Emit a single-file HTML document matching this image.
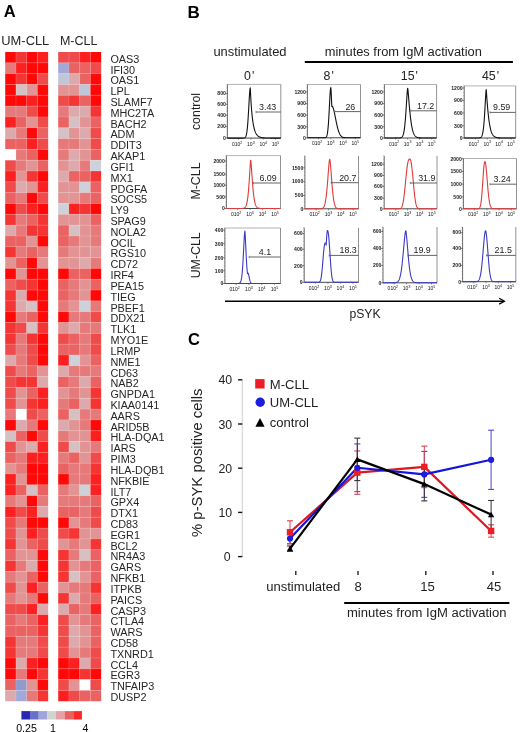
<!DOCTYPE html>
<html><head><meta charset="utf-8"><style>
html,body{margin:0;padding:0;background:#fff;}
svg{display:block;font-family:"Liberation Sans", sans-serif;filter:blur(0.3px);}
</style></head><body>
<svg width="520" height="732" viewBox="0 0 520 732">
<text x="3.8" y="17.3" font-size="16.5" font-weight="bold">A</text>
<text x="1.3" y="45.2" font-size="12.9" fill="#262626">UM-CLL</text>
<text x="59.9" y="45.2" font-size="12.5" fill="#262626">M-CLL</text>
<rect x="5.20" y="52.00" width="10.78" height="10.87" fill="#ff0808"/>
<rect x="15.93" y="52.00" width="10.78" height="10.87" fill="#f53434"/>
<rect x="26.65" y="52.00" width="10.78" height="10.87" fill="#ff0808"/>
<rect x="37.38" y="52.00" width="10.78" height="10.87" fill="#fc2020"/>
<rect x="5.20" y="62.82" width="10.78" height="10.87" fill="#e67a7a"/>
<rect x="15.93" y="62.82" width="10.78" height="10.87" fill="#fc2020"/>
<rect x="26.65" y="62.82" width="10.78" height="10.87" fill="#ff0808"/>
<rect x="37.38" y="62.82" width="10.78" height="10.87" fill="#ff0808"/>
<rect x="5.20" y="73.64" width="10.78" height="10.87" fill="#ff0808"/>
<rect x="15.93" y="73.64" width="10.78" height="10.87" fill="#f53434"/>
<rect x="26.65" y="73.64" width="10.78" height="10.87" fill="#ff0808"/>
<rect x="37.38" y="73.64" width="10.78" height="10.87" fill="#ef4b4b"/>
<rect x="5.20" y="84.46" width="10.78" height="10.87" fill="#ff0808"/>
<rect x="15.93" y="84.46" width="10.78" height="10.87" fill="#d5c0c3"/>
<rect x="26.65" y="84.46" width="10.78" height="10.87" fill="#e29494"/>
<rect x="37.38" y="84.46" width="10.78" height="10.87" fill="#ff0808"/>
<rect x="5.20" y="95.28" width="10.78" height="10.87" fill="#ff0808"/>
<rect x="15.93" y="95.28" width="10.78" height="10.87" fill="#ff0808"/>
<rect x="26.65" y="95.28" width="10.78" height="10.87" fill="#fc2020"/>
<rect x="37.38" y="95.28" width="10.78" height="10.87" fill="#ff0808"/>
<rect x="5.20" y="106.10" width="10.78" height="10.87" fill="#e67a7a"/>
<rect x="15.93" y="106.10" width="10.78" height="10.87" fill="#e67a7a"/>
<rect x="26.65" y="106.10" width="10.78" height="10.87" fill="#ef4b4b"/>
<rect x="37.38" y="106.10" width="10.78" height="10.87" fill="#ff0808"/>
<rect x="5.20" y="116.92" width="10.78" height="10.87" fill="#fc2020"/>
<rect x="15.93" y="116.92" width="10.78" height="10.87" fill="#ea6262"/>
<rect x="26.65" y="116.92" width="10.78" height="10.87" fill="#e29494"/>
<rect x="37.38" y="116.92" width="10.78" height="10.87" fill="#ef4b4b"/>
<rect x="5.20" y="127.74" width="10.78" height="10.87" fill="#dcaaac"/>
<rect x="15.93" y="127.74" width="10.78" height="10.87" fill="#e67a7a"/>
<rect x="26.65" y="127.74" width="10.78" height="10.87" fill="#ff0808"/>
<rect x="37.38" y="127.74" width="10.78" height="10.87" fill="#ea6262"/>
<rect x="5.20" y="138.56" width="10.78" height="10.87" fill="#ea6262"/>
<rect x="15.93" y="138.56" width="10.78" height="10.87" fill="#ea6262"/>
<rect x="26.65" y="138.56" width="10.78" height="10.87" fill="#fc2020"/>
<rect x="37.38" y="138.56" width="10.78" height="10.87" fill="#ef4b4b"/>
<rect x="5.20" y="149.38" width="10.78" height="10.87" fill="#ffffff"/>
<rect x="15.93" y="149.38" width="10.78" height="10.87" fill="#e67a7a"/>
<rect x="26.65" y="149.38" width="10.78" height="10.87" fill="#ea6262"/>
<rect x="37.38" y="149.38" width="10.78" height="10.87" fill="#ff0808"/>
<rect x="5.20" y="160.20" width="10.78" height="10.87" fill="#ef4b4b"/>
<rect x="15.93" y="160.20" width="10.78" height="10.87" fill="#e67a7a"/>
<rect x="26.65" y="160.20" width="10.78" height="10.87" fill="#e29494"/>
<rect x="37.38" y="160.20" width="10.78" height="10.87" fill="#ea6262"/>
<rect x="5.20" y="171.02" width="10.78" height="10.87" fill="#fc2020"/>
<rect x="15.93" y="171.02" width="10.78" height="10.87" fill="#e29494"/>
<rect x="26.65" y="171.02" width="10.78" height="10.87" fill="#f53434"/>
<rect x="37.38" y="171.02" width="10.78" height="10.87" fill="#ff0808"/>
<rect x="5.20" y="181.84" width="10.78" height="10.87" fill="#ef4b4b"/>
<rect x="15.93" y="181.84" width="10.78" height="10.87" fill="#dcaaac"/>
<rect x="26.65" y="181.84" width="10.78" height="10.87" fill="#e29494"/>
<rect x="37.38" y="181.84" width="10.78" height="10.87" fill="#fc2020"/>
<rect x="5.20" y="192.66" width="10.78" height="10.87" fill="#ea6262"/>
<rect x="15.93" y="192.66" width="10.78" height="10.87" fill="#e67a7a"/>
<rect x="26.65" y="192.66" width="10.78" height="10.87" fill="#ff0808"/>
<rect x="37.38" y="192.66" width="10.78" height="10.87" fill="#ef4b4b"/>
<rect x="5.20" y="203.48" width="10.78" height="10.87" fill="#ff0808"/>
<rect x="15.93" y="203.48" width="10.78" height="10.87" fill="#ef4b4b"/>
<rect x="26.65" y="203.48" width="10.78" height="10.87" fill="#fc2020"/>
<rect x="37.38" y="203.48" width="10.78" height="10.87" fill="#ff0808"/>
<rect x="5.20" y="214.30" width="10.78" height="10.87" fill="#f53434"/>
<rect x="15.93" y="214.30" width="10.78" height="10.87" fill="#e67a7a"/>
<rect x="26.65" y="214.30" width="10.78" height="10.87" fill="#ea6262"/>
<rect x="37.38" y="214.30" width="10.78" height="10.87" fill="#f53434"/>
<rect x="5.20" y="225.12" width="10.78" height="10.87" fill="#dcaaac"/>
<rect x="15.93" y="225.12" width="10.78" height="10.87" fill="#e67a7a"/>
<rect x="26.65" y="225.12" width="10.78" height="10.87" fill="#f53434"/>
<rect x="37.38" y="225.12" width="10.78" height="10.87" fill="#f53434"/>
<rect x="5.20" y="235.94" width="10.78" height="10.87" fill="#ea6262"/>
<rect x="15.93" y="235.94" width="10.78" height="10.87" fill="#ea6262"/>
<rect x="26.65" y="235.94" width="10.78" height="10.87" fill="#e29494"/>
<rect x="37.38" y="235.94" width="10.78" height="10.87" fill="#ff0808"/>
<rect x="5.20" y="246.76" width="10.78" height="10.87" fill="#f53434"/>
<rect x="15.93" y="246.76" width="10.78" height="10.87" fill="#e67a7a"/>
<rect x="26.65" y="246.76" width="10.78" height="10.87" fill="#ea6262"/>
<rect x="37.38" y="246.76" width="10.78" height="10.87" fill="#e67a7a"/>
<rect x="5.20" y="257.58" width="10.78" height="10.87" fill="#e29494"/>
<rect x="15.93" y="257.58" width="10.78" height="10.87" fill="#ea6262"/>
<rect x="26.65" y="257.58" width="10.78" height="10.87" fill="#ff0808"/>
<rect x="37.38" y="257.58" width="10.78" height="10.87" fill="#e29494"/>
<rect x="5.20" y="268.40" width="10.78" height="10.87" fill="#ff0808"/>
<rect x="15.93" y="268.40" width="10.78" height="10.87" fill="#e29494"/>
<rect x="26.65" y="268.40" width="10.78" height="10.87" fill="#ff0808"/>
<rect x="37.38" y="268.40" width="10.78" height="10.87" fill="#ff0808"/>
<rect x="5.20" y="279.22" width="10.78" height="10.87" fill="#ea6262"/>
<rect x="15.93" y="279.22" width="10.78" height="10.87" fill="#ef4b4b"/>
<rect x="26.65" y="279.22" width="10.78" height="10.87" fill="#f53434"/>
<rect x="37.38" y="279.22" width="10.78" height="10.87" fill="#ff0808"/>
<rect x="5.20" y="290.04" width="10.78" height="10.87" fill="#f53434"/>
<rect x="15.93" y="290.04" width="10.78" height="10.87" fill="#dcaaac"/>
<rect x="26.65" y="290.04" width="10.78" height="10.87" fill="#ff0808"/>
<rect x="37.38" y="290.04" width="10.78" height="10.87" fill="#ff0808"/>
<rect x="5.20" y="300.86" width="10.78" height="10.87" fill="#f53434"/>
<rect x="15.93" y="300.86" width="10.78" height="10.87" fill="#dcaaac"/>
<rect x="26.65" y="300.86" width="10.78" height="10.87" fill="#d5c0c3"/>
<rect x="37.38" y="300.86" width="10.78" height="10.87" fill="#ff0808"/>
<rect x="5.20" y="311.68" width="10.78" height="10.87" fill="#ff0808"/>
<rect x="15.93" y="311.68" width="10.78" height="10.87" fill="#e67a7a"/>
<rect x="26.65" y="311.68" width="10.78" height="10.87" fill="#ea6262"/>
<rect x="37.38" y="311.68" width="10.78" height="10.87" fill="#ff0808"/>
<rect x="5.20" y="322.50" width="10.78" height="10.87" fill="#f53434"/>
<rect x="15.93" y="322.50" width="10.78" height="10.87" fill="#ef4b4b"/>
<rect x="26.65" y="322.50" width="10.78" height="10.87" fill="#d5c0c3"/>
<rect x="37.38" y="322.50" width="10.78" height="10.87" fill="#f53434"/>
<rect x="5.20" y="333.32" width="10.78" height="10.87" fill="#f53434"/>
<rect x="15.93" y="333.32" width="10.78" height="10.87" fill="#e67a7a"/>
<rect x="26.65" y="333.32" width="10.78" height="10.87" fill="#f53434"/>
<rect x="37.38" y="333.32" width="10.78" height="10.87" fill="#ff0808"/>
<rect x="5.20" y="344.14" width="10.78" height="10.87" fill="#ef4b4b"/>
<rect x="15.93" y="344.14" width="10.78" height="10.87" fill="#e67a7a"/>
<rect x="26.65" y="344.14" width="10.78" height="10.87" fill="#ef4b4b"/>
<rect x="37.38" y="344.14" width="10.78" height="10.87" fill="#ff0808"/>
<rect x="5.20" y="354.96" width="10.78" height="10.87" fill="#dcaaac"/>
<rect x="15.93" y="354.96" width="10.78" height="10.87" fill="#e67a7a"/>
<rect x="26.65" y="354.96" width="10.78" height="10.87" fill="#ef4b4b"/>
<rect x="37.38" y="354.96" width="10.78" height="10.87" fill="#ff0808"/>
<rect x="5.20" y="365.78" width="10.78" height="10.87" fill="#ef4b4b"/>
<rect x="15.93" y="365.78" width="10.78" height="10.87" fill="#e67a7a"/>
<rect x="26.65" y="365.78" width="10.78" height="10.87" fill="#ea6262"/>
<rect x="37.38" y="365.78" width="10.78" height="10.87" fill="#e29494"/>
<rect x="5.20" y="376.60" width="10.78" height="10.87" fill="#ef4b4b"/>
<rect x="15.93" y="376.60" width="10.78" height="10.87" fill="#f53434"/>
<rect x="26.65" y="376.60" width="10.78" height="10.87" fill="#f53434"/>
<rect x="37.38" y="376.60" width="10.78" height="10.87" fill="#dcaaac"/>
<rect x="5.20" y="387.42" width="10.78" height="10.87" fill="#ef4b4b"/>
<rect x="15.93" y="387.42" width="10.78" height="10.87" fill="#e29494"/>
<rect x="26.65" y="387.42" width="10.78" height="10.87" fill="#ea6262"/>
<rect x="37.38" y="387.42" width="10.78" height="10.87" fill="#fc2020"/>
<rect x="5.20" y="398.24" width="10.78" height="10.87" fill="#ef4b4b"/>
<rect x="15.93" y="398.24" width="10.78" height="10.87" fill="#e29494"/>
<rect x="26.65" y="398.24" width="10.78" height="10.87" fill="#f53434"/>
<rect x="37.38" y="398.24" width="10.78" height="10.87" fill="#fc2020"/>
<rect x="5.20" y="409.06" width="10.78" height="10.87" fill="#e67a7a"/>
<rect x="15.93" y="409.06" width="10.78" height="10.87" fill="#ffffff"/>
<rect x="26.65" y="409.06" width="10.78" height="10.87" fill="#ef4b4b"/>
<rect x="37.38" y="409.06" width="10.78" height="10.87" fill="#ea6262"/>
<rect x="5.20" y="419.88" width="10.78" height="10.87" fill="#ff0808"/>
<rect x="15.93" y="419.88" width="10.78" height="10.87" fill="#dcaaac"/>
<rect x="26.65" y="419.88" width="10.78" height="10.87" fill="#e67a7a"/>
<rect x="37.38" y="419.88" width="10.78" height="10.87" fill="#ff0808"/>
<rect x="5.20" y="430.70" width="10.78" height="10.87" fill="#d5c0c3"/>
<rect x="15.93" y="430.70" width="10.78" height="10.87" fill="#ea6262"/>
<rect x="26.65" y="430.70" width="10.78" height="10.87" fill="#ff0808"/>
<rect x="37.38" y="430.70" width="10.78" height="10.87" fill="#ef4b4b"/>
<rect x="5.20" y="441.52" width="10.78" height="10.87" fill="#ef4b4b"/>
<rect x="15.93" y="441.52" width="10.78" height="10.87" fill="#e29494"/>
<rect x="26.65" y="441.52" width="10.78" height="10.87" fill="#dcaaac"/>
<rect x="37.38" y="441.52" width="10.78" height="10.87" fill="#fc2020"/>
<rect x="5.20" y="452.34" width="10.78" height="10.87" fill="#ea6262"/>
<rect x="15.93" y="452.34" width="10.78" height="10.87" fill="#e67a7a"/>
<rect x="26.65" y="452.34" width="10.78" height="10.87" fill="#fc2020"/>
<rect x="37.38" y="452.34" width="10.78" height="10.87" fill="#fc2020"/>
<rect x="5.20" y="463.16" width="10.78" height="10.87" fill="#e29494"/>
<rect x="15.93" y="463.16" width="10.78" height="10.87" fill="#e67a7a"/>
<rect x="26.65" y="463.16" width="10.78" height="10.87" fill="#ff0808"/>
<rect x="37.38" y="463.16" width="10.78" height="10.87" fill="#ff0808"/>
<rect x="5.20" y="473.98" width="10.78" height="10.87" fill="#fc2020"/>
<rect x="15.93" y="473.98" width="10.78" height="10.87" fill="#e29494"/>
<rect x="26.65" y="473.98" width="10.78" height="10.87" fill="#ff0808"/>
<rect x="37.38" y="473.98" width="10.78" height="10.87" fill="#ff0808"/>
<rect x="5.20" y="484.80" width="10.78" height="10.87" fill="#fc2020"/>
<rect x="15.93" y="484.80" width="10.78" height="10.87" fill="#ea6262"/>
<rect x="26.65" y="484.80" width="10.78" height="10.87" fill="#d5c0c3"/>
<rect x="37.38" y="484.80" width="10.78" height="10.87" fill="#ea6262"/>
<rect x="5.20" y="495.62" width="10.78" height="10.87" fill="#e67a7a"/>
<rect x="15.93" y="495.62" width="10.78" height="10.87" fill="#e29494"/>
<rect x="26.65" y="495.62" width="10.78" height="10.87" fill="#ff0808"/>
<rect x="37.38" y="495.62" width="10.78" height="10.87" fill="#e67a7a"/>
<rect x="5.20" y="506.44" width="10.78" height="10.87" fill="#fc2020"/>
<rect x="15.93" y="506.44" width="10.78" height="10.87" fill="#ef4b4b"/>
<rect x="26.65" y="506.44" width="10.78" height="10.87" fill="#fc2020"/>
<rect x="37.38" y="506.44" width="10.78" height="10.87" fill="#dcaaac"/>
<rect x="5.20" y="517.26" width="10.78" height="10.87" fill="#ef4b4b"/>
<rect x="15.93" y="517.26" width="10.78" height="10.87" fill="#e67a7a"/>
<rect x="26.65" y="517.26" width="10.78" height="10.87" fill="#ff0808"/>
<rect x="37.38" y="517.26" width="10.78" height="10.87" fill="#ff0808"/>
<rect x="5.20" y="528.08" width="10.78" height="10.87" fill="#ef4b4b"/>
<rect x="15.93" y="528.08" width="10.78" height="10.87" fill="#e29494"/>
<rect x="26.65" y="528.08" width="10.78" height="10.87" fill="#fc2020"/>
<rect x="37.38" y="528.08" width="10.78" height="10.87" fill="#ef4b4b"/>
<rect x="5.20" y="538.90" width="10.78" height="10.87" fill="#f53434"/>
<rect x="15.93" y="538.90" width="10.78" height="10.87" fill="#e29494"/>
<rect x="26.65" y="538.90" width="10.78" height="10.87" fill="#ea6262"/>
<rect x="37.38" y="538.90" width="10.78" height="10.87" fill="#ef4b4b"/>
<rect x="5.20" y="549.72" width="10.78" height="10.87" fill="#ea6262"/>
<rect x="15.93" y="549.72" width="10.78" height="10.87" fill="#e29494"/>
<rect x="26.65" y="549.72" width="10.78" height="10.87" fill="#e29494"/>
<rect x="37.38" y="549.72" width="10.78" height="10.87" fill="#ff0808"/>
<rect x="5.20" y="560.54" width="10.78" height="10.87" fill="#f53434"/>
<rect x="15.93" y="560.54" width="10.78" height="10.87" fill="#e67a7a"/>
<rect x="26.65" y="560.54" width="10.78" height="10.87" fill="#dcaaac"/>
<rect x="37.38" y="560.54" width="10.78" height="10.87" fill="#ff0808"/>
<rect x="5.20" y="571.36" width="10.78" height="10.87" fill="#e67a7a"/>
<rect x="15.93" y="571.36" width="10.78" height="10.87" fill="#e29494"/>
<rect x="26.65" y="571.36" width="10.78" height="10.87" fill="#ea6262"/>
<rect x="37.38" y="571.36" width="10.78" height="10.87" fill="#ff0808"/>
<rect x="5.20" y="582.18" width="10.78" height="10.87" fill="#ef4b4b"/>
<rect x="15.93" y="582.18" width="10.78" height="10.87" fill="#e29494"/>
<rect x="26.65" y="582.18" width="10.78" height="10.87" fill="#fc2020"/>
<rect x="37.38" y="582.18" width="10.78" height="10.87" fill="#ea6262"/>
<rect x="5.20" y="593.00" width="10.78" height="10.87" fill="#e67a7a"/>
<rect x="15.93" y="593.00" width="10.78" height="10.87" fill="#e29494"/>
<rect x="26.65" y="593.00" width="10.78" height="10.87" fill="#e67a7a"/>
<rect x="37.38" y="593.00" width="10.78" height="10.87" fill="#ff0808"/>
<rect x="5.20" y="603.82" width="10.78" height="10.87" fill="#ef4b4b"/>
<rect x="15.93" y="603.82" width="10.78" height="10.87" fill="#ef4b4b"/>
<rect x="26.65" y="603.82" width="10.78" height="10.87" fill="#fc2020"/>
<rect x="37.38" y="603.82" width="10.78" height="10.87" fill="#dcaaac"/>
<rect x="5.20" y="614.64" width="10.78" height="10.87" fill="#ea6262"/>
<rect x="15.93" y="614.64" width="10.78" height="10.87" fill="#e67a7a"/>
<rect x="26.65" y="614.64" width="10.78" height="10.87" fill="#ea6262"/>
<rect x="37.38" y="614.64" width="10.78" height="10.87" fill="#fc2020"/>
<rect x="5.20" y="625.46" width="10.78" height="10.87" fill="#ea6262"/>
<rect x="15.93" y="625.46" width="10.78" height="10.87" fill="#ea6262"/>
<rect x="26.65" y="625.46" width="10.78" height="10.87" fill="#ea6262"/>
<rect x="37.38" y="625.46" width="10.78" height="10.87" fill="#f53434"/>
<rect x="5.20" y="636.28" width="10.78" height="10.87" fill="#f53434"/>
<rect x="15.93" y="636.28" width="10.78" height="10.87" fill="#e67a7a"/>
<rect x="26.65" y="636.28" width="10.78" height="10.87" fill="#e67a7a"/>
<rect x="37.38" y="636.28" width="10.78" height="10.87" fill="#ef4b4b"/>
<rect x="5.20" y="647.10" width="10.78" height="10.87" fill="#f53434"/>
<rect x="15.93" y="647.10" width="10.78" height="10.87" fill="#e67a7a"/>
<rect x="26.65" y="647.10" width="10.78" height="10.87" fill="#e67a7a"/>
<rect x="37.38" y="647.10" width="10.78" height="10.87" fill="#ef4b4b"/>
<rect x="5.20" y="657.92" width="10.78" height="10.87" fill="#ff0808"/>
<rect x="15.93" y="657.92" width="10.78" height="10.87" fill="#dcaaac"/>
<rect x="26.65" y="657.92" width="10.78" height="10.87" fill="#fc2020"/>
<rect x="37.38" y="657.92" width="10.78" height="10.87" fill="#ff0808"/>
<rect x="5.20" y="668.74" width="10.78" height="10.87" fill="#ff0808"/>
<rect x="15.93" y="668.74" width="10.78" height="10.87" fill="#e67a7a"/>
<rect x="26.65" y="668.74" width="10.78" height="10.87" fill="#ff0808"/>
<rect x="37.38" y="668.74" width="10.78" height="10.87" fill="#f53434"/>
<rect x="5.20" y="679.56" width="10.78" height="10.87" fill="#ea6262"/>
<rect x="15.93" y="679.56" width="10.78" height="10.87" fill="#9299cc"/>
<rect x="26.65" y="679.56" width="10.78" height="10.87" fill="#e29494"/>
<rect x="37.38" y="679.56" width="10.78" height="10.87" fill="#ff0808"/>
<rect x="5.20" y="690.38" width="10.78" height="10.87" fill="#dcaaac"/>
<rect x="15.93" y="690.38" width="10.78" height="10.87" fill="#a3a9d7"/>
<rect x="26.65" y="690.38" width="10.78" height="10.87" fill="#e67a7a"/>
<rect x="37.38" y="690.38" width="10.78" height="10.87" fill="#f53434"/>
<line x1="15.93" y1="52.0" x2="15.93" y2="701.20" stroke="#fff" stroke-opacity="0.25" stroke-width="0.6"/>
<line x1="26.65" y1="52.0" x2="26.65" y2="701.20" stroke="#fff" stroke-opacity="0.25" stroke-width="0.6"/>
<line x1="37.38" y1="52.0" x2="37.38" y2="701.20" stroke="#fff" stroke-opacity="0.25" stroke-width="0.6"/>
<line x1="5.2" y1="62.82" x2="48.10" y2="62.82" stroke="#fff" stroke-opacity="0.25" stroke-width="0.6"/>
<line x1="5.2" y1="73.64" x2="48.10" y2="73.64" stroke="#fff" stroke-opacity="0.25" stroke-width="0.6"/>
<line x1="5.2" y1="84.46" x2="48.10" y2="84.46" stroke="#fff" stroke-opacity="0.25" stroke-width="0.6"/>
<line x1="5.2" y1="95.28" x2="48.10" y2="95.28" stroke="#fff" stroke-opacity="0.25" stroke-width="0.6"/>
<line x1="5.2" y1="106.10" x2="48.10" y2="106.10" stroke="#fff" stroke-opacity="0.25" stroke-width="0.6"/>
<line x1="5.2" y1="116.92" x2="48.10" y2="116.92" stroke="#fff" stroke-opacity="0.25" stroke-width="0.6"/>
<line x1="5.2" y1="127.74" x2="48.10" y2="127.74" stroke="#fff" stroke-opacity="0.25" stroke-width="0.6"/>
<line x1="5.2" y1="138.56" x2="48.10" y2="138.56" stroke="#fff" stroke-opacity="0.25" stroke-width="0.6"/>
<line x1="5.2" y1="149.38" x2="48.10" y2="149.38" stroke="#fff" stroke-opacity="0.25" stroke-width="0.6"/>
<line x1="5.2" y1="160.20" x2="48.10" y2="160.20" stroke="#fff" stroke-opacity="0.25" stroke-width="0.6"/>
<line x1="5.2" y1="171.02" x2="48.10" y2="171.02" stroke="#fff" stroke-opacity="0.25" stroke-width="0.6"/>
<line x1="5.2" y1="181.84" x2="48.10" y2="181.84" stroke="#fff" stroke-opacity="0.25" stroke-width="0.6"/>
<line x1="5.2" y1="192.66" x2="48.10" y2="192.66" stroke="#fff" stroke-opacity="0.25" stroke-width="0.6"/>
<line x1="5.2" y1="203.48" x2="48.10" y2="203.48" stroke="#fff" stroke-opacity="0.25" stroke-width="0.6"/>
<line x1="5.2" y1="214.30" x2="48.10" y2="214.30" stroke="#fff" stroke-opacity="0.25" stroke-width="0.6"/>
<line x1="5.2" y1="225.12" x2="48.10" y2="225.12" stroke="#fff" stroke-opacity="0.25" stroke-width="0.6"/>
<line x1="5.2" y1="235.94" x2="48.10" y2="235.94" stroke="#fff" stroke-opacity="0.25" stroke-width="0.6"/>
<line x1="5.2" y1="246.76" x2="48.10" y2="246.76" stroke="#fff" stroke-opacity="0.25" stroke-width="0.6"/>
<line x1="5.2" y1="257.58" x2="48.10" y2="257.58" stroke="#fff" stroke-opacity="0.25" stroke-width="0.6"/>
<line x1="5.2" y1="268.40" x2="48.10" y2="268.40" stroke="#fff" stroke-opacity="0.25" stroke-width="0.6"/>
<line x1="5.2" y1="279.22" x2="48.10" y2="279.22" stroke="#fff" stroke-opacity="0.25" stroke-width="0.6"/>
<line x1="5.2" y1="290.04" x2="48.10" y2="290.04" stroke="#fff" stroke-opacity="0.25" stroke-width="0.6"/>
<line x1="5.2" y1="300.86" x2="48.10" y2="300.86" stroke="#fff" stroke-opacity="0.25" stroke-width="0.6"/>
<line x1="5.2" y1="311.68" x2="48.10" y2="311.68" stroke="#fff" stroke-opacity="0.25" stroke-width="0.6"/>
<line x1="5.2" y1="322.50" x2="48.10" y2="322.50" stroke="#fff" stroke-opacity="0.25" stroke-width="0.6"/>
<line x1="5.2" y1="333.32" x2="48.10" y2="333.32" stroke="#fff" stroke-opacity="0.25" stroke-width="0.6"/>
<line x1="5.2" y1="344.14" x2="48.10" y2="344.14" stroke="#fff" stroke-opacity="0.25" stroke-width="0.6"/>
<line x1="5.2" y1="354.96" x2="48.10" y2="354.96" stroke="#fff" stroke-opacity="0.25" stroke-width="0.6"/>
<line x1="5.2" y1="365.78" x2="48.10" y2="365.78" stroke="#fff" stroke-opacity="0.25" stroke-width="0.6"/>
<line x1="5.2" y1="376.60" x2="48.10" y2="376.60" stroke="#fff" stroke-opacity="0.25" stroke-width="0.6"/>
<line x1="5.2" y1="387.42" x2="48.10" y2="387.42" stroke="#fff" stroke-opacity="0.25" stroke-width="0.6"/>
<line x1="5.2" y1="398.24" x2="48.10" y2="398.24" stroke="#fff" stroke-opacity="0.25" stroke-width="0.6"/>
<line x1="5.2" y1="409.06" x2="48.10" y2="409.06" stroke="#fff" stroke-opacity="0.25" stroke-width="0.6"/>
<line x1="5.2" y1="419.88" x2="48.10" y2="419.88" stroke="#fff" stroke-opacity="0.25" stroke-width="0.6"/>
<line x1="5.2" y1="430.70" x2="48.10" y2="430.70" stroke="#fff" stroke-opacity="0.25" stroke-width="0.6"/>
<line x1="5.2" y1="441.52" x2="48.10" y2="441.52" stroke="#fff" stroke-opacity="0.25" stroke-width="0.6"/>
<line x1="5.2" y1="452.34" x2="48.10" y2="452.34" stroke="#fff" stroke-opacity="0.25" stroke-width="0.6"/>
<line x1="5.2" y1="463.16" x2="48.10" y2="463.16" stroke="#fff" stroke-opacity="0.25" stroke-width="0.6"/>
<line x1="5.2" y1="473.98" x2="48.10" y2="473.98" stroke="#fff" stroke-opacity="0.25" stroke-width="0.6"/>
<line x1="5.2" y1="484.80" x2="48.10" y2="484.80" stroke="#fff" stroke-opacity="0.25" stroke-width="0.6"/>
<line x1="5.2" y1="495.62" x2="48.10" y2="495.62" stroke="#fff" stroke-opacity="0.25" stroke-width="0.6"/>
<line x1="5.2" y1="506.44" x2="48.10" y2="506.44" stroke="#fff" stroke-opacity="0.25" stroke-width="0.6"/>
<line x1="5.2" y1="517.26" x2="48.10" y2="517.26" stroke="#fff" stroke-opacity="0.25" stroke-width="0.6"/>
<line x1="5.2" y1="528.08" x2="48.10" y2="528.08" stroke="#fff" stroke-opacity="0.25" stroke-width="0.6"/>
<line x1="5.2" y1="538.90" x2="48.10" y2="538.90" stroke="#fff" stroke-opacity="0.25" stroke-width="0.6"/>
<line x1="5.2" y1="549.72" x2="48.10" y2="549.72" stroke="#fff" stroke-opacity="0.25" stroke-width="0.6"/>
<line x1="5.2" y1="560.54" x2="48.10" y2="560.54" stroke="#fff" stroke-opacity="0.25" stroke-width="0.6"/>
<line x1="5.2" y1="571.36" x2="48.10" y2="571.36" stroke="#fff" stroke-opacity="0.25" stroke-width="0.6"/>
<line x1="5.2" y1="582.18" x2="48.10" y2="582.18" stroke="#fff" stroke-opacity="0.25" stroke-width="0.6"/>
<line x1="5.2" y1="593.00" x2="48.10" y2="593.00" stroke="#fff" stroke-opacity="0.25" stroke-width="0.6"/>
<line x1="5.2" y1="603.82" x2="48.10" y2="603.82" stroke="#fff" stroke-opacity="0.25" stroke-width="0.6"/>
<line x1="5.2" y1="614.64" x2="48.10" y2="614.64" stroke="#fff" stroke-opacity="0.25" stroke-width="0.6"/>
<line x1="5.2" y1="625.46" x2="48.10" y2="625.46" stroke="#fff" stroke-opacity="0.25" stroke-width="0.6"/>
<line x1="5.2" y1="636.28" x2="48.10" y2="636.28" stroke="#fff" stroke-opacity="0.25" stroke-width="0.6"/>
<line x1="5.2" y1="647.10" x2="48.10" y2="647.10" stroke="#fff" stroke-opacity="0.25" stroke-width="0.6"/>
<line x1="5.2" y1="657.92" x2="48.10" y2="657.92" stroke="#fff" stroke-opacity="0.25" stroke-width="0.6"/>
<line x1="5.2" y1="668.74" x2="48.10" y2="668.74" stroke="#fff" stroke-opacity="0.25" stroke-width="0.6"/>
<line x1="5.2" y1="679.56" x2="48.10" y2="679.56" stroke="#fff" stroke-opacity="0.25" stroke-width="0.6"/>
<line x1="5.2" y1="690.38" x2="48.10" y2="690.38" stroke="#fff" stroke-opacity="0.25" stroke-width="0.6"/>
<rect x="58.20" y="52.00" width="10.78" height="10.87" fill="#ef4b4b"/>
<rect x="68.92" y="52.00" width="10.78" height="10.87" fill="#ef4b4b"/>
<rect x="79.65" y="52.00" width="10.78" height="10.87" fill="#fc2020"/>
<rect x="90.38" y="52.00" width="10.78" height="10.87" fill="#ff0808"/>
<rect x="58.20" y="62.82" width="10.78" height="10.87" fill="#a3a9d7"/>
<rect x="68.92" y="62.82" width="10.78" height="10.87" fill="#ea6262"/>
<rect x="79.65" y="62.82" width="10.78" height="10.87" fill="#ea6262"/>
<rect x="90.38" y="62.82" width="10.78" height="10.87" fill="#ef4b4b"/>
<rect x="58.20" y="73.64" width="10.78" height="10.87" fill="#c0c6da"/>
<rect x="68.92" y="73.64" width="10.78" height="10.87" fill="#dcaaac"/>
<rect x="79.65" y="73.64" width="10.78" height="10.87" fill="#ea6262"/>
<rect x="90.38" y="73.64" width="10.78" height="10.87" fill="#ff0808"/>
<rect x="58.20" y="84.46" width="10.78" height="10.87" fill="#e29494"/>
<rect x="68.92" y="84.46" width="10.78" height="10.87" fill="#e29494"/>
<rect x="79.65" y="84.46" width="10.78" height="10.87" fill="#c0c6da"/>
<rect x="90.38" y="84.46" width="10.78" height="10.87" fill="#ff0808"/>
<rect x="58.20" y="95.28" width="10.78" height="10.87" fill="#ef4b4b"/>
<rect x="68.92" y="95.28" width="10.78" height="10.87" fill="#f53434"/>
<rect x="79.65" y="95.28" width="10.78" height="10.87" fill="#ea6262"/>
<rect x="90.38" y="95.28" width="10.78" height="10.87" fill="#ff0808"/>
<rect x="58.20" y="106.10" width="10.78" height="10.87" fill="#e67a7a"/>
<rect x="68.92" y="106.10" width="10.78" height="10.87" fill="#dcaaac"/>
<rect x="79.65" y="106.10" width="10.78" height="10.87" fill="#dcaaac"/>
<rect x="90.38" y="106.10" width="10.78" height="10.87" fill="#f53434"/>
<rect x="58.20" y="116.92" width="10.78" height="10.87" fill="#ea6262"/>
<rect x="68.92" y="116.92" width="10.78" height="10.87" fill="#d5c0c3"/>
<rect x="79.65" y="116.92" width="10.78" height="10.87" fill="#e29494"/>
<rect x="90.38" y="116.92" width="10.78" height="10.87" fill="#ea6262"/>
<rect x="58.20" y="127.74" width="10.78" height="10.87" fill="#d5c0c3"/>
<rect x="68.92" y="127.74" width="10.78" height="10.87" fill="#e29494"/>
<rect x="79.65" y="127.74" width="10.78" height="10.87" fill="#dcaaac"/>
<rect x="90.38" y="127.74" width="10.78" height="10.87" fill="#ef4b4b"/>
<rect x="58.20" y="138.56" width="10.78" height="10.87" fill="#e67a7a"/>
<rect x="68.92" y="138.56" width="10.78" height="10.87" fill="#e67a7a"/>
<rect x="79.65" y="138.56" width="10.78" height="10.87" fill="#e29494"/>
<rect x="90.38" y="138.56" width="10.78" height="10.87" fill="#ef4b4b"/>
<rect x="58.20" y="149.38" width="10.78" height="10.87" fill="#e67a7a"/>
<rect x="68.92" y="149.38" width="10.78" height="10.87" fill="#dcaaac"/>
<rect x="79.65" y="149.38" width="10.78" height="10.87" fill="#e29494"/>
<rect x="90.38" y="149.38" width="10.78" height="10.87" fill="#ea6262"/>
<rect x="58.20" y="160.20" width="10.78" height="10.87" fill="#e29494"/>
<rect x="68.92" y="160.20" width="10.78" height="10.87" fill="#dcaaac"/>
<rect x="79.65" y="160.20" width="10.78" height="10.87" fill="#e67a7a"/>
<rect x="90.38" y="160.20" width="10.78" height="10.87" fill="#cdd1d9"/>
<rect x="58.20" y="171.02" width="10.78" height="10.87" fill="#dcaaac"/>
<rect x="68.92" y="171.02" width="10.78" height="10.87" fill="#ea6262"/>
<rect x="79.65" y="171.02" width="10.78" height="10.87" fill="#ea6262"/>
<rect x="90.38" y="171.02" width="10.78" height="10.87" fill="#f53434"/>
<rect x="58.20" y="181.84" width="10.78" height="10.87" fill="#e29494"/>
<rect x="68.92" y="181.84" width="10.78" height="10.87" fill="#e29494"/>
<rect x="79.65" y="181.84" width="10.78" height="10.87" fill="#cdd1d9"/>
<rect x="90.38" y="181.84" width="10.78" height="10.87" fill="#ea6262"/>
<rect x="58.20" y="192.66" width="10.78" height="10.87" fill="#e29494"/>
<rect x="68.92" y="192.66" width="10.78" height="10.87" fill="#e29494"/>
<rect x="79.65" y="192.66" width="10.78" height="10.87" fill="#e67a7a"/>
<rect x="90.38" y="192.66" width="10.78" height="10.87" fill="#ea6262"/>
<rect x="58.20" y="203.48" width="10.78" height="10.87" fill="#cdd1d9"/>
<rect x="68.92" y="203.48" width="10.78" height="10.87" fill="#fc2020"/>
<rect x="79.65" y="203.48" width="10.78" height="10.87" fill="#f53434"/>
<rect x="90.38" y="203.48" width="10.78" height="10.87" fill="#ff0808"/>
<rect x="58.20" y="214.30" width="10.78" height="10.87" fill="#e29494"/>
<rect x="68.92" y="214.30" width="10.78" height="10.87" fill="#e29494"/>
<rect x="79.65" y="214.30" width="10.78" height="10.87" fill="#e29494"/>
<rect x="90.38" y="214.30" width="10.78" height="10.87" fill="#ea6262"/>
<rect x="58.20" y="225.12" width="10.78" height="10.87" fill="#ea6262"/>
<rect x="68.92" y="225.12" width="10.78" height="10.87" fill="#d5c0c3"/>
<rect x="79.65" y="225.12" width="10.78" height="10.87" fill="#e29494"/>
<rect x="90.38" y="225.12" width="10.78" height="10.87" fill="#e67a7a"/>
<rect x="58.20" y="235.94" width="10.78" height="10.87" fill="#ea6262"/>
<rect x="68.92" y="235.94" width="10.78" height="10.87" fill="#e67a7a"/>
<rect x="79.65" y="235.94" width="10.78" height="10.87" fill="#e29494"/>
<rect x="90.38" y="235.94" width="10.78" height="10.87" fill="#e67a7a"/>
<rect x="58.20" y="246.76" width="10.78" height="10.87" fill="#e67a7a"/>
<rect x="68.92" y="246.76" width="10.78" height="10.87" fill="#e29494"/>
<rect x="79.65" y="246.76" width="10.78" height="10.87" fill="#e29494"/>
<rect x="90.38" y="246.76" width="10.78" height="10.87" fill="#e29494"/>
<rect x="58.20" y="257.58" width="10.78" height="10.87" fill="#e29494"/>
<rect x="68.92" y="257.58" width="10.78" height="10.87" fill="#e29494"/>
<rect x="79.65" y="257.58" width="10.78" height="10.87" fill="#dcaaac"/>
<rect x="90.38" y="257.58" width="10.78" height="10.87" fill="#e67a7a"/>
<rect x="58.20" y="268.40" width="10.78" height="10.87" fill="#ff0808"/>
<rect x="68.92" y="268.40" width="10.78" height="10.87" fill="#ea6262"/>
<rect x="79.65" y="268.40" width="10.78" height="10.87" fill="#ea6262"/>
<rect x="90.38" y="268.40" width="10.78" height="10.87" fill="#ff0808"/>
<rect x="58.20" y="279.22" width="10.78" height="10.87" fill="#ea6262"/>
<rect x="68.92" y="279.22" width="10.78" height="10.87" fill="#e67a7a"/>
<rect x="79.65" y="279.22" width="10.78" height="10.87" fill="#e29494"/>
<rect x="90.38" y="279.22" width="10.78" height="10.87" fill="#ea6262"/>
<rect x="58.20" y="290.04" width="10.78" height="10.87" fill="#ea6262"/>
<rect x="68.92" y="290.04" width="10.78" height="10.87" fill="#e67a7a"/>
<rect x="79.65" y="290.04" width="10.78" height="10.87" fill="#e29494"/>
<rect x="90.38" y="290.04" width="10.78" height="10.87" fill="#ff0808"/>
<rect x="58.20" y="300.86" width="10.78" height="10.87" fill="#e67a7a"/>
<rect x="68.92" y="300.86" width="10.78" height="10.87" fill="#e29494"/>
<rect x="79.65" y="300.86" width="10.78" height="10.87" fill="#cdd1d9"/>
<rect x="90.38" y="300.86" width="10.78" height="10.87" fill="#e67a7a"/>
<rect x="58.20" y="311.68" width="10.78" height="10.87" fill="#ff0808"/>
<rect x="68.92" y="311.68" width="10.78" height="10.87" fill="#e67a7a"/>
<rect x="79.65" y="311.68" width="10.78" height="10.87" fill="#e67a7a"/>
<rect x="90.38" y="311.68" width="10.78" height="10.87" fill="#ef4b4b"/>
<rect x="58.20" y="322.50" width="10.78" height="10.87" fill="#e29494"/>
<rect x="68.92" y="322.50" width="10.78" height="10.87" fill="#dcaaac"/>
<rect x="79.65" y="322.50" width="10.78" height="10.87" fill="#e67a7a"/>
<rect x="90.38" y="322.50" width="10.78" height="10.87" fill="#e67a7a"/>
<rect x="58.20" y="333.32" width="10.78" height="10.87" fill="#ef4b4b"/>
<rect x="68.92" y="333.32" width="10.78" height="10.87" fill="#ea6262"/>
<rect x="79.65" y="333.32" width="10.78" height="10.87" fill="#e67a7a"/>
<rect x="90.38" y="333.32" width="10.78" height="10.87" fill="#ef4b4b"/>
<rect x="58.20" y="344.14" width="10.78" height="10.87" fill="#ea6262"/>
<rect x="68.92" y="344.14" width="10.78" height="10.87" fill="#ea6262"/>
<rect x="79.65" y="344.14" width="10.78" height="10.87" fill="#e67a7a"/>
<rect x="90.38" y="344.14" width="10.78" height="10.87" fill="#ef4b4b"/>
<rect x="58.20" y="354.96" width="10.78" height="10.87" fill="#fc2020"/>
<rect x="68.92" y="354.96" width="10.78" height="10.87" fill="#cdd1d9"/>
<rect x="79.65" y="354.96" width="10.78" height="10.87" fill="#e29494"/>
<rect x="90.38" y="354.96" width="10.78" height="10.87" fill="#ea6262"/>
<rect x="58.20" y="365.78" width="10.78" height="10.87" fill="#dcaaac"/>
<rect x="68.92" y="365.78" width="10.78" height="10.87" fill="#e67a7a"/>
<rect x="79.65" y="365.78" width="10.78" height="10.87" fill="#e67a7a"/>
<rect x="90.38" y="365.78" width="10.78" height="10.87" fill="#e67a7a"/>
<rect x="58.20" y="376.60" width="10.78" height="10.87" fill="#ea6262"/>
<rect x="68.92" y="376.60" width="10.78" height="10.87" fill="#e67a7a"/>
<rect x="79.65" y="376.60" width="10.78" height="10.87" fill="#dcaaac"/>
<rect x="90.38" y="376.60" width="10.78" height="10.87" fill="#ea6262"/>
<rect x="58.20" y="387.42" width="10.78" height="10.87" fill="#e29494"/>
<rect x="68.92" y="387.42" width="10.78" height="10.87" fill="#e67a7a"/>
<rect x="79.65" y="387.42" width="10.78" height="10.87" fill="#e29494"/>
<rect x="90.38" y="387.42" width="10.78" height="10.87" fill="#f53434"/>
<rect x="58.20" y="398.24" width="10.78" height="10.87" fill="#e67a7a"/>
<rect x="68.92" y="398.24" width="10.78" height="10.87" fill="#ea6262"/>
<rect x="79.65" y="398.24" width="10.78" height="10.87" fill="#dcaaac"/>
<rect x="90.38" y="398.24" width="10.78" height="10.87" fill="#f53434"/>
<rect x="58.20" y="409.06" width="10.78" height="10.87" fill="#ea6262"/>
<rect x="68.92" y="409.06" width="10.78" height="10.87" fill="#d5c0c3"/>
<rect x="79.65" y="409.06" width="10.78" height="10.87" fill="#e67a7a"/>
<rect x="90.38" y="409.06" width="10.78" height="10.87" fill="#e67a7a"/>
<rect x="58.20" y="419.88" width="10.78" height="10.87" fill="#dcaaac"/>
<rect x="68.92" y="419.88" width="10.78" height="10.87" fill="#e29494"/>
<rect x="79.65" y="419.88" width="10.78" height="10.87" fill="#e67a7a"/>
<rect x="90.38" y="419.88" width="10.78" height="10.87" fill="#ff0808"/>
<rect x="58.20" y="430.70" width="10.78" height="10.87" fill="#e67a7a"/>
<rect x="68.92" y="430.70" width="10.78" height="10.87" fill="#e29494"/>
<rect x="79.65" y="430.70" width="10.78" height="10.87" fill="#e29494"/>
<rect x="90.38" y="430.70" width="10.78" height="10.87" fill="#fc2020"/>
<rect x="58.20" y="441.52" width="10.78" height="10.87" fill="#ef4b4b"/>
<rect x="68.92" y="441.52" width="10.78" height="10.87" fill="#d5c0c3"/>
<rect x="79.65" y="441.52" width="10.78" height="10.87" fill="#e29494"/>
<rect x="90.38" y="441.52" width="10.78" height="10.87" fill="#e67a7a"/>
<rect x="58.20" y="452.34" width="10.78" height="10.87" fill="#e67a7a"/>
<rect x="68.92" y="452.34" width="10.78" height="10.87" fill="#ea6262"/>
<rect x="79.65" y="452.34" width="10.78" height="10.87" fill="#e29494"/>
<rect x="90.38" y="452.34" width="10.78" height="10.87" fill="#ef4b4b"/>
<rect x="58.20" y="463.16" width="10.78" height="10.87" fill="#ea6262"/>
<rect x="68.92" y="463.16" width="10.78" height="10.87" fill="#e67a7a"/>
<rect x="79.65" y="463.16" width="10.78" height="10.87" fill="#e67a7a"/>
<rect x="90.38" y="463.16" width="10.78" height="10.87" fill="#f53434"/>
<rect x="58.20" y="473.98" width="10.78" height="10.87" fill="#ff0808"/>
<rect x="68.92" y="473.98" width="10.78" height="10.87" fill="#e67a7a"/>
<rect x="79.65" y="473.98" width="10.78" height="10.87" fill="#e67a7a"/>
<rect x="90.38" y="473.98" width="10.78" height="10.87" fill="#fc2020"/>
<rect x="58.20" y="484.80" width="10.78" height="10.87" fill="#e67a7a"/>
<rect x="68.92" y="484.80" width="10.78" height="10.87" fill="#e29494"/>
<rect x="79.65" y="484.80" width="10.78" height="10.87" fill="#cdd1d9"/>
<rect x="90.38" y="484.80" width="10.78" height="10.87" fill="#fc2020"/>
<rect x="58.20" y="495.62" width="10.78" height="10.87" fill="#e67a7a"/>
<rect x="68.92" y="495.62" width="10.78" height="10.87" fill="#e67a7a"/>
<rect x="79.65" y="495.62" width="10.78" height="10.87" fill="#e67a7a"/>
<rect x="90.38" y="495.62" width="10.78" height="10.87" fill="#ea6262"/>
<rect x="58.20" y="506.44" width="10.78" height="10.87" fill="#ea6262"/>
<rect x="68.92" y="506.44" width="10.78" height="10.87" fill="#ea6262"/>
<rect x="79.65" y="506.44" width="10.78" height="10.87" fill="#e67a7a"/>
<rect x="90.38" y="506.44" width="10.78" height="10.87" fill="#ef4b4b"/>
<rect x="58.20" y="517.26" width="10.78" height="10.87" fill="#ff0808"/>
<rect x="68.92" y="517.26" width="10.78" height="10.87" fill="#e29494"/>
<rect x="79.65" y="517.26" width="10.78" height="10.87" fill="#e67a7a"/>
<rect x="90.38" y="517.26" width="10.78" height="10.87" fill="#ef4b4b"/>
<rect x="58.20" y="528.08" width="10.78" height="10.87" fill="#ef4b4b"/>
<rect x="68.92" y="528.08" width="10.78" height="10.87" fill="#f53434"/>
<rect x="79.65" y="528.08" width="10.78" height="10.87" fill="#e29494"/>
<rect x="90.38" y="528.08" width="10.78" height="10.87" fill="#e29494"/>
<rect x="58.20" y="538.90" width="10.78" height="10.87" fill="#e29494"/>
<rect x="68.92" y="538.90" width="10.78" height="10.87" fill="#e67a7a"/>
<rect x="79.65" y="538.90" width="10.78" height="10.87" fill="#e29494"/>
<rect x="90.38" y="538.90" width="10.78" height="10.87" fill="#f53434"/>
<rect x="58.20" y="549.72" width="10.78" height="10.87" fill="#f53434"/>
<rect x="68.92" y="549.72" width="10.78" height="10.87" fill="#e67a7a"/>
<rect x="79.65" y="549.72" width="10.78" height="10.87" fill="#d5c0c3"/>
<rect x="90.38" y="549.72" width="10.78" height="10.87" fill="#ea6262"/>
<rect x="58.20" y="560.54" width="10.78" height="10.87" fill="#f53434"/>
<rect x="68.92" y="560.54" width="10.78" height="10.87" fill="#e29494"/>
<rect x="79.65" y="560.54" width="10.78" height="10.87" fill="#e67a7a"/>
<rect x="90.38" y="560.54" width="10.78" height="10.87" fill="#ea6262"/>
<rect x="58.20" y="571.36" width="10.78" height="10.87" fill="#f53434"/>
<rect x="68.92" y="571.36" width="10.78" height="10.87" fill="#d5c0c3"/>
<rect x="79.65" y="571.36" width="10.78" height="10.87" fill="#e29494"/>
<rect x="90.38" y="571.36" width="10.78" height="10.87" fill="#ea6262"/>
<rect x="58.20" y="582.18" width="10.78" height="10.87" fill="#e29494"/>
<rect x="68.92" y="582.18" width="10.78" height="10.87" fill="#e67a7a"/>
<rect x="79.65" y="582.18" width="10.78" height="10.87" fill="#e67a7a"/>
<rect x="90.38" y="582.18" width="10.78" height="10.87" fill="#f53434"/>
<rect x="58.20" y="593.00" width="10.78" height="10.87" fill="#f53434"/>
<rect x="68.92" y="593.00" width="10.78" height="10.87" fill="#dcaaac"/>
<rect x="79.65" y="593.00" width="10.78" height="10.87" fill="#e67a7a"/>
<rect x="90.38" y="593.00" width="10.78" height="10.87" fill="#ea6262"/>
<rect x="58.20" y="603.82" width="10.78" height="10.87" fill="#dcaaac"/>
<rect x="68.92" y="603.82" width="10.78" height="10.87" fill="#ea6262"/>
<rect x="79.65" y="603.82" width="10.78" height="10.87" fill="#e67a7a"/>
<rect x="90.38" y="603.82" width="10.78" height="10.87" fill="#fc2020"/>
<rect x="58.20" y="614.64" width="10.78" height="10.87" fill="#ef4b4b"/>
<rect x="68.92" y="614.64" width="10.78" height="10.87" fill="#e29494"/>
<rect x="79.65" y="614.64" width="10.78" height="10.87" fill="#e67a7a"/>
<rect x="90.38" y="614.64" width="10.78" height="10.87" fill="#ea6262"/>
<rect x="58.20" y="625.46" width="10.78" height="10.87" fill="#ef4b4b"/>
<rect x="68.92" y="625.46" width="10.78" height="10.87" fill="#dcaaac"/>
<rect x="79.65" y="625.46" width="10.78" height="10.87" fill="#e29494"/>
<rect x="90.38" y="625.46" width="10.78" height="10.87" fill="#ea6262"/>
<rect x="58.20" y="636.28" width="10.78" height="10.87" fill="#ef4b4b"/>
<rect x="68.92" y="636.28" width="10.78" height="10.87" fill="#dcaaac"/>
<rect x="79.65" y="636.28" width="10.78" height="10.87" fill="#e29494"/>
<rect x="90.38" y="636.28" width="10.78" height="10.87" fill="#ea6262"/>
<rect x="58.20" y="647.10" width="10.78" height="10.87" fill="#ef4b4b"/>
<rect x="68.92" y="647.10" width="10.78" height="10.87" fill="#e29494"/>
<rect x="79.65" y="647.10" width="10.78" height="10.87" fill="#e67a7a"/>
<rect x="90.38" y="647.10" width="10.78" height="10.87" fill="#ef4b4b"/>
<rect x="58.20" y="657.92" width="10.78" height="10.87" fill="#ff0808"/>
<rect x="68.92" y="657.92" width="10.78" height="10.87" fill="#fc2020"/>
<rect x="79.65" y="657.92" width="10.78" height="10.87" fill="#dcaaac"/>
<rect x="90.38" y="657.92" width="10.78" height="10.87" fill="#ef4b4b"/>
<rect x="58.20" y="668.74" width="10.78" height="10.87" fill="#ff0808"/>
<rect x="68.92" y="668.74" width="10.78" height="10.87" fill="#ff0808"/>
<rect x="79.65" y="668.74" width="10.78" height="10.87" fill="#f53434"/>
<rect x="90.38" y="668.74" width="10.78" height="10.87" fill="#ff0808"/>
<rect x="58.20" y="679.56" width="10.78" height="10.87" fill="#ef4b4b"/>
<rect x="68.92" y="679.56" width="10.78" height="10.87" fill="#e29494"/>
<rect x="79.65" y="679.56" width="10.78" height="10.87" fill="#ffffff"/>
<rect x="90.38" y="679.56" width="10.78" height="10.87" fill="#ef4b4b"/>
<rect x="58.20" y="690.38" width="10.78" height="10.87" fill="#fc2020"/>
<rect x="68.92" y="690.38" width="10.78" height="10.87" fill="#ef4b4b"/>
<rect x="79.65" y="690.38" width="10.78" height="10.87" fill="#ea6262"/>
<rect x="90.38" y="690.38" width="10.78" height="10.87" fill="#ea6262"/>
<line x1="68.92" y1="52.0" x2="68.92" y2="701.20" stroke="#fff" stroke-opacity="0.25" stroke-width="0.6"/>
<line x1="79.65" y1="52.0" x2="79.65" y2="701.20" stroke="#fff" stroke-opacity="0.25" stroke-width="0.6"/>
<line x1="90.38" y1="52.0" x2="90.38" y2="701.20" stroke="#fff" stroke-opacity="0.25" stroke-width="0.6"/>
<line x1="58.2" y1="62.82" x2="101.10" y2="62.82" stroke="#fff" stroke-opacity="0.25" stroke-width="0.6"/>
<line x1="58.2" y1="73.64" x2="101.10" y2="73.64" stroke="#fff" stroke-opacity="0.25" stroke-width="0.6"/>
<line x1="58.2" y1="84.46" x2="101.10" y2="84.46" stroke="#fff" stroke-opacity="0.25" stroke-width="0.6"/>
<line x1="58.2" y1="95.28" x2="101.10" y2="95.28" stroke="#fff" stroke-opacity="0.25" stroke-width="0.6"/>
<line x1="58.2" y1="106.10" x2="101.10" y2="106.10" stroke="#fff" stroke-opacity="0.25" stroke-width="0.6"/>
<line x1="58.2" y1="116.92" x2="101.10" y2="116.92" stroke="#fff" stroke-opacity="0.25" stroke-width="0.6"/>
<line x1="58.2" y1="127.74" x2="101.10" y2="127.74" stroke="#fff" stroke-opacity="0.25" stroke-width="0.6"/>
<line x1="58.2" y1="138.56" x2="101.10" y2="138.56" stroke="#fff" stroke-opacity="0.25" stroke-width="0.6"/>
<line x1="58.2" y1="149.38" x2="101.10" y2="149.38" stroke="#fff" stroke-opacity="0.25" stroke-width="0.6"/>
<line x1="58.2" y1="160.20" x2="101.10" y2="160.20" stroke="#fff" stroke-opacity="0.25" stroke-width="0.6"/>
<line x1="58.2" y1="171.02" x2="101.10" y2="171.02" stroke="#fff" stroke-opacity="0.25" stroke-width="0.6"/>
<line x1="58.2" y1="181.84" x2="101.10" y2="181.84" stroke="#fff" stroke-opacity="0.25" stroke-width="0.6"/>
<line x1="58.2" y1="192.66" x2="101.10" y2="192.66" stroke="#fff" stroke-opacity="0.25" stroke-width="0.6"/>
<line x1="58.2" y1="203.48" x2="101.10" y2="203.48" stroke="#fff" stroke-opacity="0.25" stroke-width="0.6"/>
<line x1="58.2" y1="214.30" x2="101.10" y2="214.30" stroke="#fff" stroke-opacity="0.25" stroke-width="0.6"/>
<line x1="58.2" y1="225.12" x2="101.10" y2="225.12" stroke="#fff" stroke-opacity="0.25" stroke-width="0.6"/>
<line x1="58.2" y1="235.94" x2="101.10" y2="235.94" stroke="#fff" stroke-opacity="0.25" stroke-width="0.6"/>
<line x1="58.2" y1="246.76" x2="101.10" y2="246.76" stroke="#fff" stroke-opacity="0.25" stroke-width="0.6"/>
<line x1="58.2" y1="257.58" x2="101.10" y2="257.58" stroke="#fff" stroke-opacity="0.25" stroke-width="0.6"/>
<line x1="58.2" y1="268.40" x2="101.10" y2="268.40" stroke="#fff" stroke-opacity="0.25" stroke-width="0.6"/>
<line x1="58.2" y1="279.22" x2="101.10" y2="279.22" stroke="#fff" stroke-opacity="0.25" stroke-width="0.6"/>
<line x1="58.2" y1="290.04" x2="101.10" y2="290.04" stroke="#fff" stroke-opacity="0.25" stroke-width="0.6"/>
<line x1="58.2" y1="300.86" x2="101.10" y2="300.86" stroke="#fff" stroke-opacity="0.25" stroke-width="0.6"/>
<line x1="58.2" y1="311.68" x2="101.10" y2="311.68" stroke="#fff" stroke-opacity="0.25" stroke-width="0.6"/>
<line x1="58.2" y1="322.50" x2="101.10" y2="322.50" stroke="#fff" stroke-opacity="0.25" stroke-width="0.6"/>
<line x1="58.2" y1="333.32" x2="101.10" y2="333.32" stroke="#fff" stroke-opacity="0.25" stroke-width="0.6"/>
<line x1="58.2" y1="344.14" x2="101.10" y2="344.14" stroke="#fff" stroke-opacity="0.25" stroke-width="0.6"/>
<line x1="58.2" y1="354.96" x2="101.10" y2="354.96" stroke="#fff" stroke-opacity="0.25" stroke-width="0.6"/>
<line x1="58.2" y1="365.78" x2="101.10" y2="365.78" stroke="#fff" stroke-opacity="0.25" stroke-width="0.6"/>
<line x1="58.2" y1="376.60" x2="101.10" y2="376.60" stroke="#fff" stroke-opacity="0.25" stroke-width="0.6"/>
<line x1="58.2" y1="387.42" x2="101.10" y2="387.42" stroke="#fff" stroke-opacity="0.25" stroke-width="0.6"/>
<line x1="58.2" y1="398.24" x2="101.10" y2="398.24" stroke="#fff" stroke-opacity="0.25" stroke-width="0.6"/>
<line x1="58.2" y1="409.06" x2="101.10" y2="409.06" stroke="#fff" stroke-opacity="0.25" stroke-width="0.6"/>
<line x1="58.2" y1="419.88" x2="101.10" y2="419.88" stroke="#fff" stroke-opacity="0.25" stroke-width="0.6"/>
<line x1="58.2" y1="430.70" x2="101.10" y2="430.70" stroke="#fff" stroke-opacity="0.25" stroke-width="0.6"/>
<line x1="58.2" y1="441.52" x2="101.10" y2="441.52" stroke="#fff" stroke-opacity="0.25" stroke-width="0.6"/>
<line x1="58.2" y1="452.34" x2="101.10" y2="452.34" stroke="#fff" stroke-opacity="0.25" stroke-width="0.6"/>
<line x1="58.2" y1="463.16" x2="101.10" y2="463.16" stroke="#fff" stroke-opacity="0.25" stroke-width="0.6"/>
<line x1="58.2" y1="473.98" x2="101.10" y2="473.98" stroke="#fff" stroke-opacity="0.25" stroke-width="0.6"/>
<line x1="58.2" y1="484.80" x2="101.10" y2="484.80" stroke="#fff" stroke-opacity="0.25" stroke-width="0.6"/>
<line x1="58.2" y1="495.62" x2="101.10" y2="495.62" stroke="#fff" stroke-opacity="0.25" stroke-width="0.6"/>
<line x1="58.2" y1="506.44" x2="101.10" y2="506.44" stroke="#fff" stroke-opacity="0.25" stroke-width="0.6"/>
<line x1="58.2" y1="517.26" x2="101.10" y2="517.26" stroke="#fff" stroke-opacity="0.25" stroke-width="0.6"/>
<line x1="58.2" y1="528.08" x2="101.10" y2="528.08" stroke="#fff" stroke-opacity="0.25" stroke-width="0.6"/>
<line x1="58.2" y1="538.90" x2="101.10" y2="538.90" stroke="#fff" stroke-opacity="0.25" stroke-width="0.6"/>
<line x1="58.2" y1="549.72" x2="101.10" y2="549.72" stroke="#fff" stroke-opacity="0.25" stroke-width="0.6"/>
<line x1="58.2" y1="560.54" x2="101.10" y2="560.54" stroke="#fff" stroke-opacity="0.25" stroke-width="0.6"/>
<line x1="58.2" y1="571.36" x2="101.10" y2="571.36" stroke="#fff" stroke-opacity="0.25" stroke-width="0.6"/>
<line x1="58.2" y1="582.18" x2="101.10" y2="582.18" stroke="#fff" stroke-opacity="0.25" stroke-width="0.6"/>
<line x1="58.2" y1="593.00" x2="101.10" y2="593.00" stroke="#fff" stroke-opacity="0.25" stroke-width="0.6"/>
<line x1="58.2" y1="603.82" x2="101.10" y2="603.82" stroke="#fff" stroke-opacity="0.25" stroke-width="0.6"/>
<line x1="58.2" y1="614.64" x2="101.10" y2="614.64" stroke="#fff" stroke-opacity="0.25" stroke-width="0.6"/>
<line x1="58.2" y1="625.46" x2="101.10" y2="625.46" stroke="#fff" stroke-opacity="0.25" stroke-width="0.6"/>
<line x1="58.2" y1="636.28" x2="101.10" y2="636.28" stroke="#fff" stroke-opacity="0.25" stroke-width="0.6"/>
<line x1="58.2" y1="647.10" x2="101.10" y2="647.10" stroke="#fff" stroke-opacity="0.25" stroke-width="0.6"/>
<line x1="58.2" y1="657.92" x2="101.10" y2="657.92" stroke="#fff" stroke-opacity="0.25" stroke-width="0.6"/>
<line x1="58.2" y1="668.74" x2="101.10" y2="668.74" stroke="#fff" stroke-opacity="0.25" stroke-width="0.6"/>
<line x1="58.2" y1="679.56" x2="101.10" y2="679.56" stroke="#fff" stroke-opacity="0.25" stroke-width="0.6"/>
<line x1="58.2" y1="690.38" x2="101.10" y2="690.38" stroke="#fff" stroke-opacity="0.25" stroke-width="0.6"/>
<text x="110.4" y="62.72" font-size="10.85" fill="#262626">OAS3</text>
<text x="110.4" y="73.54" font-size="10.85" fill="#262626">IFI30</text>
<text x="110.4" y="84.36" font-size="10.85" fill="#262626">OAS1</text>
<text x="110.4" y="95.18" font-size="10.85" fill="#262626">LPL</text>
<text x="110.4" y="106.00" font-size="10.85" fill="#262626">SLAMF7</text>
<text x="110.4" y="116.82" font-size="10.85" fill="#262626">MHC2TA</text>
<text x="110.4" y="127.64" font-size="10.85" fill="#262626">BACH2</text>
<text x="110.4" y="138.46" font-size="10.85" fill="#262626">ADM</text>
<text x="110.4" y="149.28" font-size="10.85" fill="#262626">DDIT3</text>
<text x="110.4" y="160.10" font-size="10.85" fill="#262626">AKAP1</text>
<text x="110.4" y="170.92" font-size="10.85" fill="#262626">GFI1</text>
<text x="110.4" y="181.74" font-size="10.85" fill="#262626">MX1</text>
<text x="110.4" y="192.56" font-size="10.85" fill="#262626">PDGFA</text>
<text x="110.4" y="203.38" font-size="10.85" fill="#262626">SOCS5</text>
<text x="110.4" y="214.20" font-size="10.85" fill="#262626">LY9</text>
<text x="110.4" y="225.02" font-size="10.85" fill="#262626">SPAG9</text>
<text x="110.4" y="235.84" font-size="10.85" fill="#262626">NOLA2</text>
<text x="110.4" y="246.66" font-size="10.85" fill="#262626">OCIL</text>
<text x="110.4" y="257.48" font-size="10.85" fill="#262626">RGS10</text>
<text x="110.4" y="268.30" font-size="10.85" fill="#262626">CD72</text>
<text x="110.4" y="279.12" font-size="10.85" fill="#262626">IRF4</text>
<text x="110.4" y="289.94" font-size="10.85" fill="#262626">PEA15</text>
<text x="110.4" y="300.76" font-size="10.85" fill="#262626">TIEG</text>
<text x="110.4" y="311.58" font-size="10.85" fill="#262626">PBEF1</text>
<text x="110.4" y="322.40" font-size="10.85" fill="#262626">DDX21</text>
<text x="110.4" y="333.22" font-size="10.85" fill="#262626">TLK1</text>
<text x="110.4" y="344.04" font-size="10.85" fill="#262626">MYO1E</text>
<text x="110.4" y="354.86" font-size="10.85" fill="#262626">LRMP</text>
<text x="110.4" y="365.68" font-size="10.85" fill="#262626">NME1</text>
<text x="110.4" y="376.50" font-size="10.85" fill="#262626">CD63</text>
<text x="110.4" y="387.32" font-size="10.85" fill="#262626">NAB2</text>
<text x="110.4" y="398.14" font-size="10.85" fill="#262626">GNPDA1</text>
<text x="110.4" y="408.96" font-size="10.85" fill="#262626">KIAA0141</text>
<text x="110.4" y="419.78" font-size="10.85" fill="#262626">AARS</text>
<text x="110.4" y="430.60" font-size="10.85" fill="#262626">ARID5B</text>
<text x="110.4" y="441.42" font-size="10.85" fill="#262626">HLA-DQA1</text>
<text x="110.4" y="452.24" font-size="10.85" fill="#262626">IARS</text>
<text x="110.4" y="463.06" font-size="10.85" fill="#262626">PIM3</text>
<text x="110.4" y="473.88" font-size="10.85" fill="#262626">HLA-DQB1</text>
<text x="110.4" y="484.70" font-size="10.85" fill="#262626">NFKBIE</text>
<text x="110.4" y="495.52" font-size="10.85" fill="#262626">ILT7</text>
<text x="110.4" y="506.34" font-size="10.85" fill="#262626">GPX4</text>
<text x="110.4" y="517.16" font-size="10.85" fill="#262626">DTX1</text>
<text x="110.4" y="527.98" font-size="10.85" fill="#262626">CD83</text>
<text x="110.4" y="538.80" font-size="10.85" fill="#262626">EGR1</text>
<text x="110.4" y="549.62" font-size="10.85" fill="#262626">BCL2</text>
<text x="110.4" y="560.44" font-size="10.85" fill="#262626">NR4A3</text>
<text x="110.4" y="571.26" font-size="10.85" fill="#262626">GARS</text>
<text x="110.4" y="582.08" font-size="10.85" fill="#262626">NFKB1</text>
<text x="110.4" y="592.90" font-size="10.85" fill="#262626">ITPKB</text>
<text x="110.4" y="603.72" font-size="10.85" fill="#262626">PAICS</text>
<text x="110.4" y="614.54" font-size="10.85" fill="#262626">CASP3</text>
<text x="110.4" y="625.36" font-size="10.85" fill="#262626">CTLA4</text>
<text x="110.4" y="636.18" font-size="10.85" fill="#262626">WARS</text>
<text x="110.4" y="647.00" font-size="10.85" fill="#262626">CD58</text>
<text x="110.4" y="657.82" font-size="10.85" fill="#262626">TXNRD1</text>
<text x="110.4" y="668.64" font-size="10.85" fill="#262626">CCL4</text>
<text x="110.4" y="679.46" font-size="10.85" fill="#262626">EGR3</text>
<text x="110.4" y="690.28" font-size="10.85" fill="#262626">TNFAIP3</text>
<text x="110.4" y="701.10" font-size="10.85" fill="#262626">DUSP2</text>
<rect x="21.40" y="711.1" width="8.69" height="8.4" fill="#2828b0"/>
<rect x="30.04" y="711.1" width="8.69" height="8.4" fill="#6870c8"/>
<rect x="38.69" y="711.1" width="8.69" height="8.4" fill="#a0a4d8"/>
<rect x="47.33" y="711.1" width="8.69" height="8.4" fill="#d0d4d0"/>
<rect x="55.97" y="711.1" width="8.69" height="8.4" fill="#e8a0a8"/>
<rect x="64.61" y="711.1" width="8.69" height="8.4" fill="#e86060"/>
<rect x="73.26" y="711.1" width="8.69" height="8.4" fill="#ff2828"/>
<text x="16.2" y="731.6" font-size="10.6">0.25</text>
<text x="50.0" y="731.6" font-size="10.6">1</text>
<text x="82.4" y="731.6" font-size="10.6">4</text>
<text x="187.6" y="18.3" font-size="17" font-weight="bold">B</text>
<text x="213.4" y="56.4" font-size="12.9" fill="#222">unstimulated</text>
<text x="324.8" y="56.4" font-size="12.85" fill="#222">minutes from IgM activation</text>
<line x1="304.8" y1="62.1" x2="512.9" y2="62.1" stroke="#000" stroke-width="2"/>
<text x="244.0" y="79.5" font-size="12.4" fill="#222">0<tspan dx="1.0">'</tspan></text>
<text x="323.6" y="79.5" font-size="12.4" fill="#222">8<tspan dx="1.0">'</tspan></text>
<text x="400.8" y="79.5" font-size="12.4" fill="#222">15<tspan dx="1.0">'</tspan></text>
<text x="481.9" y="79.5" font-size="12.4" fill="#222">45<tspan dx="1.0">'</tspan></text>
<text x="0" y="0" font-size="12.4" fill="#222" text-anchor="middle" transform="translate(200,111.5) rotate(-90)">control</text>
<text x="0" y="0" font-size="12.4" fill="#222" text-anchor="middle" transform="translate(200,181.0) rotate(-90)">M-CLL</text>
<text x="0" y="0" font-size="12.4" fill="#222" text-anchor="middle" transform="translate(200,255.3) rotate(-90)">UM-CLL</text>
<line x1="227.4" y1="84.4" x2="280.8" y2="84.4" stroke="#a0a0a0" stroke-width="0.8"/>
<line x1="280.8" y1="84.4" x2="280.8" y2="138.1" stroke="#777" stroke-width="0.8"/>
<line x1="227.4" y1="84.4" x2="227.4" y2="138.1" stroke="#444" stroke-width="0.8"/>
<line x1="227.4" y1="138.1" x2="280.8" y2="138.1" stroke="#333" stroke-width="0.9"/>
<line x1="225.6" y1="93.5" x2="227.4" y2="93.5" stroke="#333" stroke-width="0.6"/>
<text x="225.8" y="95.3" font-size="5.1" font-weight="bold" text-anchor="end" fill="#1a1a1a">800</text>
<line x1="225.6" y1="104.2" x2="227.4" y2="104.2" stroke="#333" stroke-width="0.6"/>
<text x="225.8" y="106.0" font-size="5.1" font-weight="bold" text-anchor="end" fill="#1a1a1a">600</text>
<line x1="225.6" y1="115.3" x2="227.4" y2="115.3" stroke="#333" stroke-width="0.6"/>
<text x="225.8" y="117.1" font-size="5.1" font-weight="bold" text-anchor="end" fill="#1a1a1a">400</text>
<line x1="225.6" y1="126.5" x2="227.4" y2="126.5" stroke="#333" stroke-width="0.6"/>
<text x="225.8" y="128.3" font-size="5.1" font-weight="bold" text-anchor="end" fill="#1a1a1a">200</text>
<line x1="225.6" y1="137.8" x2="227.4" y2="137.8" stroke="#333" stroke-width="0.6"/>
<text x="225.8" y="139.60000000000002" font-size="5.1" font-weight="bold" text-anchor="end" fill="#1a1a1a">0</text>
<line x1="226.5" y1="84.40" x2="227.4" y2="84.40" stroke="#555" stroke-width="0.4"/>
<line x1="226.5" y1="87.76" x2="227.4" y2="87.76" stroke="#555" stroke-width="0.4"/>
<line x1="226.5" y1="91.11" x2="227.4" y2="91.11" stroke="#555" stroke-width="0.4"/>
<line x1="226.5" y1="94.47" x2="227.4" y2="94.47" stroke="#555" stroke-width="0.4"/>
<line x1="226.5" y1="97.83" x2="227.4" y2="97.83" stroke="#555" stroke-width="0.4"/>
<line x1="226.5" y1="101.18" x2="227.4" y2="101.18" stroke="#555" stroke-width="0.4"/>
<line x1="226.5" y1="104.54" x2="227.4" y2="104.54" stroke="#555" stroke-width="0.4"/>
<line x1="226.5" y1="107.89" x2="227.4" y2="107.89" stroke="#555" stroke-width="0.4"/>
<line x1="226.5" y1="111.25" x2="227.4" y2="111.25" stroke="#555" stroke-width="0.4"/>
<line x1="226.5" y1="114.61" x2="227.4" y2="114.61" stroke="#555" stroke-width="0.4"/>
<line x1="226.5" y1="117.96" x2="227.4" y2="117.96" stroke="#555" stroke-width="0.4"/>
<line x1="226.5" y1="121.32" x2="227.4" y2="121.32" stroke="#555" stroke-width="0.4"/>
<line x1="226.5" y1="124.67" x2="227.4" y2="124.67" stroke="#555" stroke-width="0.4"/>
<line x1="226.5" y1="128.03" x2="227.4" y2="128.03" stroke="#555" stroke-width="0.4"/>
<line x1="226.5" y1="131.39" x2="227.4" y2="131.39" stroke="#555" stroke-width="0.4"/>
<line x1="226.5" y1="134.74" x2="227.4" y2="134.74" stroke="#555" stroke-width="0.4"/>
<line x1="226.5" y1="138.10" x2="227.4" y2="138.10" stroke="#555" stroke-width="0.4"/>
<text x="232.0" y="145.70" font-size="5" fill="#111">0</text>
<text x="234.80" y="145.70" font-size="5" fill="#111">10<tspan dy="-2.2" font-size="3.6">2</tspan></text>
<line x1="238.60" y1="138.1" x2="238.60" y2="139.7" stroke="#333" stroke-width="0.5"/>
<text x="247.10" y="145.70" font-size="5" fill="#111">10<tspan dy="-2.2" font-size="3.6">3</tspan></text>
<line x1="250.90" y1="138.1" x2="250.90" y2="139.7" stroke="#333" stroke-width="0.5"/>
<text x="259.40" y="145.70" font-size="5" fill="#111">10<tspan dy="-2.2" font-size="3.6">4</tspan></text>
<line x1="263.20" y1="138.1" x2="263.20" y2="139.7" stroke="#333" stroke-width="0.5"/>
<text x="271.70" y="145.70" font-size="5" fill="#111">10<tspan dy="-2.2" font-size="3.6">5</tspan></text>
<line x1="275.50" y1="138.1" x2="275.50" y2="139.7" stroke="#333" stroke-width="0.5"/>
<path d="M227.40,138.10 L227.60,138.10 L227.80,138.10 L228.00,138.10 L228.20,138.10 L228.40,138.10 L228.60,138.10 L228.80,138.10 L229.00,138.10 L229.20,138.10 L229.40,138.10 L229.60,138.10 L229.80,138.10 L230.00,138.10 L230.20,138.10 L230.40,138.10 L230.60,138.10 L230.80,138.10 L231.00,138.10 L231.20,138.10 L231.40,138.10 L231.60,138.10 L231.80,138.10 L232.00,138.10 L232.20,138.10 L232.40,138.10 L232.60,138.10 L232.80,138.10 L233.00,138.10 L233.20,138.10 L233.40,138.10 L233.60,138.10 L233.80,138.10 L234.00,138.10 L234.20,138.10 L234.40,138.10 L234.60,138.10 L234.80,138.10 L235.00,138.10 L235.20,138.10 L235.40,138.10 L235.60,138.10 L235.80,138.10 L236.00,138.10 L236.20,138.10 L236.40,138.10 L236.60,138.10 L236.80,138.10 L237.00,138.10 L237.20,138.10 L237.40,138.10 L237.60,138.10 L237.80,138.10 L238.00,138.10 L238.20,138.10 L238.40,138.10 L238.60,138.10 L238.80,138.10 L239.00,138.10 L239.20,138.10 L239.40,138.10 L239.60,138.10 L239.80,138.10 L240.00,138.10 L240.20,138.10 L240.40,138.10 L240.60,138.10 L240.80,138.10 L241.00,138.10 L241.20,138.10 L241.40,138.10 L241.60,138.10 L241.80,138.10 L242.00,138.10 L242.20,138.10 L242.40,138.10 L242.60,138.09 L242.80,138.09 L243.00,138.09 L243.20,138.08 L243.40,138.07 L243.60,138.05 L243.80,138.03 L244.00,138.01 L244.20,137.97 L244.40,137.91 L244.60,137.83 L244.80,137.73 L245.00,137.59 L245.20,137.41 L245.40,137.17 L245.60,136.86 L245.80,136.46 L246.00,135.95 L246.20,135.32 L246.40,134.53 L246.60,133.56 L246.80,132.39 L247.00,130.99 L247.20,129.34 L247.40,127.42 L247.60,125.22 L247.80,122.73 L248.00,119.96 L248.20,116.93 L248.40,113.66 L248.60,110.22 L248.80,106.68 L249.00,103.10 L249.20,99.60 L249.40,96.30 L249.60,93.32 L249.80,90.81 L250.00,88.90 L250.20,87.78 L250.40,90.12 L250.60,94.44 L250.80,98.24 L251.00,101.64 L251.20,104.70 L251.40,107.48 L251.60,110.01 L251.80,112.31 L252.00,114.40 L252.20,116.32 L252.40,118.07 L252.60,119.68 L252.80,121.15 L253.00,122.49 L253.20,123.73 L253.40,124.86 L253.60,125.90 L253.80,126.86 L254.00,127.74 L254.20,128.55 L254.40,129.29 L254.60,129.98 L254.80,130.60 L255.00,131.18 L255.20,131.72 L255.40,132.21 L255.60,132.66 L255.80,133.08 L256.00,133.46 L256.20,133.82 L256.40,134.14 L256.60,134.45 L256.80,134.72 L257.00,134.98 L257.20,135.22 L257.40,135.44 L257.60,135.64 L257.80,135.82 L258.00,136.00 L258.20,136.15 L258.40,136.30 L258.60,136.44 L258.80,136.56 L259.00,136.68 L259.20,136.78 L259.40,136.88 L259.60,136.97 L259.80,137.06 L260.00,137.13 L260.20,137.21 L260.40,137.27 L260.60,137.33 L260.80,137.39 L261.00,137.44 L261.20,137.49 L261.40,137.54 L261.60,137.58 L261.80,137.62 L262.00,137.65 L262.20,137.69 L262.40,137.72 L262.60,137.75 L262.80,137.77 L263.00,137.80 L263.20,137.82 L263.40,137.84 L263.60,137.86 L263.80,137.88 L264.00,137.89 L264.20,137.91 L264.40,137.92 L264.60,137.93 L264.80,137.95 L265.00,137.96 L265.20,137.97 L265.40,137.98 L265.60,137.99 L265.80,138.00 L266.00,138.00 L266.20,138.01 L266.40,138.02 L266.60,138.02 L266.80,138.03 L267.00,138.03 L267.20,138.04 L267.40,138.04 L267.60,138.05 L267.80,138.05 L268.00,138.05 L268.20,138.06 L268.40,138.06 L268.60,138.06 L268.80,138.07 L269.00,138.07 L269.20,138.07 L269.40,138.07 L269.60,138.07 L269.80,138.08 L270.00,138.08 L270.20,138.08 L270.40,138.08 L270.60,138.08 L270.80,138.08 L271.00,138.09 L271.20,138.09 L271.40,138.09 L271.60,138.09 L271.80,138.09 L272.00,138.09 L272.20,138.09 L272.40,138.09 L272.60,138.09 L272.80,138.09 L273.00,138.09 L273.20,138.09 L273.40,138.09 L273.60,138.09 L273.80,138.09 L274.00,138.10 L274.20,138.10 L274.40,138.10 L274.60,138.10 L274.80,138.10 L275.00,138.10 L275.20,138.10 L275.40,138.10 L275.60,138.10 L275.80,138.10 L276.00,138.10 L276.20,138.10 L276.40,138.10 L276.60,138.10 L276.80,138.10 L277.00,138.10 L277.20,138.10 L277.40,138.10 L277.60,138.10 L277.80,138.10 L278.00,138.10 L278.20,138.10 L278.40,138.10 L278.60,138.10 L278.80,138.10 L279.00,138.10 L279.20,138.10 L279.40,138.10 L279.60,138.10 L279.80,138.10 L280.00,138.10 L280.20,138.10 L280.40,138.10 L280.60,138.10 L280.80,138.10" fill="none" stroke="#111" stroke-width="1.1" stroke-linejoin="round"/>
<line x1="256.0" y1="112.0" x2="280.8" y2="112.0" stroke="#555" stroke-width="0.9"/>
<line x1="256.0" y1="110.8" x2="256.0" y2="113.2" stroke="#555" stroke-width="0.6"/>
<text x="259.00" y="109.90" font-size="8.9" fill="#222">3.43</text>
<line x1="307.4" y1="84.5" x2="360.5" y2="84.5" stroke="#a0a0a0" stroke-width="0.8"/>
<line x1="360.5" y1="84.5" x2="360.5" y2="137.8" stroke="#777" stroke-width="0.8"/>
<line x1="307.4" y1="84.5" x2="307.4" y2="137.8" stroke="#444" stroke-width="0.8"/>
<line x1="307.4" y1="137.8" x2="360.5" y2="137.8" stroke="#333" stroke-width="0.9"/>
<line x1="305.59999999999997" y1="92.0" x2="307.4" y2="92.0" stroke="#333" stroke-width="0.6"/>
<text x="305.79999999999995" y="93.8" font-size="5.1" font-weight="bold" text-anchor="end" fill="#1a1a1a">1200</text>
<line x1="305.59999999999997" y1="103.5" x2="307.4" y2="103.5" stroke="#333" stroke-width="0.6"/>
<text x="305.79999999999995" y="105.3" font-size="5.1" font-weight="bold" text-anchor="end" fill="#1a1a1a">900</text>
<line x1="305.59999999999997" y1="115.2" x2="307.4" y2="115.2" stroke="#333" stroke-width="0.6"/>
<text x="305.79999999999995" y="117.0" font-size="5.1" font-weight="bold" text-anchor="end" fill="#1a1a1a">600</text>
<line x1="305.59999999999997" y1="126.7" x2="307.4" y2="126.7" stroke="#333" stroke-width="0.6"/>
<text x="305.79999999999995" y="128.5" font-size="5.1" font-weight="bold" text-anchor="end" fill="#1a1a1a">300</text>
<line x1="305.59999999999997" y1="137.8" x2="307.4" y2="137.8" stroke="#333" stroke-width="0.6"/>
<text x="305.79999999999995" y="139.60000000000002" font-size="5.1" font-weight="bold" text-anchor="end" fill="#1a1a1a">0</text>
<line x1="306.5" y1="84.50" x2="307.4" y2="84.50" stroke="#555" stroke-width="0.4"/>
<line x1="306.5" y1="87.83" x2="307.4" y2="87.83" stroke="#555" stroke-width="0.4"/>
<line x1="306.5" y1="91.16" x2="307.4" y2="91.16" stroke="#555" stroke-width="0.4"/>
<line x1="306.5" y1="94.49" x2="307.4" y2="94.49" stroke="#555" stroke-width="0.4"/>
<line x1="306.5" y1="97.83" x2="307.4" y2="97.83" stroke="#555" stroke-width="0.4"/>
<line x1="306.5" y1="101.16" x2="307.4" y2="101.16" stroke="#555" stroke-width="0.4"/>
<line x1="306.5" y1="104.49" x2="307.4" y2="104.49" stroke="#555" stroke-width="0.4"/>
<line x1="306.5" y1="107.82" x2="307.4" y2="107.82" stroke="#555" stroke-width="0.4"/>
<line x1="306.5" y1="111.15" x2="307.4" y2="111.15" stroke="#555" stroke-width="0.4"/>
<line x1="306.5" y1="114.48" x2="307.4" y2="114.48" stroke="#555" stroke-width="0.4"/>
<line x1="306.5" y1="117.81" x2="307.4" y2="117.81" stroke="#555" stroke-width="0.4"/>
<line x1="306.5" y1="121.14" x2="307.4" y2="121.14" stroke="#555" stroke-width="0.4"/>
<line x1="306.5" y1="124.48" x2="307.4" y2="124.48" stroke="#555" stroke-width="0.4"/>
<line x1="306.5" y1="127.81" x2="307.4" y2="127.81" stroke="#555" stroke-width="0.4"/>
<line x1="306.5" y1="131.14" x2="307.4" y2="131.14" stroke="#555" stroke-width="0.4"/>
<line x1="306.5" y1="134.47" x2="307.4" y2="134.47" stroke="#555" stroke-width="0.4"/>
<line x1="306.5" y1="137.80" x2="307.4" y2="137.80" stroke="#555" stroke-width="0.4"/>
<text x="312.0" y="145.40" font-size="5" fill="#111">0</text>
<text x="314.80" y="145.40" font-size="5" fill="#111">10<tspan dy="-2.2" font-size="3.6">2</tspan></text>
<line x1="318.60" y1="137.8" x2="318.60" y2="139.4" stroke="#333" stroke-width="0.5"/>
<text x="327.03" y="145.40" font-size="5" fill="#111">10<tspan dy="-2.2" font-size="3.6">3</tspan></text>
<line x1="330.83" y1="137.8" x2="330.83" y2="139.4" stroke="#333" stroke-width="0.5"/>
<text x="339.26" y="145.40" font-size="5" fill="#111">10<tspan dy="-2.2" font-size="3.6">4</tspan></text>
<line x1="343.06" y1="137.8" x2="343.06" y2="139.4" stroke="#333" stroke-width="0.5"/>
<text x="351.49" y="145.40" font-size="5" fill="#111">10<tspan dy="-2.2" font-size="3.6">5</tspan></text>
<line x1="355.29" y1="137.8" x2="355.29" y2="139.4" stroke="#333" stroke-width="0.5"/>
<path d="M307.40,137.80 L307.60,137.80 L307.80,137.80 L308.00,137.80 L308.20,137.80 L308.40,137.80 L308.60,137.80 L308.80,137.80 L309.00,137.80 L309.20,137.80 L309.40,137.80 L309.60,137.80 L309.80,137.80 L310.00,137.80 L310.20,137.80 L310.40,137.80 L310.60,137.80 L310.80,137.80 L311.00,137.80 L311.20,137.80 L311.40,137.80 L311.60,137.80 L311.80,137.80 L312.00,137.80 L312.20,137.80 L312.40,137.80 L312.60,137.80 L312.80,137.80 L313.00,137.80 L313.20,137.80 L313.40,137.80 L313.60,137.80 L313.80,137.80 L314.00,137.80 L314.20,137.80 L314.40,137.80 L314.60,137.80 L314.80,137.80 L315.00,137.80 L315.20,137.80 L315.40,137.80 L315.60,137.80 L315.80,137.80 L316.00,137.80 L316.20,137.80 L316.40,137.80 L316.60,137.80 L316.80,137.80 L317.00,137.80 L317.20,137.80 L317.40,137.80 L317.60,137.80 L317.80,137.80 L318.00,137.80 L318.20,137.80 L318.40,137.80 L318.60,137.80 L318.80,137.80 L319.00,137.80 L319.20,137.80 L319.40,137.80 L319.60,137.80 L319.80,137.80 L320.00,137.80 L320.20,137.80 L320.40,137.80 L320.60,137.80 L320.80,137.80 L321.00,137.80 L321.20,137.80 L321.40,137.80 L321.60,137.80 L321.80,137.80 L322.00,137.80 L322.20,137.80 L322.40,137.80 L322.60,137.80 L322.80,137.80 L323.00,137.80 L323.20,137.80 L323.40,137.80 L323.60,137.80 L323.80,137.80 L324.00,137.79 L324.20,137.79 L324.40,137.78 L324.60,137.77 L324.80,137.75 L325.00,137.73 L325.20,137.69 L325.40,137.64 L325.60,137.56 L325.80,137.45 L326.00,137.30 L326.20,137.10 L326.40,136.81 L326.60,136.44 L326.80,135.94 L327.00,135.29 L327.20,134.46 L327.40,133.42 L327.60,132.12 L327.80,130.55 L328.00,128.65 L328.20,126.42 L328.40,123.85 L328.60,120.92 L328.80,117.67 L329.00,114.13 L329.20,110.38 L329.40,106.50 L329.60,102.61 L329.80,98.84 L330.00,95.35 L330.20,92.31 L330.40,89.88 L330.60,88.24 L330.80,87.60 L331.00,89.37 L331.20,92.78 L331.40,97.03 L331.60,101.71 L331.80,106.47 L332.00,106.17 L332.20,106.24 L332.40,106.41 L332.60,106.69 L332.80,107.06 L333.00,107.52 L333.20,108.07 L333.40,108.68 L333.60,109.37 L333.80,110.12 L334.00,110.92 L334.20,111.78 L334.40,112.68 L334.60,113.61 L334.80,114.57 L335.00,115.55 L335.20,116.55 L335.40,117.55 L335.60,118.56 L335.80,119.57 L336.00,120.57 L336.20,121.56 L336.40,122.53 L336.60,123.48 L336.80,124.40 L337.00,125.30 L337.20,126.17 L337.40,127.00 L337.60,127.80 L337.80,128.56 L338.00,129.29 L338.20,129.98 L338.40,130.63 L338.60,131.24 L338.80,131.82 L339.00,132.35 L339.20,132.86 L339.40,133.32 L339.60,133.76 L339.80,134.15 L340.00,134.52 L340.20,134.86 L340.40,135.17 L340.60,135.45 L340.80,135.71 L341.00,135.94 L341.20,136.16 L341.40,136.35 L341.60,136.52 L341.80,136.67 L342.00,136.81 L342.20,136.93 L342.40,137.04 L342.60,137.14 L342.80,137.23 L343.00,137.30 L343.20,137.37 L343.40,137.43 L343.60,137.48 L343.80,137.52 L344.00,137.56 L344.20,137.60 L344.40,137.63 L344.60,137.65 L344.80,137.68 L345.00,137.69 L345.20,137.71 L345.40,137.72 L345.60,137.74 L345.80,137.75 L346.00,137.76 L346.20,137.76 L346.40,137.77 L346.60,137.77 L346.80,137.78 L347.00,137.78 L347.20,137.79 L347.40,137.79 L347.60,137.79 L347.80,137.79 L348.00,137.79 L348.20,137.79 L348.40,137.80 L348.60,137.80 L348.80,137.80 L349.00,137.80 L349.20,137.80 L349.40,137.80 L349.60,137.80 L349.80,137.80 L350.00,137.80 L350.20,137.80 L350.40,137.80 L350.60,137.80 L350.80,137.80 L351.00,137.80 L351.20,137.80 L351.40,137.80 L351.60,137.80 L351.80,137.80 L352.00,137.80 L352.20,137.80 L352.40,137.80 L352.60,137.80 L352.80,137.80 L353.00,137.80 L353.20,137.80 L353.40,137.80 L353.60,137.80 L353.80,137.80 L354.00,137.80 L354.20,137.80 L354.40,137.80 L354.60,137.80 L354.80,137.80 L355.00,137.80 L355.20,137.80 L355.40,137.80 L355.60,137.80 L355.80,137.80 L356.00,137.80 L356.20,137.80 L356.40,137.80 L356.60,137.80 L356.80,137.80 L357.00,137.80 L357.20,137.80 L357.40,137.80 L357.60,137.80 L357.80,137.80 L358.00,137.80 L358.20,137.80 L358.40,137.80 L358.60,137.80 L358.80,137.80 L359.00,137.80 L359.20,137.80 L359.40,137.80 L359.60,137.80 L359.80,137.80 L360.00,137.80 L360.20,137.80 L360.40,137.80" fill="none" stroke="#111" stroke-width="1.1" stroke-linejoin="round"/>
<line x1="334.6" y1="111.6" x2="360.5" y2="111.6" stroke="#555" stroke-width="0.9"/>
<line x1="334.6" y1="110.39999999999999" x2="334.6" y2="112.8" stroke="#555" stroke-width="0.6"/>
<text x="345.40" y="109.50" font-size="8.9" fill="#222">26</text>
<line x1="384.4" y1="84.5" x2="436.6" y2="84.5" stroke="#a0a0a0" stroke-width="0.8"/>
<line x1="436.6" y1="84.5" x2="436.6" y2="138.0" stroke="#777" stroke-width="0.8"/>
<line x1="384.4" y1="84.5" x2="384.4" y2="138.0" stroke="#444" stroke-width="0.8"/>
<line x1="384.4" y1="138.0" x2="436.6" y2="138.0" stroke="#333" stroke-width="0.9"/>
<line x1="382.59999999999997" y1="92.0" x2="384.4" y2="92.0" stroke="#333" stroke-width="0.6"/>
<text x="382.79999999999995" y="93.8" font-size="5.1" font-weight="bold" text-anchor="end" fill="#1a1a1a">1200</text>
<line x1="382.59999999999997" y1="103.5" x2="384.4" y2="103.5" stroke="#333" stroke-width="0.6"/>
<text x="382.79999999999995" y="105.3" font-size="5.1" font-weight="bold" text-anchor="end" fill="#1a1a1a">900</text>
<line x1="382.59999999999997" y1="115.2" x2="384.4" y2="115.2" stroke="#333" stroke-width="0.6"/>
<text x="382.79999999999995" y="117.0" font-size="5.1" font-weight="bold" text-anchor="end" fill="#1a1a1a">600</text>
<line x1="382.59999999999997" y1="126.7" x2="384.4" y2="126.7" stroke="#333" stroke-width="0.6"/>
<text x="382.79999999999995" y="128.5" font-size="5.1" font-weight="bold" text-anchor="end" fill="#1a1a1a">300</text>
<line x1="382.59999999999997" y1="138.0" x2="384.4" y2="138.0" stroke="#333" stroke-width="0.6"/>
<text x="382.79999999999995" y="139.8" font-size="5.1" font-weight="bold" text-anchor="end" fill="#1a1a1a">0</text>
<line x1="383.5" y1="84.50" x2="384.4" y2="84.50" stroke="#555" stroke-width="0.4"/>
<line x1="383.5" y1="87.84" x2="384.4" y2="87.84" stroke="#555" stroke-width="0.4"/>
<line x1="383.5" y1="91.19" x2="384.4" y2="91.19" stroke="#555" stroke-width="0.4"/>
<line x1="383.5" y1="94.53" x2="384.4" y2="94.53" stroke="#555" stroke-width="0.4"/>
<line x1="383.5" y1="97.88" x2="384.4" y2="97.88" stroke="#555" stroke-width="0.4"/>
<line x1="383.5" y1="101.22" x2="384.4" y2="101.22" stroke="#555" stroke-width="0.4"/>
<line x1="383.5" y1="104.56" x2="384.4" y2="104.56" stroke="#555" stroke-width="0.4"/>
<line x1="383.5" y1="107.91" x2="384.4" y2="107.91" stroke="#555" stroke-width="0.4"/>
<line x1="383.5" y1="111.25" x2="384.4" y2="111.25" stroke="#555" stroke-width="0.4"/>
<line x1="383.5" y1="114.59" x2="384.4" y2="114.59" stroke="#555" stroke-width="0.4"/>
<line x1="383.5" y1="117.94" x2="384.4" y2="117.94" stroke="#555" stroke-width="0.4"/>
<line x1="383.5" y1="121.28" x2="384.4" y2="121.28" stroke="#555" stroke-width="0.4"/>
<line x1="383.5" y1="124.62" x2="384.4" y2="124.62" stroke="#555" stroke-width="0.4"/>
<line x1="383.5" y1="127.97" x2="384.4" y2="127.97" stroke="#555" stroke-width="0.4"/>
<line x1="383.5" y1="131.31" x2="384.4" y2="131.31" stroke="#555" stroke-width="0.4"/>
<line x1="383.5" y1="134.66" x2="384.4" y2="134.66" stroke="#555" stroke-width="0.4"/>
<line x1="383.5" y1="138.00" x2="384.4" y2="138.00" stroke="#555" stroke-width="0.4"/>
<text x="389.0" y="145.60" font-size="5" fill="#111">0</text>
<text x="391.80" y="145.60" font-size="5" fill="#111">10<tspan dy="-2.2" font-size="3.6">2</tspan></text>
<line x1="395.60" y1="138.0" x2="395.60" y2="139.6" stroke="#333" stroke-width="0.5"/>
<text x="403.82" y="145.60" font-size="5" fill="#111">10<tspan dy="-2.2" font-size="3.6">3</tspan></text>
<line x1="407.62" y1="138.0" x2="407.62" y2="139.6" stroke="#333" stroke-width="0.5"/>
<text x="415.85" y="145.60" font-size="5" fill="#111">10<tspan dy="-2.2" font-size="3.6">4</tspan></text>
<line x1="419.65" y1="138.0" x2="419.65" y2="139.6" stroke="#333" stroke-width="0.5"/>
<text x="427.87" y="145.60" font-size="5" fill="#111">10<tspan dy="-2.2" font-size="3.6">5</tspan></text>
<line x1="431.67" y1="138.0" x2="431.67" y2="139.6" stroke="#333" stroke-width="0.5"/>
<path d="M384.40,138.00 L384.60,138.00 L384.80,138.00 L385.00,138.00 L385.20,138.00 L385.40,138.00 L385.60,138.00 L385.80,138.00 L386.00,138.00 L386.20,138.00 L386.40,138.00 L386.60,138.00 L386.80,138.00 L387.00,138.00 L387.20,138.00 L387.40,138.00 L387.60,138.00 L387.80,138.00 L388.00,138.00 L388.20,138.00 L388.40,138.00 L388.60,138.00 L388.80,138.00 L389.00,138.00 L389.20,138.00 L389.40,138.00 L389.60,138.00 L389.80,138.00 L390.00,138.00 L390.20,138.00 L390.40,138.00 L390.60,138.00 L390.80,138.00 L391.00,138.00 L391.20,138.00 L391.40,138.00 L391.60,138.00 L391.80,138.00 L392.00,138.00 L392.20,138.00 L392.40,138.00 L392.60,138.00 L392.80,138.00 L393.00,138.00 L393.20,138.00 L393.40,138.00 L393.60,138.00 L393.80,138.00 L394.00,138.00 L394.20,138.00 L394.40,138.00 L394.60,138.00 L394.80,138.00 L395.00,138.00 L395.20,138.00 L395.40,138.00 L395.60,138.00 L395.80,138.00 L396.00,138.00 L396.20,138.00 L396.40,138.00 L396.60,138.00 L396.80,138.00 L397.00,138.00 L397.20,138.00 L397.40,138.00 L397.60,138.00 L397.80,137.99 L398.00,137.99 L398.20,137.99 L398.40,137.99 L398.60,137.98 L398.80,137.98 L399.00,137.97 L399.20,137.96 L399.40,137.95 L399.60,137.94 L399.80,137.92 L400.00,137.90 L400.20,137.87 L400.40,137.84 L400.60,137.79 L400.80,137.74 L401.00,137.67 L401.20,137.58 L401.40,137.48 L401.60,137.35 L401.80,137.19 L402.00,137.00 L402.20,136.77 L402.40,136.49 L402.60,136.15 L402.80,135.75 L403.00,135.27 L403.20,134.70 L403.40,134.04 L403.60,133.26 L403.80,132.36 L404.00,131.31 L404.20,130.11 L404.40,128.74 L404.60,127.19 L404.80,125.45 L405.00,123.51 L405.20,121.36 L405.40,119.00 L405.60,116.44 L405.80,113.68 L406.00,110.76 L406.20,107.70 L406.40,104.54 L406.60,101.35 L406.80,98.20 L407.00,95.17 L407.20,92.41 L407.40,90.06 L407.60,88.39 L407.80,88.58 L408.00,90.39 L408.20,92.54 L408.40,94.86 L408.60,97.25 L408.80,99.66 L409.00,102.05 L409.20,104.40 L409.40,106.68 L409.60,108.88 L409.80,110.98 L410.00,112.99 L410.20,114.90 L410.40,116.70 L410.60,118.40 L410.80,119.99 L411.00,121.49 L411.20,122.88 L411.40,124.17 L411.60,125.38 L411.80,126.49 L412.00,127.52 L412.20,128.47 L412.40,129.35 L412.60,130.15 L412.80,130.89 L413.00,131.57 L413.20,132.19 L413.40,132.75 L413.60,133.27 L413.80,133.74 L414.00,134.16 L414.20,134.55 L414.40,134.90 L414.60,135.22 L414.80,135.51 L415.00,135.77 L415.20,136.00 L415.40,136.22 L415.60,136.41 L415.80,136.58 L416.00,136.73 L416.20,136.87 L416.40,136.99 L416.60,137.11 L416.80,137.21 L417.00,137.29 L417.20,137.37 L417.40,137.44 L417.60,137.51 L417.80,137.56 L418.00,137.61 L418.20,137.66 L418.40,137.70 L418.60,137.73 L418.80,137.77 L419.00,137.79 L419.20,137.82 L419.40,137.84 L419.60,137.86 L419.80,137.88 L420.00,137.89 L420.20,137.90 L420.40,137.92 L420.60,137.93 L420.80,137.94 L421.00,137.94 L421.20,137.95 L421.40,137.96 L421.60,137.96 L421.80,137.97 L422.00,137.97 L422.20,137.97 L422.40,137.98 L422.60,137.98 L422.80,137.98 L423.00,137.99 L423.20,137.99 L423.40,137.99 L423.60,137.99 L423.80,137.99 L424.00,137.99 L424.20,137.99 L424.40,137.99 L424.60,138.00 L424.80,138.00 L425.00,138.00 L425.20,138.00 L425.40,138.00 L425.60,138.00 L425.80,138.00 L426.00,138.00 L426.20,138.00 L426.40,138.00 L426.60,138.00 L426.80,138.00 L427.00,138.00 L427.20,138.00 L427.40,138.00 L427.60,138.00 L427.80,138.00 L428.00,138.00 L428.20,138.00 L428.40,138.00 L428.60,138.00 L428.80,138.00 L429.00,138.00 L429.20,138.00 L429.40,138.00 L429.60,138.00 L429.80,138.00 L430.00,138.00 L430.20,138.00 L430.40,138.00 L430.60,138.00 L430.80,138.00 L431.00,138.00 L431.20,138.00 L431.40,138.00 L431.60,138.00 L431.80,138.00 L432.00,138.00 L432.20,138.00 L432.40,138.00 L432.60,138.00 L432.80,138.00 L433.00,138.00 L433.20,138.00 L433.40,138.00 L433.60,138.00 L433.80,138.00 L434.00,138.00 L434.20,138.00 L434.40,138.00 L434.60,138.00 L434.80,138.00 L435.00,138.00 L435.20,138.00 L435.40,138.00 L435.60,138.00 L435.80,138.00 L436.00,138.00 L436.20,138.00 L436.40,138.00 L436.60,138.00" fill="none" stroke="#111" stroke-width="1.1" stroke-linejoin="round"/>
<line x1="410.8" y1="110.8" x2="436.6" y2="110.8" stroke="#555" stroke-width="0.9"/>
<line x1="410.8" y1="109.6" x2="410.8" y2="112.0" stroke="#555" stroke-width="0.6"/>
<text x="417.00" y="108.70" font-size="8.9" fill="#222">17.2</text>
<line x1="464.2" y1="85.9" x2="515.7" y2="85.9" stroke="#a0a0a0" stroke-width="0.8"/>
<line x1="515.7" y1="85.9" x2="515.7" y2="138.0" stroke="#777" stroke-width="0.8"/>
<line x1="464.2" y1="85.9" x2="464.2" y2="138.0" stroke="#444" stroke-width="0.8"/>
<line x1="464.2" y1="138.0" x2="515.7" y2="138.0" stroke="#333" stroke-width="0.9"/>
<line x1="462.4" y1="88.0" x2="464.2" y2="88.0" stroke="#333" stroke-width="0.6"/>
<text x="462.59999999999997" y="89.8" font-size="5.1" font-weight="bold" text-anchor="end" fill="#1a1a1a">1200</text>
<line x1="462.4" y1="100.5" x2="464.2" y2="100.5" stroke="#333" stroke-width="0.6"/>
<text x="462.59999999999997" y="102.3" font-size="5.1" font-weight="bold" text-anchor="end" fill="#1a1a1a">900</text>
<line x1="462.4" y1="113.0" x2="464.2" y2="113.0" stroke="#333" stroke-width="0.6"/>
<text x="462.59999999999997" y="114.8" font-size="5.1" font-weight="bold" text-anchor="end" fill="#1a1a1a">600</text>
<line x1="462.4" y1="125.8" x2="464.2" y2="125.8" stroke="#333" stroke-width="0.6"/>
<text x="462.59999999999997" y="127.6" font-size="5.1" font-weight="bold" text-anchor="end" fill="#1a1a1a">300</text>
<line x1="462.4" y1="138.0" x2="464.2" y2="138.0" stroke="#333" stroke-width="0.6"/>
<text x="462.59999999999997" y="139.8" font-size="5.1" font-weight="bold" text-anchor="end" fill="#1a1a1a">0</text>
<line x1="463.3" y1="85.90" x2="464.2" y2="85.90" stroke="#555" stroke-width="0.4"/>
<line x1="463.3" y1="89.16" x2="464.2" y2="89.16" stroke="#555" stroke-width="0.4"/>
<line x1="463.3" y1="92.41" x2="464.2" y2="92.41" stroke="#555" stroke-width="0.4"/>
<line x1="463.3" y1="95.67" x2="464.2" y2="95.67" stroke="#555" stroke-width="0.4"/>
<line x1="463.3" y1="98.93" x2="464.2" y2="98.93" stroke="#555" stroke-width="0.4"/>
<line x1="463.3" y1="102.18" x2="464.2" y2="102.18" stroke="#555" stroke-width="0.4"/>
<line x1="463.3" y1="105.44" x2="464.2" y2="105.44" stroke="#555" stroke-width="0.4"/>
<line x1="463.3" y1="108.69" x2="464.2" y2="108.69" stroke="#555" stroke-width="0.4"/>
<line x1="463.3" y1="111.95" x2="464.2" y2="111.95" stroke="#555" stroke-width="0.4"/>
<line x1="463.3" y1="115.21" x2="464.2" y2="115.21" stroke="#555" stroke-width="0.4"/>
<line x1="463.3" y1="118.46" x2="464.2" y2="118.46" stroke="#555" stroke-width="0.4"/>
<line x1="463.3" y1="121.72" x2="464.2" y2="121.72" stroke="#555" stroke-width="0.4"/>
<line x1="463.3" y1="124.97" x2="464.2" y2="124.97" stroke="#555" stroke-width="0.4"/>
<line x1="463.3" y1="128.23" x2="464.2" y2="128.23" stroke="#555" stroke-width="0.4"/>
<line x1="463.3" y1="131.49" x2="464.2" y2="131.49" stroke="#555" stroke-width="0.4"/>
<line x1="463.3" y1="134.74" x2="464.2" y2="134.74" stroke="#555" stroke-width="0.4"/>
<line x1="463.3" y1="138.00" x2="464.2" y2="138.00" stroke="#555" stroke-width="0.4"/>
<text x="468.8" y="145.60" font-size="5" fill="#111">0</text>
<text x="471.60" y="145.60" font-size="5" fill="#111">10<tspan dy="-2.2" font-size="3.6">2</tspan></text>
<line x1="475.40" y1="138.0" x2="475.40" y2="139.6" stroke="#333" stroke-width="0.5"/>
<text x="483.46" y="145.60" font-size="5" fill="#111">10<tspan dy="-2.2" font-size="3.6">3</tspan></text>
<line x1="487.26" y1="138.0" x2="487.26" y2="139.6" stroke="#333" stroke-width="0.5"/>
<text x="495.32" y="145.60" font-size="5" fill="#111">10<tspan dy="-2.2" font-size="3.6">4</tspan></text>
<line x1="499.12" y1="138.0" x2="499.12" y2="139.6" stroke="#333" stroke-width="0.5"/>
<text x="507.19" y="145.60" font-size="5" fill="#111">10<tspan dy="-2.2" font-size="3.6">5</tspan></text>
<line x1="510.99" y1="138.0" x2="510.99" y2="139.6" stroke="#333" stroke-width="0.5"/>
<path d="M464.20,138.00 L464.40,138.00 L464.60,138.00 L464.80,138.00 L465.00,138.00 L465.20,138.00 L465.40,138.00 L465.60,138.00 L465.80,138.00 L466.00,138.00 L466.20,138.00 L466.40,138.00 L466.60,138.00 L466.80,138.00 L467.00,138.00 L467.20,138.00 L467.40,138.00 L467.60,138.00 L467.80,138.00 L468.00,138.00 L468.20,138.00 L468.40,138.00 L468.60,138.00 L468.80,138.00 L469.00,138.00 L469.20,138.00 L469.40,138.00 L469.60,138.00 L469.80,138.00 L470.00,138.00 L470.20,138.00 L470.40,138.00 L470.60,138.00 L470.80,138.00 L471.00,138.00 L471.20,138.00 L471.40,138.00 L471.60,138.00 L471.80,138.00 L472.00,138.00 L472.20,138.00 L472.40,138.00 L472.60,138.00 L472.80,138.00 L473.00,138.00 L473.20,138.00 L473.40,138.00 L473.60,138.00 L473.80,138.00 L474.00,138.00 L474.20,138.00 L474.40,138.00 L474.60,138.00 L474.80,138.00 L475.00,138.00 L475.20,138.00 L475.40,138.00 L475.60,138.00 L475.80,138.00 L476.00,138.00 L476.20,138.00 L476.40,138.00 L476.60,138.00 L476.80,138.00 L477.00,138.00 L477.20,138.00 L477.40,138.00 L477.60,137.99 L477.80,137.99 L478.00,137.99 L478.20,137.98 L478.40,137.98 L478.60,137.97 L478.80,137.96 L479.00,137.95 L479.20,137.93 L479.40,137.91 L479.60,137.88 L479.80,137.84 L480.00,137.79 L480.20,137.73 L480.40,137.65 L480.60,137.55 L480.80,137.43 L481.00,137.27 L481.20,137.07 L481.40,136.82 L481.60,136.52 L481.80,136.15 L482.00,135.69 L482.20,135.14 L482.40,134.47 L482.60,133.67 L482.80,132.73 L483.00,131.60 L483.20,130.29 L483.40,128.77 L483.60,127.01 L483.80,125.00 L484.00,122.73 L484.20,120.19 L484.40,117.39 L484.60,114.34 L484.80,111.05 L485.00,107.59 L485.20,104.01 L485.40,100.42 L485.60,96.93 L485.80,93.74 L486.00,91.11 L486.20,89.60 L486.40,91.92 L486.60,94.60 L486.80,97.31 L487.00,99.99 L487.20,102.59 L487.40,105.08 L487.60,107.45 L487.80,109.69 L488.00,111.81 L488.20,113.80 L488.40,115.67 L488.60,117.42 L488.80,119.05 L489.00,120.56 L489.20,121.97 L489.40,123.28 L489.60,124.49 L489.80,125.62 L490.00,126.65 L490.20,127.61 L490.40,128.49 L490.60,129.31 L490.80,130.05 L491.00,130.74 L491.20,131.38 L491.40,131.96 L491.60,132.49 L491.80,132.98 L492.00,133.43 L492.20,133.83 L492.40,134.21 L492.60,134.55 L492.80,134.86 L493.00,135.15 L493.20,135.41 L493.40,135.65 L493.60,135.87 L493.80,136.06 L494.00,136.24 L494.20,136.41 L494.40,136.56 L494.60,136.69 L494.80,136.82 L495.00,136.93 L495.20,137.03 L495.40,137.12 L495.60,137.21 L495.80,137.28 L496.00,137.35 L496.20,137.41 L496.40,137.47 L496.60,137.52 L496.80,137.57 L497.00,137.61 L497.20,137.65 L497.40,137.68 L497.60,137.71 L497.80,137.74 L498.00,137.77 L498.20,137.79 L498.40,137.81 L498.60,137.83 L498.80,137.85 L499.00,137.86 L499.20,137.88 L499.40,137.89 L499.60,137.90 L499.80,137.91 L500.00,137.92 L500.20,137.93 L500.40,137.93 L500.60,137.94 L500.80,137.95 L501.00,137.95 L501.20,137.96 L501.40,137.96 L501.60,137.97 L501.80,137.97 L502.00,137.97 L502.20,137.98 L502.40,137.98 L502.60,137.98 L502.80,137.98 L503.00,137.98 L503.20,137.99 L503.40,137.99 L503.60,137.99 L503.80,137.99 L504.00,137.99 L504.20,137.99 L504.40,137.99 L504.60,137.99 L504.80,137.99 L505.00,137.99 L505.20,138.00 L505.40,138.00 L505.60,138.00 L505.80,138.00 L506.00,138.00 L506.20,138.00 L506.40,138.00 L506.60,138.00 L506.80,138.00 L507.00,138.00 L507.20,138.00 L507.40,138.00 L507.60,138.00 L507.80,138.00 L508.00,138.00 L508.20,138.00 L508.40,138.00 L508.60,138.00 L508.80,138.00 L509.00,138.00 L509.20,138.00 L509.40,138.00 L509.60,138.00 L509.80,138.00 L510.00,138.00 L510.20,138.00 L510.40,138.00 L510.60,138.00 L510.80,138.00 L511.00,138.00 L511.20,138.00 L511.40,138.00 L511.60,138.00 L511.80,138.00 L512.00,138.00 L512.20,138.00 L512.40,138.00 L512.60,138.00 L512.80,138.00 L513.00,138.00 L513.20,138.00 L513.40,138.00 L513.60,138.00 L513.80,138.00 L514.00,138.00 L514.20,138.00 L514.40,138.00 L514.60,138.00 L514.80,138.00 L515.00,138.00 L515.20,138.00 L515.40,138.00 L515.60,138.00" fill="none" stroke="#111" stroke-width="1.1" stroke-linejoin="round"/>
<line x1="490.0" y1="112.4" x2="515.7" y2="112.4" stroke="#555" stroke-width="0.9"/>
<line x1="490.0" y1="111.2" x2="490.0" y2="113.60000000000001" stroke="#555" stroke-width="0.6"/>
<text x="493.00" y="110.30" font-size="8.9" fill="#222">9.59</text>
<line x1="226.4" y1="155.6" x2="280.5" y2="155.6" stroke="#a0a0a0" stroke-width="0.8"/>
<line x1="280.5" y1="155.6" x2="280.5" y2="208.5" stroke="#777" stroke-width="0.8"/>
<line x1="226.4" y1="155.6" x2="226.4" y2="208.5" stroke="#444" stroke-width="0.8"/>
<line x1="226.4" y1="208.5" x2="280.5" y2="208.5" stroke="#333" stroke-width="0.9"/>
<line x1="224.6" y1="160.9" x2="226.4" y2="160.9" stroke="#333" stroke-width="0.6"/>
<text x="224.8" y="162.70000000000002" font-size="5.1" font-weight="bold" text-anchor="end" fill="#1a1a1a">2000</text>
<line x1="224.6" y1="174.2" x2="226.4" y2="174.2" stroke="#333" stroke-width="0.6"/>
<text x="224.8" y="176.0" font-size="5.1" font-weight="bold" text-anchor="end" fill="#1a1a1a">1500</text>
<line x1="224.6" y1="185.2" x2="226.4" y2="185.2" stroke="#333" stroke-width="0.6"/>
<text x="224.8" y="187.0" font-size="5.1" font-weight="bold" text-anchor="end" fill="#1a1a1a">1000</text>
<line x1="224.6" y1="196.8" x2="226.4" y2="196.8" stroke="#333" stroke-width="0.6"/>
<text x="224.8" y="198.60000000000002" font-size="5.1" font-weight="bold" text-anchor="end" fill="#1a1a1a">500</text>
<line x1="224.6" y1="208.5" x2="226.4" y2="208.5" stroke="#333" stroke-width="0.6"/>
<text x="224.8" y="210.3" font-size="5.1" font-weight="bold" text-anchor="end" fill="#1a1a1a">0</text>
<line x1="225.5" y1="155.60" x2="226.4" y2="155.60" stroke="#555" stroke-width="0.4"/>
<line x1="225.5" y1="158.91" x2="226.4" y2="158.91" stroke="#555" stroke-width="0.4"/>
<line x1="225.5" y1="162.21" x2="226.4" y2="162.21" stroke="#555" stroke-width="0.4"/>
<line x1="225.5" y1="165.52" x2="226.4" y2="165.52" stroke="#555" stroke-width="0.4"/>
<line x1="225.5" y1="168.82" x2="226.4" y2="168.82" stroke="#555" stroke-width="0.4"/>
<line x1="225.5" y1="172.13" x2="226.4" y2="172.13" stroke="#555" stroke-width="0.4"/>
<line x1="225.5" y1="175.44" x2="226.4" y2="175.44" stroke="#555" stroke-width="0.4"/>
<line x1="225.5" y1="178.74" x2="226.4" y2="178.74" stroke="#555" stroke-width="0.4"/>
<line x1="225.5" y1="182.05" x2="226.4" y2="182.05" stroke="#555" stroke-width="0.4"/>
<line x1="225.5" y1="185.36" x2="226.4" y2="185.36" stroke="#555" stroke-width="0.4"/>
<line x1="225.5" y1="188.66" x2="226.4" y2="188.66" stroke="#555" stroke-width="0.4"/>
<line x1="225.5" y1="191.97" x2="226.4" y2="191.97" stroke="#555" stroke-width="0.4"/>
<line x1="225.5" y1="195.28" x2="226.4" y2="195.28" stroke="#555" stroke-width="0.4"/>
<line x1="225.5" y1="198.58" x2="226.4" y2="198.58" stroke="#555" stroke-width="0.4"/>
<line x1="225.5" y1="201.89" x2="226.4" y2="201.89" stroke="#555" stroke-width="0.4"/>
<line x1="225.5" y1="205.19" x2="226.4" y2="205.19" stroke="#555" stroke-width="0.4"/>
<line x1="225.5" y1="208.50" x2="226.4" y2="208.50" stroke="#555" stroke-width="0.4"/>
<text x="231.0" y="216.10" font-size="5" fill="#111">0</text>
<text x="233.80" y="216.10" font-size="5" fill="#111">10<tspan dy="-2.2" font-size="3.6">2</tspan></text>
<line x1="237.60" y1="208.5" x2="237.60" y2="210.1" stroke="#333" stroke-width="0.5"/>
<text x="246.26" y="216.10" font-size="5" fill="#111">10<tspan dy="-2.2" font-size="3.6">3</tspan></text>
<line x1="250.06" y1="208.5" x2="250.06" y2="210.1" stroke="#333" stroke-width="0.5"/>
<text x="258.72" y="216.10" font-size="5" fill="#111">10<tspan dy="-2.2" font-size="3.6">4</tspan></text>
<line x1="262.52" y1="208.5" x2="262.52" y2="210.1" stroke="#333" stroke-width="0.5"/>
<text x="271.18" y="216.10" font-size="5" fill="#111">10<tspan dy="-2.2" font-size="3.6">5</tspan></text>
<line x1="274.98" y1="208.5" x2="274.98" y2="210.1" stroke="#333" stroke-width="0.5"/>
<path d="M226.40,208.50 L226.60,208.50 L226.80,208.50 L227.00,208.50 L227.20,208.50 L227.40,208.50 L227.60,208.50 L227.80,208.50 L228.00,208.50 L228.20,208.50 L228.40,208.50 L228.60,208.50 L228.80,208.50 L229.00,208.50 L229.20,208.50 L229.40,208.50 L229.60,208.50 L229.80,208.50 L230.00,208.50 L230.20,208.50 L230.40,208.50 L230.60,208.50 L230.80,208.50 L231.00,208.50 L231.20,208.50 L231.40,208.50 L231.60,208.50 L231.80,208.50 L232.00,208.50 L232.20,208.50 L232.40,208.50 L232.60,208.50 L232.80,208.50 L233.00,208.50 L233.20,208.50 L233.40,208.50 L233.60,208.50 L233.80,208.50 L234.00,208.50 L234.20,208.50 L234.40,208.50 L234.60,208.50 L234.80,208.50 L235.00,208.50 L235.20,208.50 L235.40,208.50 L235.60,208.50 L235.80,208.50 L236.00,208.50 L236.20,208.50 L236.40,208.50 L236.60,208.50 L236.80,208.50 L237.00,208.50 L237.20,208.50 L237.40,208.50 L237.60,208.50 L237.80,208.50 L238.00,208.50 L238.20,208.50 L238.40,208.50 L238.60,208.50 L238.80,208.50 L239.00,208.50 L239.20,208.50 L239.40,208.50 L239.60,208.50 L239.80,208.50 L240.00,208.49 L240.20,208.49 L240.40,208.49 L240.60,208.49 L240.80,208.49 L241.00,208.48 L241.20,208.48 L241.40,208.47 L241.60,208.47 L241.80,208.46 L242.00,208.45 L242.20,208.44 L242.40,208.42 L242.60,208.40 L242.80,208.38 L243.00,208.35 L243.20,208.31 L243.40,208.27 L243.60,208.22 L243.80,208.16 L244.00,208.08 L244.20,207.99 L244.40,207.88 L244.60,207.75 L244.80,207.59 L245.00,207.40 L245.20,207.18 L245.40,206.91 L245.60,206.60 L245.80,206.24 L246.00,205.81 L246.20,205.30 L246.40,204.72 L246.60,204.04 L246.80,203.26 L247.00,202.36 L247.20,201.33 L247.40,200.16 L247.60,198.83 L247.80,197.33 L248.00,195.65 L248.20,193.77 L248.40,191.70 L248.60,189.42 L248.80,186.93 L249.00,184.24 L249.20,181.37 L249.40,178.33 L249.60,175.16 L249.80,171.92 L250.00,168.68 L250.20,165.55 L250.40,162.70 L250.60,160.44 L250.80,160.34 L251.00,162.28 L251.20,164.74 L251.40,167.46 L251.60,170.32 L251.80,173.22 L252.00,176.09 L252.20,178.89 L252.40,181.58 L252.60,184.14 L252.80,186.55 L253.00,188.80 L253.20,190.89 L253.40,192.81 L253.60,194.57 L253.80,196.18 L254.00,197.64 L254.20,198.95 L254.40,200.13 L254.60,201.18 L254.80,202.12 L255.00,202.96 L255.20,203.69 L255.40,204.34 L255.60,204.92 L255.80,205.42 L256.00,205.85 L256.20,206.23 L256.40,206.56 L256.60,206.85 L256.80,207.09 L257.00,207.31 L257.20,207.49 L257.40,207.65 L257.60,207.78 L257.80,207.89 L258.00,207.99 L258.20,208.07 L258.40,208.14 L258.60,208.20 L258.80,208.25 L259.00,208.29 L259.20,208.33 L259.40,208.36 L259.60,208.38 L259.80,208.40 L260.00,208.42 L260.20,208.43 L260.40,208.45 L260.60,208.45 L260.80,208.46 L261.00,208.47 L261.20,208.48 L261.40,208.48 L261.60,208.48 L261.80,208.49 L262.00,208.49 L262.20,208.49 L262.40,208.49 L262.60,208.49 L262.80,208.50 L263.00,208.50 L263.20,208.50 L263.40,208.50 L263.60,208.50 L263.80,208.50 L264.00,208.50 L264.20,208.50 L264.40,208.50 L264.60,208.50 L264.80,208.50 L265.00,208.50 L265.20,208.50 L265.40,208.50 L265.60,208.50 L265.80,208.50 L266.00,208.50 L266.20,208.50 L266.40,208.50 L266.60,208.50 L266.80,208.50 L267.00,208.50 L267.20,208.50 L267.40,208.50 L267.60,208.50 L267.80,208.50 L268.00,208.50 L268.20,208.50 L268.40,208.50 L268.60,208.50 L268.80,208.50 L269.00,208.50 L269.20,208.50 L269.40,208.50 L269.60,208.50 L269.80,208.50 L270.00,208.50 L270.20,208.50 L270.40,208.50 L270.60,208.50 L270.80,208.50 L271.00,208.50 L271.20,208.50 L271.40,208.50 L271.60,208.50 L271.80,208.50 L272.00,208.50 L272.20,208.50 L272.40,208.50 L272.60,208.50 L272.80,208.50 L273.00,208.50 L273.20,208.50 L273.40,208.50 L273.60,208.50 L273.80,208.50 L274.00,208.50 L274.20,208.50 L274.40,208.50 L274.60,208.50 L274.80,208.50 L275.00,208.50 L275.20,208.50 L275.40,208.50 L275.60,208.50 L275.80,208.50 L276.00,208.50 L276.20,208.50 L276.40,208.50 L276.60,208.50 L276.80,208.50 L277.00,208.50 L277.20,208.50 L277.40,208.50 L277.60,208.50 L277.80,208.50 L278.00,208.50 L278.20,208.50 L278.40,208.50 L278.60,208.50 L278.80,208.50 L279.00,208.50 L279.20,208.50 L279.40,208.50 L279.60,208.50 L279.80,208.50 L280.00,208.50 L280.20,208.50 L280.40,208.50" fill="none" stroke="#e03a3a" stroke-width="1.1" stroke-linejoin="round"/>
<line x1="253.5" y1="183.0" x2="280.5" y2="183.0" stroke="#555" stroke-width="0.9"/>
<line x1="253.5" y1="181.8" x2="253.5" y2="184.2" stroke="#555" stroke-width="0.6"/>
<text x="259.40" y="180.90" font-size="8.9" fill="#222">6.09</text>
<line x1="358.5" y1="155.8" x2="358.5" y2="208.8" stroke="#777" stroke-width="0.8"/>
<line x1="304.9" y1="155.8" x2="304.9" y2="208.8" stroke="#444" stroke-width="0.8"/>
<line x1="304.9" y1="208.8" x2="358.5" y2="208.8" stroke="#333" stroke-width="0.9"/>
<line x1="303.09999999999997" y1="167.8" x2="304.9" y2="167.8" stroke="#333" stroke-width="0.6"/>
<text x="303.29999999999995" y="169.60000000000002" font-size="5.1" font-weight="bold" text-anchor="end" fill="#1a1a1a">1500</text>
<line x1="303.09999999999997" y1="181.6" x2="304.9" y2="181.6" stroke="#333" stroke-width="0.6"/>
<text x="303.29999999999995" y="183.4" font-size="5.1" font-weight="bold" text-anchor="end" fill="#1a1a1a">1000</text>
<line x1="303.09999999999997" y1="195.5" x2="304.9" y2="195.5" stroke="#333" stroke-width="0.6"/>
<text x="303.29999999999995" y="197.3" font-size="5.1" font-weight="bold" text-anchor="end" fill="#1a1a1a">500</text>
<line x1="303.09999999999997" y1="209.0" x2="304.9" y2="209.0" stroke="#333" stroke-width="0.6"/>
<text x="303.29999999999995" y="210.8" font-size="5.1" font-weight="bold" text-anchor="end" fill="#1a1a1a">0</text>
<line x1="304.0" y1="155.80" x2="304.9" y2="155.80" stroke="#555" stroke-width="0.4"/>
<line x1="304.0" y1="159.11" x2="304.9" y2="159.11" stroke="#555" stroke-width="0.4"/>
<line x1="304.0" y1="162.43" x2="304.9" y2="162.43" stroke="#555" stroke-width="0.4"/>
<line x1="304.0" y1="165.74" x2="304.9" y2="165.74" stroke="#555" stroke-width="0.4"/>
<line x1="304.0" y1="169.05" x2="304.9" y2="169.05" stroke="#555" stroke-width="0.4"/>
<line x1="304.0" y1="172.36" x2="304.9" y2="172.36" stroke="#555" stroke-width="0.4"/>
<line x1="304.0" y1="175.68" x2="304.9" y2="175.68" stroke="#555" stroke-width="0.4"/>
<line x1="304.0" y1="178.99" x2="304.9" y2="178.99" stroke="#555" stroke-width="0.4"/>
<line x1="304.0" y1="182.30" x2="304.9" y2="182.30" stroke="#555" stroke-width="0.4"/>
<line x1="304.0" y1="185.61" x2="304.9" y2="185.61" stroke="#555" stroke-width="0.4"/>
<line x1="304.0" y1="188.93" x2="304.9" y2="188.93" stroke="#555" stroke-width="0.4"/>
<line x1="304.0" y1="192.24" x2="304.9" y2="192.24" stroke="#555" stroke-width="0.4"/>
<line x1="304.0" y1="195.55" x2="304.9" y2="195.55" stroke="#555" stroke-width="0.4"/>
<line x1="304.0" y1="198.86" x2="304.9" y2="198.86" stroke="#555" stroke-width="0.4"/>
<line x1="304.0" y1="202.18" x2="304.9" y2="202.18" stroke="#555" stroke-width="0.4"/>
<line x1="304.0" y1="205.49" x2="304.9" y2="205.49" stroke="#555" stroke-width="0.4"/>
<line x1="304.0" y1="208.80" x2="304.9" y2="208.80" stroke="#555" stroke-width="0.4"/>
<text x="309.5" y="216.40" font-size="5" fill="#111">0</text>
<text x="312.30" y="216.40" font-size="5" fill="#111">10<tspan dy="-2.2" font-size="3.6">2</tspan></text>
<line x1="316.10" y1="208.8" x2="316.10" y2="210.4" stroke="#333" stroke-width="0.5"/>
<text x="324.65" y="216.40" font-size="5" fill="#111">10<tspan dy="-2.2" font-size="3.6">3</tspan></text>
<line x1="328.45" y1="208.8" x2="328.45" y2="210.4" stroke="#333" stroke-width="0.5"/>
<text x="336.99" y="216.40" font-size="5" fill="#111">10<tspan dy="-2.2" font-size="3.6">4</tspan></text>
<line x1="340.79" y1="208.8" x2="340.79" y2="210.4" stroke="#333" stroke-width="0.5"/>
<text x="349.34" y="216.40" font-size="5" fill="#111">10<tspan dy="-2.2" font-size="3.6">5</tspan></text>
<line x1="353.14" y1="208.8" x2="353.14" y2="210.4" stroke="#333" stroke-width="0.5"/>
<path d="M304.90,208.80 L305.10,208.80 L305.30,208.80 L305.50,208.80 L305.70,208.80 L305.90,208.80 L306.10,208.80 L306.30,208.80 L306.50,208.80 L306.70,208.80 L306.90,208.80 L307.10,208.80 L307.30,208.80 L307.50,208.80 L307.70,208.80 L307.90,208.80 L308.10,208.80 L308.30,208.80 L308.50,208.80 L308.70,208.80 L308.90,208.80 L309.10,208.80 L309.30,208.80 L309.50,208.80 L309.70,208.80 L309.90,208.80 L310.10,208.80 L310.30,208.80 L310.50,208.80 L310.70,208.80 L310.90,208.80 L311.10,208.80 L311.30,208.80 L311.50,208.80 L311.70,208.80 L311.90,208.80 L312.10,208.80 L312.30,208.80 L312.50,208.80 L312.70,208.80 L312.90,208.80 L313.10,208.80 L313.30,208.80 L313.50,208.80 L313.70,208.80 L313.90,208.80 L314.10,208.80 L314.30,208.80 L314.50,208.80 L314.70,208.80 L314.90,208.80 L315.10,208.80 L315.30,208.80 L315.50,208.80 L315.70,208.80 L315.90,208.80 L316.10,208.80 L316.30,208.80 L316.50,208.80 L316.70,208.80 L316.90,208.80 L317.10,208.80 L317.30,208.80 L317.50,208.80 L317.70,208.80 L317.90,208.80 L318.10,208.80 L318.30,208.80 L318.50,208.80 L318.70,208.79 L318.90,208.79 L319.10,208.79 L319.30,208.79 L319.50,208.79 L319.70,208.78 L319.90,208.77 L320.10,208.77 L320.30,208.76 L320.50,208.75 L320.70,208.73 L320.90,208.71 L321.10,208.69 L321.30,208.66 L321.50,208.63 L321.70,208.58 L321.90,208.53 L322.10,208.46 L322.30,208.38 L322.50,208.28 L322.70,208.16 L322.90,208.02 L323.10,207.85 L323.30,207.64 L323.50,207.40 L323.70,207.11 L323.90,206.76 L324.10,206.36 L324.30,205.89 L324.50,205.35 L324.70,204.73 L324.90,204.00 L325.10,203.18 L325.30,202.25 L325.50,201.19 L325.70,200.00 L325.90,198.68 L326.10,197.21 L326.30,195.58 L326.50,193.81 L326.70,191.89 L326.90,189.81 L327.10,187.59 L327.30,185.24 L327.50,182.77 L327.70,180.21 L327.90,177.59 L328.10,174.93 L328.30,172.27 L328.50,169.67 L328.70,167.19 L328.90,164.87 L329.10,162.81 L329.30,161.08 L329.50,159.81 L329.70,159.20 L329.90,159.81 L330.10,161.08 L330.30,162.81 L330.50,164.87 L330.70,167.19 L330.90,169.67 L331.10,172.27 L331.30,174.93 L331.50,177.59 L331.70,180.21 L331.90,182.77 L332.10,185.24 L332.30,187.59 L332.50,189.81 L332.70,191.89 L332.90,193.81 L333.10,195.58 L333.30,197.21 L333.50,198.68 L333.70,200.00 L333.90,201.19 L334.10,202.25 L334.30,203.18 L334.50,204.00 L334.70,204.73 L334.90,205.35 L335.10,205.89 L335.30,206.36 L335.50,206.76 L335.70,207.11 L335.90,207.40 L336.10,207.64 L336.30,207.85 L336.50,208.02 L336.70,208.16 L336.90,208.28 L337.10,208.38 L337.30,208.46 L337.50,208.53 L337.70,208.58 L337.90,208.63 L338.10,208.66 L338.30,208.69 L338.50,208.71 L338.70,208.73 L338.90,208.75 L339.10,208.76 L339.30,208.77 L339.50,208.77 L339.70,208.78 L339.90,208.79 L340.10,208.79 L340.30,208.79 L340.50,208.79 L340.70,208.79 L340.90,208.80 L341.10,208.80 L341.30,208.80 L341.50,208.80 L341.70,208.80 L341.90,208.80 L342.10,208.80 L342.30,208.80 L342.50,208.80 L342.70,208.80 L342.90,208.80 L343.10,208.80 L343.30,208.80 L343.50,208.80 L343.70,208.80 L343.90,208.80 L344.10,208.80 L344.30,208.80 L344.50,208.80 L344.70,208.80 L344.90,208.80 L345.10,208.80 L345.30,208.80 L345.50,208.80 L345.70,208.80 L345.90,208.80 L346.10,208.80 L346.30,208.80 L346.50,208.80 L346.70,208.80 L346.90,208.80 L347.10,208.80 L347.30,208.80 L347.50,208.80 L347.70,208.80 L347.90,208.80 L348.10,208.80 L348.30,208.80 L348.50,208.80 L348.70,208.80 L348.90,208.80 L349.10,208.80 L349.30,208.80 L349.50,208.80 L349.70,208.80 L349.90,208.80 L350.10,208.80 L350.30,208.80 L350.50,208.80 L350.70,208.80 L350.90,208.80 L351.10,208.80 L351.30,208.80 L351.50,208.80 L351.70,208.80 L351.90,208.80 L352.10,208.80 L352.30,208.80 L352.50,208.80 L352.70,208.80 L352.90,208.80 L353.10,208.80 L353.30,208.80 L353.50,208.80 L353.70,208.80 L353.90,208.80 L354.10,208.80 L354.30,208.80 L354.50,208.80 L354.70,208.80 L354.90,208.80 L355.10,208.80 L355.30,208.80 L355.50,208.80 L355.70,208.80 L355.90,208.80 L356.10,208.80 L356.30,208.80 L356.50,208.80 L356.70,208.80 L356.90,208.80 L357.10,208.80 L357.30,208.80 L357.50,208.80 L357.70,208.80 L357.90,208.80 L358.10,208.80 L358.30,208.80 L358.50,208.80" fill="none" stroke="#e03a3a" stroke-width="1.1" stroke-linejoin="round"/>
<line x1="331.2" y1="182.7" x2="358.5" y2="182.7" stroke="#555" stroke-width="0.9"/>
<line x1="331.2" y1="181.5" x2="331.2" y2="183.89999999999998" stroke="#555" stroke-width="0.6"/>
<text x="339.20" y="180.60" font-size="8.9" fill="#222">20.7</text>
<line x1="437.0" y1="155.8" x2="437.0" y2="208.8" stroke="#777" stroke-width="0.8"/>
<line x1="384.2" y1="155.8" x2="384.2" y2="208.8" stroke="#444" stroke-width="0.8"/>
<line x1="384.2" y1="208.8" x2="437.0" y2="208.8" stroke="#333" stroke-width="0.9"/>
<line x1="382.4" y1="164.2" x2="384.2" y2="164.2" stroke="#333" stroke-width="0.6"/>
<text x="382.59999999999997" y="166.0" font-size="5.1" font-weight="bold" text-anchor="end" fill="#1a1a1a">1200</text>
<line x1="382.4" y1="175.5" x2="384.2" y2="175.5" stroke="#333" stroke-width="0.6"/>
<text x="382.59999999999997" y="177.3" font-size="5.1" font-weight="bold" text-anchor="end" fill="#1a1a1a">900</text>
<line x1="382.4" y1="186.5" x2="384.2" y2="186.5" stroke="#333" stroke-width="0.6"/>
<text x="382.59999999999997" y="188.3" font-size="5.1" font-weight="bold" text-anchor="end" fill="#1a1a1a">600</text>
<line x1="382.4" y1="198.0" x2="384.2" y2="198.0" stroke="#333" stroke-width="0.6"/>
<text x="382.59999999999997" y="199.8" font-size="5.1" font-weight="bold" text-anchor="end" fill="#1a1a1a">300</text>
<line x1="382.4" y1="209.0" x2="384.2" y2="209.0" stroke="#333" stroke-width="0.6"/>
<text x="382.59999999999997" y="210.8" font-size="5.1" font-weight="bold" text-anchor="end" fill="#1a1a1a">0</text>
<line x1="383.3" y1="155.80" x2="384.2" y2="155.80" stroke="#555" stroke-width="0.4"/>
<line x1="383.3" y1="159.11" x2="384.2" y2="159.11" stroke="#555" stroke-width="0.4"/>
<line x1="383.3" y1="162.43" x2="384.2" y2="162.43" stroke="#555" stroke-width="0.4"/>
<line x1="383.3" y1="165.74" x2="384.2" y2="165.74" stroke="#555" stroke-width="0.4"/>
<line x1="383.3" y1="169.05" x2="384.2" y2="169.05" stroke="#555" stroke-width="0.4"/>
<line x1="383.3" y1="172.36" x2="384.2" y2="172.36" stroke="#555" stroke-width="0.4"/>
<line x1="383.3" y1="175.68" x2="384.2" y2="175.68" stroke="#555" stroke-width="0.4"/>
<line x1="383.3" y1="178.99" x2="384.2" y2="178.99" stroke="#555" stroke-width="0.4"/>
<line x1="383.3" y1="182.30" x2="384.2" y2="182.30" stroke="#555" stroke-width="0.4"/>
<line x1="383.3" y1="185.61" x2="384.2" y2="185.61" stroke="#555" stroke-width="0.4"/>
<line x1="383.3" y1="188.93" x2="384.2" y2="188.93" stroke="#555" stroke-width="0.4"/>
<line x1="383.3" y1="192.24" x2="384.2" y2="192.24" stroke="#555" stroke-width="0.4"/>
<line x1="383.3" y1="195.55" x2="384.2" y2="195.55" stroke="#555" stroke-width="0.4"/>
<line x1="383.3" y1="198.86" x2="384.2" y2="198.86" stroke="#555" stroke-width="0.4"/>
<line x1="383.3" y1="202.18" x2="384.2" y2="202.18" stroke="#555" stroke-width="0.4"/>
<line x1="383.3" y1="205.49" x2="384.2" y2="205.49" stroke="#555" stroke-width="0.4"/>
<line x1="383.3" y1="208.80" x2="384.2" y2="208.80" stroke="#555" stroke-width="0.4"/>
<text x="388.8" y="216.40" font-size="5" fill="#111">0</text>
<text x="391.60" y="216.40" font-size="5" fill="#111">10<tspan dy="-2.2" font-size="3.6">2</tspan></text>
<line x1="395.40" y1="208.8" x2="395.40" y2="210.4" stroke="#333" stroke-width="0.5"/>
<text x="403.76" y="216.40" font-size="5" fill="#111">10<tspan dy="-2.2" font-size="3.6">3</tspan></text>
<line x1="407.56" y1="208.8" x2="407.56" y2="210.4" stroke="#333" stroke-width="0.5"/>
<text x="415.92" y="216.40" font-size="5" fill="#111">10<tspan dy="-2.2" font-size="3.6">4</tspan></text>
<line x1="419.72" y1="208.8" x2="419.72" y2="210.4" stroke="#333" stroke-width="0.5"/>
<text x="428.09" y="216.40" font-size="5" fill="#111">10<tspan dy="-2.2" font-size="3.6">5</tspan></text>
<line x1="431.89" y1="208.8" x2="431.89" y2="210.4" stroke="#333" stroke-width="0.5"/>
<path d="M384.20,208.80 L384.40,208.80 L384.60,208.80 L384.80,208.80 L385.00,208.80 L385.20,208.80 L385.40,208.80 L385.60,208.80 L385.80,208.80 L386.00,208.80 L386.20,208.80 L386.40,208.80 L386.60,208.80 L386.80,208.80 L387.00,208.80 L387.20,208.80 L387.40,208.80 L387.60,208.80 L387.80,208.80 L388.00,208.80 L388.20,208.80 L388.40,208.80 L388.60,208.80 L388.80,208.80 L389.00,208.80 L389.20,208.80 L389.40,208.80 L389.60,208.80 L389.80,208.80 L390.00,208.80 L390.20,208.80 L390.40,208.80 L390.60,208.80 L390.80,208.80 L391.00,208.80 L391.20,208.80 L391.40,208.80 L391.60,208.80 L391.80,208.80 L392.00,208.80 L392.20,208.80 L392.40,208.80 L392.60,208.80 L392.80,208.80 L393.00,208.80 L393.20,208.80 L393.40,208.80 L393.60,208.80 L393.80,208.80 L394.00,208.80 L394.20,208.80 L394.40,208.80 L394.60,208.80 L394.80,208.80 L395.00,208.80 L395.20,208.80 L395.40,208.80 L395.60,208.80 L395.80,208.80 L396.00,208.80 L396.20,208.80 L396.40,208.80 L396.60,208.80 L396.80,208.80 L397.00,208.80 L397.20,208.80 L397.40,208.80 L397.60,208.80 L397.80,208.80 L398.00,208.79 L398.20,208.79 L398.40,208.79 L398.60,208.78 L398.80,208.77 L399.00,208.76 L399.20,208.75 L399.40,208.73 L399.60,208.70 L399.80,208.66 L400.00,208.62 L400.20,208.55 L400.40,208.47 L400.60,208.37 L400.80,208.23 L401.00,208.07 L401.20,207.86 L401.40,207.61 L401.60,207.30 L401.80,206.94 L402.00,206.50 L402.20,205.98 L402.40,205.37 L402.60,204.67 L402.80,203.86 L403.00,202.94 L403.20,201.91 L403.40,200.76 L403.60,199.49 L403.80,198.10 L404.00,196.59 L404.20,194.97 L404.40,193.24 L404.60,191.42 L404.80,189.52 L405.00,187.54 L405.20,185.52 L405.40,183.46 L405.60,181.38 L405.80,179.32 L406.00,177.27 L406.20,175.27 L406.40,173.34 L406.60,171.48 L406.80,169.73 L407.00,168.09 L407.20,166.57 L407.40,165.19 L407.60,163.96 L407.80,162.87 L408.00,161.92 L408.20,161.13 L408.40,160.48 L408.60,159.96 L408.80,159.57 L409.00,159.30 L409.20,159.12 L409.40,159.03 L409.60,159.00 L409.80,159.01 L410.00,159.08 L410.20,159.27 L410.40,159.60 L410.60,160.09 L410.80,160.76 L411.00,161.60 L411.20,162.62 L411.40,163.83 L411.60,165.21 L411.80,166.76 L412.00,168.46 L412.20,170.31 L412.40,172.26 L412.60,174.32 L412.80,176.45 L413.00,178.64 L413.20,180.84 L413.40,183.06 L413.60,185.24 L413.80,187.39 L414.00,189.47 L414.20,191.47 L414.40,193.37 L414.60,195.16 L414.80,196.83 L415.00,198.37 L415.20,199.78 L415.40,201.06 L415.60,202.21 L415.80,203.23 L416.00,204.13 L416.20,204.92 L416.40,205.60 L416.60,206.18 L416.80,206.67 L417.00,207.09 L417.20,207.43 L417.40,207.72 L417.60,207.95 L417.80,208.14 L418.00,208.29 L418.20,208.41 L418.40,208.51 L418.60,208.58 L418.80,208.64 L419.00,208.68 L419.20,208.71 L419.40,208.74 L419.60,208.75 L419.80,208.77 L420.00,208.78 L420.20,208.78 L420.40,208.79 L420.60,208.79 L420.80,208.80 L421.00,208.80 L421.20,208.80 L421.40,208.80 L421.60,208.80 L421.80,208.80 L422.00,208.80 L422.20,208.80 L422.40,208.80 L422.60,208.80 L422.80,208.80 L423.00,208.80 L423.20,208.80 L423.40,208.80 L423.60,208.80 L423.80,208.80 L424.00,208.80 L424.20,208.80 L424.40,208.80 L424.60,208.80 L424.80,208.80 L425.00,208.80 L425.20,208.80 L425.40,208.80 L425.60,208.80 L425.80,208.80 L426.00,208.80 L426.20,208.80 L426.40,208.80 L426.60,208.80 L426.80,208.80 L427.00,208.80 L427.20,208.80 L427.40,208.80 L427.60,208.80 L427.80,208.80 L428.00,208.80 L428.20,208.80 L428.40,208.80 L428.60,208.80 L428.80,208.80 L429.00,208.80 L429.20,208.80 L429.40,208.80 L429.60,208.80 L429.80,208.80 L430.00,208.80 L430.20,208.80 L430.40,208.80 L430.60,208.80 L430.80,208.80 L431.00,208.80 L431.20,208.80 L431.40,208.80 L431.60,208.80 L431.80,208.80 L432.00,208.80 L432.20,208.80 L432.40,208.80 L432.60,208.80 L432.80,208.80 L433.00,208.80 L433.20,208.80 L433.40,208.80 L433.60,208.80 L433.80,208.80 L434.00,208.80 L434.20,208.80 L434.40,208.80 L434.60,208.80 L434.80,208.80 L435.00,208.80 L435.20,208.80 L435.40,208.80 L435.60,208.80 L435.80,208.80 L436.00,208.80 L436.20,208.80 L436.40,208.80 L436.60,208.80 L436.80,208.80 L437.00,208.80" fill="none" stroke="#e03a3a" stroke-width="1.1" stroke-linejoin="round"/>
<line x1="410.3" y1="183.0" x2="437.0" y2="183.0" stroke="#555" stroke-width="0.9"/>
<line x1="410.3" y1="181.8" x2="410.3" y2="184.2" stroke="#555" stroke-width="0.6"/>
<text x="418.20" y="180.90" font-size="8.9" fill="#222">31.9</text>
<line x1="463.4" y1="158.5" x2="516.5" y2="158.5" stroke="#a0a0a0" stroke-width="0.8"/>
<line x1="516.5" y1="158.5" x2="516.5" y2="208.8" stroke="#777" stroke-width="0.8"/>
<line x1="463.4" y1="158.5" x2="463.4" y2="208.8" stroke="#444" stroke-width="0.8"/>
<line x1="463.4" y1="208.8" x2="516.5" y2="208.8" stroke="#333" stroke-width="0.9"/>
<line x1="461.59999999999997" y1="158.8" x2="463.4" y2="158.8" stroke="#333" stroke-width="0.6"/>
<text x="461.79999999999995" y="160.60000000000002" font-size="5.1" font-weight="bold" text-anchor="end" fill="#1a1a1a">2000</text>
<line x1="461.59999999999997" y1="171.5" x2="463.4" y2="171.5" stroke="#333" stroke-width="0.6"/>
<text x="461.79999999999995" y="173.3" font-size="5.1" font-weight="bold" text-anchor="end" fill="#1a1a1a">1500</text>
<line x1="461.59999999999997" y1="184.2" x2="463.4" y2="184.2" stroke="#333" stroke-width="0.6"/>
<text x="461.79999999999995" y="186.0" font-size="5.1" font-weight="bold" text-anchor="end" fill="#1a1a1a">1000</text>
<line x1="461.59999999999997" y1="197.0" x2="463.4" y2="197.0" stroke="#333" stroke-width="0.6"/>
<text x="461.79999999999995" y="198.8" font-size="5.1" font-weight="bold" text-anchor="end" fill="#1a1a1a">500</text>
<line x1="461.59999999999997" y1="209.0" x2="463.4" y2="209.0" stroke="#333" stroke-width="0.6"/>
<text x="461.79999999999995" y="210.8" font-size="5.1" font-weight="bold" text-anchor="end" fill="#1a1a1a">0</text>
<line x1="462.5" y1="158.50" x2="463.4" y2="158.50" stroke="#555" stroke-width="0.4"/>
<line x1="462.5" y1="161.64" x2="463.4" y2="161.64" stroke="#555" stroke-width="0.4"/>
<line x1="462.5" y1="164.79" x2="463.4" y2="164.79" stroke="#555" stroke-width="0.4"/>
<line x1="462.5" y1="167.93" x2="463.4" y2="167.93" stroke="#555" stroke-width="0.4"/>
<line x1="462.5" y1="171.07" x2="463.4" y2="171.07" stroke="#555" stroke-width="0.4"/>
<line x1="462.5" y1="174.22" x2="463.4" y2="174.22" stroke="#555" stroke-width="0.4"/>
<line x1="462.5" y1="177.36" x2="463.4" y2="177.36" stroke="#555" stroke-width="0.4"/>
<line x1="462.5" y1="180.51" x2="463.4" y2="180.51" stroke="#555" stroke-width="0.4"/>
<line x1="462.5" y1="183.65" x2="463.4" y2="183.65" stroke="#555" stroke-width="0.4"/>
<line x1="462.5" y1="186.79" x2="463.4" y2="186.79" stroke="#555" stroke-width="0.4"/>
<line x1="462.5" y1="189.94" x2="463.4" y2="189.94" stroke="#555" stroke-width="0.4"/>
<line x1="462.5" y1="193.08" x2="463.4" y2="193.08" stroke="#555" stroke-width="0.4"/>
<line x1="462.5" y1="196.23" x2="463.4" y2="196.23" stroke="#555" stroke-width="0.4"/>
<line x1="462.5" y1="199.37" x2="463.4" y2="199.37" stroke="#555" stroke-width="0.4"/>
<line x1="462.5" y1="202.51" x2="463.4" y2="202.51" stroke="#555" stroke-width="0.4"/>
<line x1="462.5" y1="205.66" x2="463.4" y2="205.66" stroke="#555" stroke-width="0.4"/>
<line x1="462.5" y1="208.80" x2="463.4" y2="208.80" stroke="#555" stroke-width="0.4"/>
<text x="468.0" y="216.40" font-size="5" fill="#111">0</text>
<text x="470.80" y="216.40" font-size="5" fill="#111">10<tspan dy="-2.2" font-size="3.6">2</tspan></text>
<line x1="474.60" y1="208.8" x2="474.60" y2="210.4" stroke="#333" stroke-width="0.5"/>
<text x="483.03" y="216.40" font-size="5" fill="#111">10<tspan dy="-2.2" font-size="3.6">3</tspan></text>
<line x1="486.83" y1="208.8" x2="486.83" y2="210.4" stroke="#333" stroke-width="0.5"/>
<text x="495.26" y="216.40" font-size="5" fill="#111">10<tspan dy="-2.2" font-size="3.6">4</tspan></text>
<line x1="499.06" y1="208.8" x2="499.06" y2="210.4" stroke="#333" stroke-width="0.5"/>
<text x="507.49" y="216.40" font-size="5" fill="#111">10<tspan dy="-2.2" font-size="3.6">5</tspan></text>
<line x1="511.29" y1="208.8" x2="511.29" y2="210.4" stroke="#333" stroke-width="0.5"/>
<path d="M463.40,208.80 L463.60,208.80 L463.80,208.80 L464.00,208.80 L464.20,208.80 L464.40,208.80 L464.60,208.80 L464.80,208.80 L465.00,208.80 L465.20,208.80 L465.40,208.80 L465.60,208.80 L465.80,208.80 L466.00,208.80 L466.20,208.80 L466.40,208.80 L466.60,208.80 L466.80,208.80 L467.00,208.80 L467.20,208.80 L467.40,208.80 L467.60,208.80 L467.80,208.80 L468.00,208.80 L468.20,208.80 L468.40,208.80 L468.60,208.80 L468.80,208.80 L469.00,208.80 L469.20,208.80 L469.40,208.80 L469.60,208.80 L469.80,208.80 L470.00,208.80 L470.20,208.80 L470.40,208.80 L470.60,208.80 L470.80,208.80 L471.00,208.80 L471.20,208.80 L471.40,208.80 L471.60,208.80 L471.80,208.80 L472.00,208.80 L472.20,208.80 L472.40,208.80 L472.60,208.80 L472.80,208.80 L473.00,208.80 L473.20,208.80 L473.40,208.80 L473.60,208.80 L473.80,208.80 L474.00,208.80 L474.20,208.80 L474.40,208.80 L474.60,208.80 L474.80,208.80 L475.00,208.80 L475.20,208.80 L475.40,208.80 L475.60,208.80 L475.80,208.80 L476.00,208.80 L476.20,208.80 L476.40,208.80 L476.60,208.80 L476.80,208.80 L477.00,208.80 L477.20,208.79 L477.40,208.79 L477.60,208.78 L477.80,208.77 L478.00,208.75 L478.20,208.73 L478.40,208.69 L478.60,208.64 L478.80,208.57 L479.00,208.47 L479.20,208.32 L479.40,208.13 L479.60,207.87 L479.80,207.53 L480.00,207.08 L480.20,206.52 L480.40,205.81 L480.60,204.93 L480.80,203.87 L481.00,202.59 L481.20,201.09 L481.40,199.36 L481.60,197.38 L481.80,195.17 L482.00,192.73 L482.20,190.10 L482.40,187.30 L482.60,184.39 L482.80,181.42 L483.00,178.45 L483.20,175.55 L483.40,172.78 L483.60,170.21 L483.80,167.91 L484.00,165.92 L484.20,164.30 L484.40,163.05 L484.60,162.20 L484.80,161.73 L485.00,161.60 L485.20,161.85 L485.40,162.53 L485.60,163.58 L485.80,164.97 L486.00,166.64 L486.20,168.57 L486.40,170.70 L486.60,172.99 L486.80,175.38 L487.00,177.84 L487.20,180.33 L487.40,182.81 L487.60,185.23 L487.80,187.58 L488.00,189.83 L488.20,191.96 L488.40,193.95 L488.60,195.79 L488.80,197.48 L489.00,199.02 L489.20,200.41 L489.40,201.65 L489.60,202.74 L489.80,203.71 L490.00,204.54 L490.20,205.27 L490.40,205.89 L490.60,206.41 L490.80,206.86 L491.00,207.23 L491.20,207.54 L491.40,207.79 L491.60,208.00 L491.80,208.17 L492.00,208.31 L492.20,208.42 L492.40,208.50 L492.60,208.57 L492.80,208.63 L493.00,208.67 L493.20,208.70 L493.40,208.73 L493.60,208.74 L493.80,208.76 L494.00,208.77 L494.20,208.78 L494.40,208.78 L494.60,208.79 L494.80,208.79 L495.00,208.79 L495.20,208.80 L495.40,208.80 L495.60,208.80 L495.80,208.80 L496.00,208.80 L496.20,208.80 L496.40,208.80 L496.60,208.80 L496.80,208.80 L497.00,208.80 L497.20,208.80 L497.40,208.80 L497.60,208.80 L497.80,208.80 L498.00,208.80 L498.20,208.80 L498.40,208.80 L498.60,208.80 L498.80,208.80 L499.00,208.80 L499.20,208.80 L499.40,208.80 L499.60,208.80 L499.80,208.80 L500.00,208.80 L500.20,208.80 L500.40,208.80 L500.60,208.80 L500.80,208.80 L501.00,208.80 L501.20,208.80 L501.40,208.80 L501.60,208.80 L501.80,208.80 L502.00,208.80 L502.20,208.80 L502.40,208.80 L502.60,208.80 L502.80,208.80 L503.00,208.80 L503.20,208.80 L503.40,208.80 L503.60,208.80 L503.80,208.80 L504.00,208.80 L504.20,208.80 L504.40,208.80 L504.60,208.80 L504.80,208.80 L505.00,208.80 L505.20,208.80 L505.40,208.80 L505.60,208.80 L505.80,208.80 L506.00,208.80 L506.20,208.80 L506.40,208.80 L506.60,208.80 L506.80,208.80 L507.00,208.80 L507.20,208.80 L507.40,208.80 L507.60,208.80 L507.80,208.80 L508.00,208.80 L508.20,208.80 L508.40,208.80 L508.60,208.80 L508.80,208.80 L509.00,208.80 L509.20,208.80 L509.40,208.80 L509.60,208.80 L509.80,208.80 L510.00,208.80 L510.20,208.80 L510.40,208.80 L510.60,208.80 L510.80,208.80 L511.00,208.80 L511.20,208.80 L511.40,208.80 L511.60,208.80 L511.80,208.80 L512.00,208.80 L512.20,208.80 L512.40,208.80 L512.60,208.80 L512.80,208.80 L513.00,208.80 L513.20,208.80 L513.40,208.80 L513.60,208.80 L513.80,208.80 L514.00,208.80 L514.20,208.80 L514.40,208.80 L514.60,208.80 L514.80,208.80 L515.00,208.80 L515.20,208.80 L515.40,208.80 L515.60,208.80 L515.80,208.80 L516.00,208.80 L516.20,208.80 L516.40,208.80" fill="none" stroke="#e03a3a" stroke-width="1.1" stroke-linejoin="round"/>
<line x1="490.0" y1="184.2" x2="516.5" y2="184.2" stroke="#555" stroke-width="0.9"/>
<line x1="490.0" y1="183.0" x2="490.0" y2="185.39999999999998" stroke="#555" stroke-width="0.6"/>
<text x="493.50" y="182.10" font-size="8.9" fill="#222">3.24</text>
<line x1="224.9" y1="228.0" x2="280.5" y2="228.0" stroke="#a0a0a0" stroke-width="0.8"/>
<line x1="280.5" y1="228.0" x2="280.5" y2="283.5" stroke="#777" stroke-width="0.8"/>
<line x1="224.9" y1="228.0" x2="224.9" y2="283.5" stroke="#444" stroke-width="0.8"/>
<line x1="224.9" y1="283.5" x2="280.5" y2="283.5" stroke="#333" stroke-width="0.9"/>
<line x1="223.1" y1="230.2" x2="224.9" y2="230.2" stroke="#333" stroke-width="0.6"/>
<text x="223.3" y="232.0" font-size="5.1" font-weight="bold" text-anchor="end" fill="#1a1a1a">400</text>
<line x1="223.1" y1="243.7" x2="224.9" y2="243.7" stroke="#333" stroke-width="0.6"/>
<text x="223.3" y="245.5" font-size="5.1" font-weight="bold" text-anchor="end" fill="#1a1a1a">300</text>
<line x1="223.1" y1="257.7" x2="224.9" y2="257.7" stroke="#333" stroke-width="0.6"/>
<text x="223.3" y="259.5" font-size="5.1" font-weight="bold" text-anchor="end" fill="#1a1a1a">200</text>
<line x1="223.1" y1="270.8" x2="224.9" y2="270.8" stroke="#333" stroke-width="0.6"/>
<text x="223.3" y="272.6" font-size="5.1" font-weight="bold" text-anchor="end" fill="#1a1a1a">100</text>
<line x1="223.1" y1="283.5" x2="224.9" y2="283.5" stroke="#333" stroke-width="0.6"/>
<text x="223.3" y="285.3" font-size="5.1" font-weight="bold" text-anchor="end" fill="#1a1a1a">0</text>
<line x1="224.0" y1="228.00" x2="224.9" y2="228.00" stroke="#555" stroke-width="0.4"/>
<line x1="224.0" y1="231.47" x2="224.9" y2="231.47" stroke="#555" stroke-width="0.4"/>
<line x1="224.0" y1="234.94" x2="224.9" y2="234.94" stroke="#555" stroke-width="0.4"/>
<line x1="224.0" y1="238.41" x2="224.9" y2="238.41" stroke="#555" stroke-width="0.4"/>
<line x1="224.0" y1="241.88" x2="224.9" y2="241.88" stroke="#555" stroke-width="0.4"/>
<line x1="224.0" y1="245.34" x2="224.9" y2="245.34" stroke="#555" stroke-width="0.4"/>
<line x1="224.0" y1="248.81" x2="224.9" y2="248.81" stroke="#555" stroke-width="0.4"/>
<line x1="224.0" y1="252.28" x2="224.9" y2="252.28" stroke="#555" stroke-width="0.4"/>
<line x1="224.0" y1="255.75" x2="224.9" y2="255.75" stroke="#555" stroke-width="0.4"/>
<line x1="224.0" y1="259.22" x2="224.9" y2="259.22" stroke="#555" stroke-width="0.4"/>
<line x1="224.0" y1="262.69" x2="224.9" y2="262.69" stroke="#555" stroke-width="0.4"/>
<line x1="224.0" y1="266.16" x2="224.9" y2="266.16" stroke="#555" stroke-width="0.4"/>
<line x1="224.0" y1="269.62" x2="224.9" y2="269.62" stroke="#555" stroke-width="0.4"/>
<line x1="224.0" y1="273.09" x2="224.9" y2="273.09" stroke="#555" stroke-width="0.4"/>
<line x1="224.0" y1="276.56" x2="224.9" y2="276.56" stroke="#555" stroke-width="0.4"/>
<line x1="224.0" y1="280.03" x2="224.9" y2="280.03" stroke="#555" stroke-width="0.4"/>
<line x1="224.0" y1="283.50" x2="224.9" y2="283.50" stroke="#555" stroke-width="0.4"/>
<text x="229.5" y="291.10" font-size="5" fill="#111">0</text>
<text x="232.30" y="291.10" font-size="5" fill="#111">10<tspan dy="-2.2" font-size="3.6">2</tspan></text>
<line x1="236.10" y1="283.5" x2="236.10" y2="285.1" stroke="#333" stroke-width="0.5"/>
<text x="245.11" y="291.10" font-size="5" fill="#111">10<tspan dy="-2.2" font-size="3.6">3</tspan></text>
<line x1="248.91" y1="283.5" x2="248.91" y2="285.1" stroke="#333" stroke-width="0.5"/>
<text x="257.91" y="291.10" font-size="5" fill="#111">10<tspan dy="-2.2" font-size="3.6">4</tspan></text>
<line x1="261.71" y1="283.5" x2="261.71" y2="285.1" stroke="#333" stroke-width="0.5"/>
<text x="270.72" y="291.10" font-size="5" fill="#111">10<tspan dy="-2.2" font-size="3.6">5</tspan></text>
<line x1="274.52" y1="283.5" x2="274.52" y2="285.1" stroke="#333" stroke-width="0.5"/>
<path d="M224.90,283.50 L225.10,283.50 L225.30,283.50 L225.50,283.50 L225.70,283.50 L225.90,283.50 L226.10,283.50 L226.30,283.50 L226.50,283.50 L226.70,283.50 L226.90,283.50 L227.10,283.50 L227.30,283.50 L227.50,283.50 L227.70,283.50 L227.90,283.50 L228.10,283.50 L228.30,283.50 L228.50,283.50 L228.70,283.50 L228.90,283.50 L229.10,283.50 L229.30,283.50 L229.50,283.50 L229.70,283.50 L229.90,283.50 L230.10,283.50 L230.30,283.50 L230.50,283.50 L230.70,283.50 L230.90,283.50 L231.10,283.50 L231.30,283.50 L231.50,283.50 L231.70,283.50 L231.90,283.50 L232.10,283.50 L232.30,283.50 L232.50,283.50 L232.70,283.50 L232.90,283.50 L233.10,283.50 L233.30,283.50 L233.50,283.50 L233.70,283.50 L233.90,283.50 L234.10,283.50 L234.30,283.50 L234.50,283.50 L234.70,283.50 L234.90,283.50 L235.10,283.50 L235.30,283.50 L235.50,283.50 L235.70,283.50 L235.90,283.50 L236.10,283.50 L236.30,283.50 L236.50,283.50 L236.70,283.50 L236.90,283.50 L237.10,283.50 L237.30,283.49 L237.50,283.49 L237.70,283.49 L237.90,283.48 L238.10,283.47 L238.30,283.46 L238.50,283.45 L238.70,283.42 L238.90,283.39 L239.10,283.34 L239.30,283.28 L239.50,283.19 L239.70,283.08 L239.90,282.93 L240.10,282.72 L240.30,282.46 L240.50,282.11 L240.70,281.67 L240.90,281.11 L241.10,280.41 L241.30,279.53 L241.50,278.46 L241.70,277.16 L241.90,275.61 L242.10,273.76 L242.30,271.61 L242.50,269.14 L242.70,266.34 L242.90,263.22 L243.10,259.79 L243.30,256.11 L243.50,252.24 L243.70,248.27 L243.90,244.32 L244.10,240.53 L244.30,237.07 L244.50,234.14 L244.70,231.99 L244.90,231.00 L245.10,233.16 L245.30,236.69 L245.50,240.80 L245.70,245.13 L245.90,249.46 L246.10,253.65 L246.30,257.58 L246.50,261.21 L246.70,264.50 L246.90,267.43 L247.10,270.02 L247.30,272.27 L247.50,273.72 L247.70,273.19 L247.90,273.00 L248.10,273.13 L248.30,273.51 L248.50,274.10 L248.70,274.88 L248.90,275.79 L249.10,276.77 L249.30,277.77 L249.50,278.74 L249.70,279.64 L249.90,280.44 L250.10,281.14 L250.30,281.73 L250.50,282.20 L250.70,282.57 L250.90,282.85 L251.10,283.05 L251.30,283.20 L251.50,283.31 L251.70,283.38 L251.90,283.42 L252.10,283.45 L252.30,283.47 L252.50,283.48 L252.70,283.49 L252.90,283.49 L253.10,283.49 L253.30,283.50 L253.50,283.50 L253.70,283.50 L253.90,283.50 L254.10,283.50 L254.30,283.50 L254.50,283.50 L254.70,283.50 L254.90,283.50 L255.10,283.50 L255.30,283.50 L255.50,283.50 L255.70,283.50 L255.90,283.50 L256.10,283.50 L256.30,283.50 L256.50,283.50 L256.70,283.50 L256.90,283.50 L257.10,283.50 L257.30,283.50 L257.50,283.50 L257.70,283.50 L257.90,283.50 L258.10,283.50 L258.30,283.50 L258.50,283.50 L258.70,283.50 L258.90,283.50 L259.10,283.50 L259.30,283.50 L259.50,283.50 L259.70,283.50 L259.90,283.50 L260.10,283.50 L260.30,283.50 L260.50,283.50 L260.70,283.50 L260.90,283.50 L261.10,283.50 L261.30,283.50 L261.50,283.50 L261.70,283.50 L261.90,283.50 L262.10,283.50 L262.30,283.50 L262.50,283.50 L262.70,283.50 L262.90,283.50 L263.10,283.50 L263.30,283.50 L263.50,283.50 L263.70,283.50 L263.90,283.50 L264.10,283.50 L264.30,283.50 L264.50,283.50 L264.70,283.50 L264.90,283.50 L265.10,283.50 L265.30,283.50 L265.50,283.50 L265.70,283.50 L265.90,283.50 L266.10,283.50 L266.30,283.50 L266.50,283.50 L266.70,283.50 L266.90,283.50 L267.10,283.50 L267.30,283.50 L267.50,283.50 L267.70,283.50 L267.90,283.50 L268.10,283.50 L268.30,283.50 L268.50,283.50 L268.70,283.50 L268.90,283.50 L269.10,283.50 L269.30,283.50 L269.50,283.50 L269.70,283.50 L269.90,283.50 L270.10,283.50 L270.30,283.50 L270.50,283.50 L270.70,283.50 L270.90,283.50 L271.10,283.50 L271.30,283.50 L271.50,283.50 L271.70,283.50 L271.90,283.50 L272.10,283.50 L272.30,283.50 L272.50,283.50 L272.70,283.50 L272.90,283.50 L273.10,283.50 L273.30,283.50 L273.50,283.50 L273.70,283.50 L273.90,283.50 L274.10,283.50 L274.30,283.50 L274.50,283.50 L274.70,283.50 L274.90,283.50 L275.10,283.50 L275.30,283.50 L275.50,283.50 L275.70,283.50 L275.90,283.50 L276.10,283.50 L276.30,283.50 L276.50,283.50 L276.70,283.50 L276.90,283.50 L277.10,283.50 L277.30,283.50 L277.50,283.50 L277.70,283.50 L277.90,283.50 L278.10,283.50 L278.30,283.50 L278.50,283.50 L278.70,283.50 L278.90,283.50 L279.10,283.50 L279.30,283.50 L279.50,283.50 L279.70,283.50 L279.90,283.50 L280.10,283.50 L280.30,283.50 L280.50,283.50" fill="none" stroke="#3a3ac4" stroke-width="1.1" stroke-linejoin="round"/>
<line x1="249.2" y1="257.0" x2="280.5" y2="257.0" stroke="#555" stroke-width="0.9"/>
<line x1="249.2" y1="255.8" x2="249.2" y2="258.2" stroke="#555" stroke-width="0.6"/>
<text x="258.80" y="254.90" font-size="8.9" fill="#222">4.1</text>
<line x1="358.5" y1="227.7" x2="358.5" y2="282.3" stroke="#777" stroke-width="0.8"/>
<line x1="304.2" y1="227.7" x2="304.2" y2="282.3" stroke="#444" stroke-width="0.8"/>
<line x1="304.2" y1="282.3" x2="358.5" y2="282.3" stroke="#333" stroke-width="0.9"/>
<line x1="302.4" y1="233.5" x2="304.2" y2="233.5" stroke="#333" stroke-width="0.6"/>
<text x="302.59999999999997" y="235.3" font-size="5.1" font-weight="bold" text-anchor="end" fill="#1a1a1a">600</text>
<line x1="302.4" y1="249.5" x2="304.2" y2="249.5" stroke="#333" stroke-width="0.6"/>
<text x="302.59999999999997" y="251.3" font-size="5.1" font-weight="bold" text-anchor="end" fill="#1a1a1a">400</text>
<line x1="302.4" y1="265.8" x2="304.2" y2="265.8" stroke="#333" stroke-width="0.6"/>
<text x="302.59999999999997" y="267.6" font-size="5.1" font-weight="bold" text-anchor="end" fill="#1a1a1a">200</text>
<line x1="302.4" y1="282.3" x2="304.2" y2="282.3" stroke="#333" stroke-width="0.6"/>
<text x="302.59999999999997" y="284.1" font-size="5.1" font-weight="bold" text-anchor="end" fill="#1a1a1a">0</text>
<line x1="303.3" y1="227.70" x2="304.2" y2="227.70" stroke="#555" stroke-width="0.4"/>
<line x1="303.3" y1="231.11" x2="304.2" y2="231.11" stroke="#555" stroke-width="0.4"/>
<line x1="303.3" y1="234.52" x2="304.2" y2="234.52" stroke="#555" stroke-width="0.4"/>
<line x1="303.3" y1="237.94" x2="304.2" y2="237.94" stroke="#555" stroke-width="0.4"/>
<line x1="303.3" y1="241.35" x2="304.2" y2="241.35" stroke="#555" stroke-width="0.4"/>
<line x1="303.3" y1="244.76" x2="304.2" y2="244.76" stroke="#555" stroke-width="0.4"/>
<line x1="303.3" y1="248.18" x2="304.2" y2="248.18" stroke="#555" stroke-width="0.4"/>
<line x1="303.3" y1="251.59" x2="304.2" y2="251.59" stroke="#555" stroke-width="0.4"/>
<line x1="303.3" y1="255.00" x2="304.2" y2="255.00" stroke="#555" stroke-width="0.4"/>
<line x1="303.3" y1="258.41" x2="304.2" y2="258.41" stroke="#555" stroke-width="0.4"/>
<line x1="303.3" y1="261.82" x2="304.2" y2="261.82" stroke="#555" stroke-width="0.4"/>
<line x1="303.3" y1="265.24" x2="304.2" y2="265.24" stroke="#555" stroke-width="0.4"/>
<line x1="303.3" y1="268.65" x2="304.2" y2="268.65" stroke="#555" stroke-width="0.4"/>
<line x1="303.3" y1="272.06" x2="304.2" y2="272.06" stroke="#555" stroke-width="0.4"/>
<line x1="303.3" y1="275.48" x2="304.2" y2="275.48" stroke="#555" stroke-width="0.4"/>
<line x1="303.3" y1="278.89" x2="304.2" y2="278.89" stroke="#555" stroke-width="0.4"/>
<line x1="303.3" y1="282.30" x2="304.2" y2="282.30" stroke="#555" stroke-width="0.4"/>
<text x="308.8" y="289.90" font-size="5" fill="#111">0</text>
<text x="311.60" y="289.90" font-size="5" fill="#111">10<tspan dy="-2.2" font-size="3.6">2</tspan></text>
<line x1="315.40" y1="282.3" x2="315.40" y2="283.90000000000003" stroke="#333" stroke-width="0.5"/>
<text x="324.11" y="289.90" font-size="5" fill="#111">10<tspan dy="-2.2" font-size="3.6">3</tspan></text>
<line x1="327.91" y1="282.3" x2="327.91" y2="283.90000000000003" stroke="#333" stroke-width="0.5"/>
<text x="336.61" y="289.90" font-size="5" fill="#111">10<tspan dy="-2.2" font-size="3.6">4</tspan></text>
<line x1="340.41" y1="282.3" x2="340.41" y2="283.90000000000003" stroke="#333" stroke-width="0.5"/>
<text x="349.12" y="289.90" font-size="5" fill="#111">10<tspan dy="-2.2" font-size="3.6">5</tspan></text>
<line x1="352.92" y1="282.3" x2="352.92" y2="283.90000000000003" stroke="#333" stroke-width="0.5"/>
<path d="M304.20,282.30 L304.40,282.30 L304.60,282.30 L304.80,282.30 L305.00,282.30 L305.20,282.30 L305.40,282.30 L305.60,282.30 L305.80,282.30 L306.00,282.30 L306.20,282.30 L306.40,282.30 L306.60,282.30 L306.80,282.30 L307.00,282.30 L307.20,282.30 L307.40,282.30 L307.60,282.30 L307.80,282.30 L308.00,282.30 L308.20,282.30 L308.40,282.30 L308.60,282.30 L308.80,282.30 L309.00,282.30 L309.20,282.30 L309.40,282.30 L309.60,282.30 L309.80,282.30 L310.00,282.30 L310.20,282.30 L310.40,282.30 L310.60,282.30 L310.80,282.30 L311.00,282.30 L311.20,282.30 L311.40,282.30 L311.60,282.30 L311.80,282.30 L312.00,282.30 L312.20,282.30 L312.40,282.30 L312.60,282.30 L312.80,282.30 L313.00,282.30 L313.20,282.30 L313.40,282.30 L313.60,282.30 L313.80,282.30 L314.00,282.30 L314.20,282.30 L314.40,282.30 L314.60,282.30 L314.80,282.30 L315.00,282.30 L315.20,282.30 L315.40,282.30 L315.60,282.30 L315.80,282.30 L316.00,282.30 L316.20,282.30 L316.40,282.30 L316.60,282.30 L316.80,282.30 L317.00,282.30 L317.20,282.30 L317.40,282.30 L317.60,282.30 L317.80,282.29 L318.00,282.29 L318.20,282.28 L318.40,282.27 L318.60,282.25 L318.80,282.21 L319.00,282.17 L319.20,282.10 L319.40,282.00 L319.60,281.86 L319.80,281.67 L320.00,281.41 L320.20,281.06 L320.40,280.61 L320.60,280.04 L320.80,279.31 L321.00,278.42 L321.20,277.35 L321.40,276.07 L321.60,274.59 L321.80,272.90 L322.00,271.00 L322.20,268.92 L322.40,266.68 L322.60,264.31 L322.80,261.86 L323.00,259.38 L323.20,256.92 L323.40,254.54 L323.60,252.29 L323.80,250.21 L324.00,248.36 L324.20,246.77 L324.40,245.45 L324.60,244.43 L324.80,243.69 L325.00,243.22 L325.20,242.99 L325.40,242.93 L325.60,243.02 L325.80,243.41 L326.00,244.19 L326.20,245.28 L326.40,241.63 L326.60,238.24 L326.80,235.26 L327.00,232.85 L327.20,231.19 L327.40,230.50 L327.60,230.58 L327.80,230.89 L328.00,231.50 L328.20,232.46 L328.40,233.76 L328.60,235.42 L328.80,237.42 L329.00,239.73 L329.20,242.31 L329.40,245.11 L329.60,248.08 L329.80,251.15 L330.00,254.26 L330.20,257.35 L330.40,260.36 L330.60,263.24 L330.80,265.95 L331.00,268.45 L331.20,270.71 L331.40,272.74 L331.60,274.51 L331.80,276.04 L332.00,277.34 L332.20,278.43 L332.40,279.32 L332.60,280.03 L332.80,280.61 L333.00,281.05 L333.20,281.39 L333.40,281.65 L333.60,281.84 L333.80,281.98 L334.00,282.08 L334.20,282.16 L334.40,282.20 L334.60,282.24 L334.80,282.26 L335.00,282.27 L335.20,282.28 L335.40,282.29 L335.60,282.29 L335.80,282.30 L336.00,282.30 L336.20,282.30 L336.40,282.30 L336.60,282.30 L336.80,282.30 L337.00,282.30 L337.20,282.30 L337.40,282.30 L337.60,282.30 L337.80,282.30 L338.00,282.30 L338.20,282.30 L338.40,282.30 L338.60,282.30 L338.80,282.30 L339.00,282.30 L339.20,282.30 L339.40,282.30 L339.60,282.30 L339.80,282.30 L340.00,282.30 L340.20,282.30 L340.40,282.30 L340.60,282.30 L340.80,282.30 L341.00,282.30 L341.20,282.30 L341.40,282.30 L341.60,282.30 L341.80,282.30 L342.00,282.30 L342.20,282.30 L342.40,282.30 L342.60,282.30 L342.80,282.30 L343.00,282.30 L343.20,282.30 L343.40,282.30 L343.60,282.30 L343.80,282.30 L344.00,282.30 L344.20,282.30 L344.40,282.30 L344.60,282.30 L344.80,282.30 L345.00,282.30 L345.20,282.30 L345.40,282.30 L345.60,282.30 L345.80,282.30 L346.00,282.30 L346.20,282.30 L346.40,282.30 L346.60,282.30 L346.80,282.30 L347.00,282.30 L347.20,282.30 L347.40,282.30 L347.60,282.30 L347.80,282.30 L348.00,282.30 L348.20,282.30 L348.40,282.30 L348.60,282.30 L348.80,282.30 L349.00,282.30 L349.20,282.30 L349.40,282.30 L349.60,282.30 L349.80,282.30 L350.00,282.30 L350.20,282.30 L350.40,282.30 L350.60,282.30 L350.80,282.30 L351.00,282.30 L351.20,282.30 L351.40,282.30 L351.60,282.30 L351.80,282.30 L352.00,282.30 L352.20,282.30 L352.40,282.30 L352.60,282.30 L352.80,282.30 L353.00,282.30 L353.20,282.30 L353.40,282.30 L353.60,282.30 L353.80,282.30 L354.00,282.30 L354.20,282.30 L354.40,282.30 L354.60,282.30 L354.80,282.30 L355.00,282.30 L355.20,282.30 L355.40,282.30 L355.60,282.30 L355.80,282.30 L356.00,282.30 L356.20,282.30 L356.40,282.30 L356.60,282.30 L356.80,282.30 L357.00,282.30 L357.20,282.30 L357.40,282.30 L357.60,282.30 L357.80,282.30 L358.00,282.30 L358.20,282.30 L358.40,282.30" fill="none" stroke="#3a3ac4" stroke-width="1.1" stroke-linejoin="round"/>
<line x1="329.2" y1="255.4" x2="358.5" y2="255.4" stroke="#555" stroke-width="0.9"/>
<line x1="329.2" y1="254.20000000000002" x2="329.2" y2="256.6" stroke="#555" stroke-width="0.6"/>
<text x="339.50" y="253.30" font-size="8.9" fill="#222">18.3</text>
<line x1="437.0" y1="227.0" x2="437.0" y2="282.8" stroke="#777" stroke-width="0.8"/>
<line x1="383.0" y1="227.0" x2="383.0" y2="282.8" stroke="#444" stroke-width="0.8"/>
<line x1="383.0" y1="282.8" x2="437.0" y2="282.8" stroke="#333" stroke-width="0.9"/>
<line x1="381.2" y1="231.5" x2="383.0" y2="231.5" stroke="#333" stroke-width="0.6"/>
<text x="381.4" y="233.3" font-size="5.1" font-weight="bold" text-anchor="end" fill="#1a1a1a">600</text>
<line x1="381.2" y1="248.5" x2="383.0" y2="248.5" stroke="#333" stroke-width="0.6"/>
<text x="381.4" y="250.3" font-size="5.1" font-weight="bold" text-anchor="end" fill="#1a1a1a">400</text>
<line x1="381.2" y1="265.4" x2="383.0" y2="265.4" stroke="#333" stroke-width="0.6"/>
<text x="381.4" y="267.2" font-size="5.1" font-weight="bold" text-anchor="end" fill="#1a1a1a">200</text>
<line x1="381.2" y1="282.8" x2="383.0" y2="282.8" stroke="#333" stroke-width="0.6"/>
<text x="381.4" y="284.6" font-size="5.1" font-weight="bold" text-anchor="end" fill="#1a1a1a">0</text>
<line x1="382.1" y1="227.00" x2="383.0" y2="227.00" stroke="#555" stroke-width="0.4"/>
<line x1="382.1" y1="230.49" x2="383.0" y2="230.49" stroke="#555" stroke-width="0.4"/>
<line x1="382.1" y1="233.97" x2="383.0" y2="233.97" stroke="#555" stroke-width="0.4"/>
<line x1="382.1" y1="237.46" x2="383.0" y2="237.46" stroke="#555" stroke-width="0.4"/>
<line x1="382.1" y1="240.95" x2="383.0" y2="240.95" stroke="#555" stroke-width="0.4"/>
<line x1="382.1" y1="244.44" x2="383.0" y2="244.44" stroke="#555" stroke-width="0.4"/>
<line x1="382.1" y1="247.93" x2="383.0" y2="247.93" stroke="#555" stroke-width="0.4"/>
<line x1="382.1" y1="251.41" x2="383.0" y2="251.41" stroke="#555" stroke-width="0.4"/>
<line x1="382.1" y1="254.90" x2="383.0" y2="254.90" stroke="#555" stroke-width="0.4"/>
<line x1="382.1" y1="258.39" x2="383.0" y2="258.39" stroke="#555" stroke-width="0.4"/>
<line x1="382.1" y1="261.88" x2="383.0" y2="261.88" stroke="#555" stroke-width="0.4"/>
<line x1="382.1" y1="265.36" x2="383.0" y2="265.36" stroke="#555" stroke-width="0.4"/>
<line x1="382.1" y1="268.85" x2="383.0" y2="268.85" stroke="#555" stroke-width="0.4"/>
<line x1="382.1" y1="272.34" x2="383.0" y2="272.34" stroke="#555" stroke-width="0.4"/>
<line x1="382.1" y1="275.82" x2="383.0" y2="275.82" stroke="#555" stroke-width="0.4"/>
<line x1="382.1" y1="279.31" x2="383.0" y2="279.31" stroke="#555" stroke-width="0.4"/>
<line x1="382.1" y1="282.80" x2="383.0" y2="282.80" stroke="#555" stroke-width="0.4"/>
<text x="387.6" y="290.40" font-size="5" fill="#111">0</text>
<text x="390.40" y="290.40" font-size="5" fill="#111">10<tspan dy="-2.2" font-size="3.6">2</tspan></text>
<line x1="394.20" y1="282.8" x2="394.20" y2="284.40000000000003" stroke="#333" stroke-width="0.5"/>
<text x="402.84" y="290.40" font-size="5" fill="#111">10<tspan dy="-2.2" font-size="3.6">3</tspan></text>
<line x1="406.64" y1="282.8" x2="406.64" y2="284.40000000000003" stroke="#333" stroke-width="0.5"/>
<text x="415.28" y="290.40" font-size="5" fill="#111">10<tspan dy="-2.2" font-size="3.6">4</tspan></text>
<line x1="419.08" y1="282.8" x2="419.08" y2="284.40000000000003" stroke="#333" stroke-width="0.5"/>
<text x="427.71" y="290.40" font-size="5" fill="#111">10<tspan dy="-2.2" font-size="3.6">5</tspan></text>
<line x1="431.51" y1="282.8" x2="431.51" y2="284.40000000000003" stroke="#333" stroke-width="0.5"/>
<path d="M383.00,282.80 L383.20,282.80 L383.40,282.80 L383.60,282.80 L383.80,282.80 L384.00,282.80 L384.20,282.80 L384.40,282.80 L384.60,282.80 L384.80,282.80 L385.00,282.80 L385.20,282.80 L385.40,282.80 L385.60,282.80 L385.80,282.80 L386.00,282.80 L386.20,282.80 L386.40,282.80 L386.60,282.80 L386.80,282.80 L387.00,282.80 L387.20,282.80 L387.40,282.80 L387.60,282.80 L387.80,282.80 L388.00,282.80 L388.20,282.80 L388.40,282.80 L388.60,282.80 L388.80,282.80 L389.00,282.80 L389.20,282.80 L389.40,282.80 L389.60,282.80 L389.80,282.80 L390.00,282.80 L390.20,282.80 L390.40,282.80 L390.60,282.80 L390.80,282.80 L391.00,282.80 L391.20,282.80 L391.40,282.80 L391.60,282.80 L391.80,282.80 L392.00,282.80 L392.20,282.80 L392.40,282.79 L392.60,282.79 L392.80,282.79 L393.00,282.79 L393.20,282.79 L393.40,282.78 L393.60,282.78 L393.80,282.77 L394.00,282.77 L394.20,282.76 L394.40,282.75 L394.60,282.74 L394.80,282.73 L395.00,282.71 L395.20,282.69 L395.40,282.67 L395.60,282.64 L395.80,282.60 L396.00,282.56 L396.20,282.51 L396.40,282.46 L396.60,282.39 L396.80,282.31 L397.00,282.21 L397.20,282.10 L397.40,281.98 L397.60,281.83 L397.80,281.65 L398.00,281.45 L398.20,281.22 L398.40,280.96 L398.60,280.66 L398.80,280.31 L399.00,279.92 L399.20,279.48 L399.40,278.98 L399.60,278.41 L399.80,277.78 L400.00,277.08 L400.20,276.30 L400.40,275.44 L400.60,274.49 L400.80,273.45 L401.00,272.31 L401.20,271.07 L401.40,269.72 L401.60,268.28 L401.80,266.72 L402.00,265.07 L402.20,263.31 L402.40,261.46 L402.60,259.51 L402.80,257.48 L403.00,255.39 L403.20,253.23 L403.40,251.03 L403.60,248.80 L403.80,246.57 L404.00,244.36 L404.20,242.19 L404.40,240.10 L404.60,238.12 L404.80,236.27 L405.00,234.61 L405.20,233.17 L405.40,232.00 L405.60,231.17 L405.80,230.80 L406.00,231.50 L406.20,232.83 L406.40,234.54 L406.60,236.52 L406.80,238.70 L407.00,241.01 L407.20,243.41 L407.40,245.84 L407.60,248.29 L407.80,250.71 L408.00,253.08 L408.20,255.39 L408.40,257.61 L408.60,259.74 L408.80,261.76 L409.00,263.67 L409.20,265.47 L409.40,267.14 L409.60,268.70 L409.80,270.15 L410.00,271.48 L410.20,272.69 L410.40,273.81 L410.60,274.82 L410.80,275.74 L411.00,276.57 L411.20,277.32 L411.40,277.99 L411.60,278.59 L411.80,279.12 L412.00,279.60 L412.20,280.02 L412.40,280.39 L412.60,280.72 L412.80,281.00 L413.00,281.25 L413.20,281.47 L413.40,281.66 L413.60,281.83 L413.80,281.97 L414.00,282.09 L414.20,282.20 L414.40,282.29 L414.60,282.37 L414.80,282.44 L415.00,282.50 L415.20,282.54 L415.40,282.59 L415.60,282.62 L415.80,282.65 L416.00,282.67 L416.20,282.70 L416.40,282.71 L416.60,282.73 L416.80,282.74 L417.00,282.75 L417.20,282.76 L417.40,282.77 L417.60,282.77 L417.80,282.78 L418.00,282.78 L418.20,282.79 L418.40,282.79 L418.60,282.79 L418.80,282.79 L419.00,282.79 L419.20,282.79 L419.40,282.80 L419.60,282.80 L419.80,282.80 L420.00,282.80 L420.20,282.80 L420.40,282.80 L420.60,282.80 L420.80,282.80 L421.00,282.80 L421.20,282.80 L421.40,282.80 L421.60,282.80 L421.80,282.80 L422.00,282.80 L422.20,282.80 L422.40,282.80 L422.60,282.80 L422.80,282.80 L423.00,282.80 L423.20,282.80 L423.40,282.80 L423.60,282.80 L423.80,282.80 L424.00,282.80 L424.20,282.80 L424.40,282.80 L424.60,282.80 L424.80,282.80 L425.00,282.80 L425.20,282.80 L425.40,282.80 L425.60,282.80 L425.80,282.80 L426.00,282.80 L426.20,282.80 L426.40,282.80 L426.60,282.80 L426.80,282.80 L427.00,282.80 L427.20,282.80 L427.40,282.80 L427.60,282.80 L427.80,282.80 L428.00,282.80 L428.20,282.80 L428.40,282.80 L428.60,282.80 L428.80,282.80 L429.00,282.80 L429.20,282.80 L429.40,282.80 L429.60,282.80 L429.80,282.80 L430.00,282.80 L430.20,282.80 L430.40,282.80 L430.60,282.80 L430.80,282.80 L431.00,282.80 L431.20,282.80 L431.40,282.80 L431.60,282.80 L431.80,282.80 L432.00,282.80 L432.20,282.80 L432.40,282.80 L432.60,282.80 L432.80,282.80 L433.00,282.80 L433.20,282.80 L433.40,282.80 L433.60,282.80 L433.80,282.80 L434.00,282.80 L434.20,282.80 L434.40,282.80 L434.60,282.80 L434.80,282.80 L435.00,282.80 L435.20,282.80 L435.40,282.80 L435.60,282.80 L435.80,282.80 L436.00,282.80 L436.20,282.80 L436.40,282.80 L436.60,282.80 L436.80,282.80 L437.00,282.80" fill="none" stroke="#3a3ac4" stroke-width="1.1" stroke-linejoin="round"/>
<line x1="408.0" y1="255.4" x2="437.0" y2="255.4" stroke="#555" stroke-width="0.9"/>
<line x1="408.0" y1="254.20000000000002" x2="408.0" y2="256.6" stroke="#555" stroke-width="0.6"/>
<text x="413.50" y="253.30" font-size="8.9" fill="#222">19.9</text>
<line x1="515.8" y1="227.0" x2="515.8" y2="281.7" stroke="#777" stroke-width="0.8"/>
<line x1="462.6" y1="227.0" x2="462.6" y2="281.7" stroke="#444" stroke-width="0.8"/>
<line x1="462.6" y1="281.7" x2="515.8" y2="281.7" stroke="#333" stroke-width="0.9"/>
<line x1="460.8" y1="232.6" x2="462.6" y2="232.6" stroke="#333" stroke-width="0.6"/>
<text x="461.0" y="234.4" font-size="5.1" font-weight="bold" text-anchor="end" fill="#1a1a1a">600</text>
<line x1="460.8" y1="248.5" x2="462.6" y2="248.5" stroke="#333" stroke-width="0.6"/>
<text x="461.0" y="250.3" font-size="5.1" font-weight="bold" text-anchor="end" fill="#1a1a1a">400</text>
<line x1="460.8" y1="265.4" x2="462.6" y2="265.4" stroke="#333" stroke-width="0.6"/>
<text x="461.0" y="267.2" font-size="5.1" font-weight="bold" text-anchor="end" fill="#1a1a1a">200</text>
<line x1="460.8" y1="281.7" x2="462.6" y2="281.7" stroke="#333" stroke-width="0.6"/>
<text x="461.0" y="283.5" font-size="5.1" font-weight="bold" text-anchor="end" fill="#1a1a1a">0</text>
<line x1="461.70000000000005" y1="227.00" x2="462.6" y2="227.00" stroke="#555" stroke-width="0.4"/>
<line x1="461.70000000000005" y1="230.42" x2="462.6" y2="230.42" stroke="#555" stroke-width="0.4"/>
<line x1="461.70000000000005" y1="233.84" x2="462.6" y2="233.84" stroke="#555" stroke-width="0.4"/>
<line x1="461.70000000000005" y1="237.26" x2="462.6" y2="237.26" stroke="#555" stroke-width="0.4"/>
<line x1="461.70000000000005" y1="240.68" x2="462.6" y2="240.68" stroke="#555" stroke-width="0.4"/>
<line x1="461.70000000000005" y1="244.09" x2="462.6" y2="244.09" stroke="#555" stroke-width="0.4"/>
<line x1="461.70000000000005" y1="247.51" x2="462.6" y2="247.51" stroke="#555" stroke-width="0.4"/>
<line x1="461.70000000000005" y1="250.93" x2="462.6" y2="250.93" stroke="#555" stroke-width="0.4"/>
<line x1="461.70000000000005" y1="254.35" x2="462.6" y2="254.35" stroke="#555" stroke-width="0.4"/>
<line x1="461.70000000000005" y1="257.77" x2="462.6" y2="257.77" stroke="#555" stroke-width="0.4"/>
<line x1="461.70000000000005" y1="261.19" x2="462.6" y2="261.19" stroke="#555" stroke-width="0.4"/>
<line x1="461.70000000000005" y1="264.61" x2="462.6" y2="264.61" stroke="#555" stroke-width="0.4"/>
<line x1="461.70000000000005" y1="268.02" x2="462.6" y2="268.02" stroke="#555" stroke-width="0.4"/>
<line x1="461.70000000000005" y1="271.44" x2="462.6" y2="271.44" stroke="#555" stroke-width="0.4"/>
<line x1="461.70000000000005" y1="274.86" x2="462.6" y2="274.86" stroke="#555" stroke-width="0.4"/>
<line x1="461.70000000000005" y1="278.28" x2="462.6" y2="278.28" stroke="#555" stroke-width="0.4"/>
<line x1="461.70000000000005" y1="281.70" x2="462.6" y2="281.70" stroke="#555" stroke-width="0.4"/>
<text x="467.20000000000005" y="289.30" font-size="5" fill="#111">0</text>
<text x="470.00" y="289.30" font-size="5" fill="#111">10<tspan dy="-2.2" font-size="3.6">2</tspan></text>
<line x1="473.80" y1="281.7" x2="473.80" y2="283.3" stroke="#333" stroke-width="0.5"/>
<text x="482.25" y="289.30" font-size="5" fill="#111">10<tspan dy="-2.2" font-size="3.6">3</tspan></text>
<line x1="486.05" y1="281.7" x2="486.05" y2="283.3" stroke="#333" stroke-width="0.5"/>
<text x="494.51" y="289.30" font-size="5" fill="#111">10<tspan dy="-2.2" font-size="3.6">4</tspan></text>
<line x1="498.31" y1="281.7" x2="498.31" y2="283.3" stroke="#333" stroke-width="0.5"/>
<text x="506.76" y="289.30" font-size="5" fill="#111">10<tspan dy="-2.2" font-size="3.6">5</tspan></text>
<line x1="510.56" y1="281.7" x2="510.56" y2="283.3" stroke="#333" stroke-width="0.5"/>
<path d="M462.60,281.70 L462.80,281.70 L463.00,281.70 L463.20,281.70 L463.40,281.70 L463.60,281.70 L463.80,281.70 L464.00,281.70 L464.20,281.70 L464.40,281.70 L464.60,281.70 L464.80,281.70 L465.00,281.70 L465.20,281.70 L465.40,281.70 L465.60,281.70 L465.80,281.70 L466.00,281.70 L466.20,281.70 L466.40,281.70 L466.60,281.70 L466.80,281.70 L467.00,281.70 L467.20,281.70 L467.40,281.70 L467.60,281.70 L467.80,281.70 L468.00,281.70 L468.20,281.70 L468.40,281.70 L468.60,281.70 L468.80,281.70 L469.00,281.70 L469.20,281.70 L469.40,281.70 L469.60,281.70 L469.80,281.70 L470.00,281.70 L470.20,281.70 L470.40,281.70 L470.60,281.70 L470.80,281.70 L471.00,281.70 L471.20,281.70 L471.40,281.70 L471.60,281.70 L471.80,281.70 L472.00,281.70 L472.20,281.70 L472.40,281.70 L472.60,281.70 L472.80,281.70 L473.00,281.70 L473.20,281.70 L473.40,281.70 L473.60,281.70 L473.80,281.70 L474.00,281.70 L474.20,281.69 L474.40,281.69 L474.60,281.69 L474.80,281.69 L475.00,281.68 L475.20,281.68 L475.40,281.67 L475.60,281.66 L475.80,281.65 L476.00,281.63 L476.20,281.61 L476.40,281.59 L476.60,281.56 L476.80,281.52 L477.00,281.47 L477.20,281.41 L477.40,281.33 L477.60,281.24 L477.80,281.13 L478.00,280.99 L478.20,280.83 L478.40,280.63 L478.60,280.40 L478.80,280.12 L479.00,279.79 L479.20,279.40 L479.40,278.95 L479.60,278.42 L479.80,277.82 L480.00,277.12 L480.20,276.33 L480.40,275.43 L480.60,274.42 L480.80,273.29 L481.00,272.04 L481.20,270.65 L481.40,269.13 L481.60,267.48 L481.80,265.69 L482.00,263.78 L482.20,261.74 L482.40,259.59 L482.60,257.34 L482.80,255.02 L483.00,252.63 L483.20,250.20 L483.40,247.77 L483.60,245.37 L483.80,243.01 L484.00,240.76 L484.20,238.63 L484.40,236.67 L484.60,234.93 L484.80,233.43 L485.00,232.23 L485.20,231.36 L485.40,230.87 L485.60,230.85 L485.80,231.23 L486.00,231.99 L486.20,233.11 L486.40,234.56 L486.60,236.31 L486.80,238.33 L487.00,240.57 L487.20,242.98 L487.40,245.54 L487.60,248.17 L487.80,250.85 L488.00,253.53 L488.20,256.17 L488.40,258.74 L488.60,261.21 L488.80,263.55 L489.00,265.74 L489.20,267.77 L489.40,269.64 L489.60,271.34 L489.80,272.86 L490.00,274.22 L490.20,275.41 L490.40,276.46 L490.60,277.36 L490.80,278.14 L491.00,278.80 L491.20,279.35 L491.40,279.81 L491.60,280.20 L491.80,280.51 L492.00,280.77 L492.20,280.97 L492.40,281.14 L492.60,281.27 L492.80,281.37 L493.00,281.45 L493.20,281.51 L493.40,281.56 L493.60,281.60 L493.80,281.63 L494.00,281.65 L494.20,281.66 L494.40,281.67 L494.60,281.68 L494.80,281.69 L495.00,281.69 L495.20,281.69 L495.40,281.70 L495.60,281.70 L495.80,281.70 L496.00,281.70 L496.20,281.70 L496.40,281.70 L496.60,281.70 L496.80,281.70 L497.00,281.70 L497.20,281.70 L497.40,281.70 L497.60,281.70 L497.80,281.70 L498.00,281.70 L498.20,281.70 L498.40,281.70 L498.60,281.70 L498.80,281.70 L499.00,281.70 L499.20,281.70 L499.40,281.70 L499.60,281.70 L499.80,281.70 L500.00,281.70 L500.20,281.70 L500.40,281.70 L500.60,281.70 L500.80,281.70 L501.00,281.70 L501.20,281.70 L501.40,281.70 L501.60,281.70 L501.80,281.70 L502.00,281.70 L502.20,281.70 L502.40,281.70 L502.60,281.70 L502.80,281.70 L503.00,281.70 L503.20,281.70 L503.40,281.70 L503.60,281.70 L503.80,281.70 L504.00,281.70 L504.20,281.70 L504.40,281.70 L504.60,281.70 L504.80,281.70 L505.00,281.70 L505.20,281.70 L505.40,281.70 L505.60,281.70 L505.80,281.70 L506.00,281.70 L506.20,281.70 L506.40,281.70 L506.60,281.70 L506.80,281.70 L507.00,281.70 L507.20,281.70 L507.40,281.70 L507.60,281.70 L507.80,281.70 L508.00,281.70 L508.20,281.70 L508.40,281.70 L508.60,281.70 L508.80,281.70 L509.00,281.70 L509.20,281.70 L509.40,281.70 L509.60,281.70 L509.80,281.70 L510.00,281.70 L510.20,281.70 L510.40,281.70 L510.60,281.70 L510.80,281.70 L511.00,281.70 L511.20,281.70 L511.40,281.70 L511.60,281.70 L511.80,281.70 L512.00,281.70 L512.20,281.70 L512.40,281.70 L512.60,281.70 L512.80,281.70 L513.00,281.70 L513.20,281.70 L513.40,281.70 L513.60,281.70 L513.80,281.70 L514.00,281.70 L514.20,281.70 L514.40,281.70 L514.60,281.70 L514.80,281.70 L515.00,281.70 L515.20,281.70 L515.40,281.70 L515.60,281.70 L515.80,281.70" fill="none" stroke="#3a3ac4" stroke-width="1.1" stroke-linejoin="round"/>
<line x1="486.5" y1="255.4" x2="515.8" y2="255.4" stroke="#555" stroke-width="0.9"/>
<line x1="486.5" y1="254.20000000000002" x2="486.5" y2="256.6" stroke="#555" stroke-width="0.6"/>
<text x="494.60" y="253.30" font-size="8.9" fill="#222">21.5</text>
<line x1="225" y1="301.2" x2="504" y2="301.2" stroke="#000" stroke-width="1.5"/>
<polyline points="499.2,298.3 504.4,301.2 499.2,304.1" fill="none" stroke="#000" stroke-width="1.3"/>
<text x="349.4" y="318.2" font-size="12.2" fill="#222">pSYK</text>
<text x="188.0" y="345.4" font-size="16.5" font-weight="bold">C</text>
<line x1="242.3" y1="379.6" x2="242.3" y2="557" stroke="#c8c8c8" stroke-width="0.9"/>
<line x1="238.1" y1="556.60" x2="242.3" y2="556.60" stroke="#111" stroke-width="1.4"/>
<text x="230.6" y="561.20" font-size="12.3" text-anchor="end" fill="#222">0</text>
<line x1="238.1" y1="512.40" x2="242.3" y2="512.40" stroke="#111" stroke-width="1.4"/>
<text x="232.2" y="517.00" font-size="12.3" text-anchor="end" fill="#222">10</text>
<line x1="238.1" y1="468.20" x2="242.3" y2="468.20" stroke="#111" stroke-width="1.4"/>
<text x="232.2" y="472.80" font-size="12.3" text-anchor="end" fill="#222">20</text>
<line x1="238.1" y1="424.00" x2="242.3" y2="424.00" stroke="#111" stroke-width="1.4"/>
<text x="232.2" y="428.60" font-size="12.3" text-anchor="end" fill="#222">30</text>
<line x1="238.1" y1="379.80" x2="242.3" y2="379.80" stroke="#111" stroke-width="1.4"/>
<text x="232.2" y="384.40" font-size="12.3" text-anchor="end" fill="#222">40</text>
<text x="0" y="0" font-size="14.85" text-anchor="middle" fill="#222" transform="translate(201.8,462.7) rotate(-90)">% p-SYK positive cells</text>
<rect x="255.2" y="379.1" width="9.4" height="9.4" fill="#ee1c24"/>
<text x="269.8" y="388.5" font-size="13.05" fill="#222">M-CLL</text>
<circle cx="260.2" cy="402.2" r="4.7" fill="#1c1cdc"/>
<text x="269.8" y="406.8" font-size="13.05" fill="#222">UM-CLL</text>
<polygon points="255.4,426.7 264.6,426.7 260,418" fill="#000"/>
<text x="269.8" y="426.7" font-size="13.05" fill="#222">control</text>
<line x1="290.0" y1="533.17" x2="290.0" y2="543.78" stroke="#4848d0" stroke-width="1.0"/>
<line x1="287.0" y1="533.17" x2="293.0" y2="533.17" stroke="#4848d0" stroke-width="1.1"/>
<line x1="287.0" y1="543.78" x2="293.0" y2="543.78" stroke="#4848d0" stroke-width="1.1"/>
<line x1="357.3" y1="443.89" x2="357.3" y2="491.63" stroke="#4848d0" stroke-width="1.0"/>
<line x1="354.3" y1="443.89" x2="360.3" y2="443.89" stroke="#4848d0" stroke-width="1.1"/>
<line x1="354.3" y1="491.63" x2="360.3" y2="491.63" stroke="#4848d0" stroke-width="1.1"/>
<line x1="424.3" y1="451.40" x2="424.3" y2="497.37" stroke="#4848d0" stroke-width="1.0"/>
<line x1="421.3" y1="451.40" x2="427.3" y2="451.40" stroke="#4848d0" stroke-width="1.1"/>
<line x1="421.3" y1="497.37" x2="427.3" y2="497.37" stroke="#4848d0" stroke-width="1.1"/>
<line x1="491.1" y1="430.19" x2="491.1" y2="489.42" stroke="#4848d0" stroke-width="1.0"/>
<line x1="488.1" y1="430.19" x2="494.1" y2="430.19" stroke="#4848d0" stroke-width="1.1"/>
<line x1="488.1" y1="489.42" x2="494.1" y2="489.42" stroke="#4848d0" stroke-width="1.1"/>
<line x1="290.0" y1="520.80" x2="290.0" y2="543.78" stroke="#d84050" stroke-width="1.0"/>
<line x1="287.0" y1="520.80" x2="293.0" y2="520.80" stroke="#d84050" stroke-width="1.1"/>
<line x1="287.0" y1="543.78" x2="293.0" y2="543.78" stroke="#d84050" stroke-width="1.1"/>
<line x1="357.3" y1="450.96" x2="357.3" y2="494.28" stroke="#d84050" stroke-width="1.0"/>
<line x1="354.3" y1="450.96" x2="360.3" y2="450.96" stroke="#d84050" stroke-width="1.1"/>
<line x1="354.3" y1="494.28" x2="360.3" y2="494.28" stroke="#d84050" stroke-width="1.1"/>
<line x1="424.3" y1="446.10" x2="424.3" y2="487.65" stroke="#d84050" stroke-width="1.0"/>
<line x1="421.3" y1="446.10" x2="427.3" y2="446.10" stroke="#d84050" stroke-width="1.1"/>
<line x1="421.3" y1="487.65" x2="427.3" y2="487.65" stroke="#d84050" stroke-width="1.1"/>
<line x1="491.1" y1="524.78" x2="491.1" y2="537.15" stroke="#d84050" stroke-width="1.0"/>
<line x1="488.1" y1="524.78" x2="494.1" y2="524.78" stroke="#d84050" stroke-width="1.1"/>
<line x1="488.1" y1="537.15" x2="494.1" y2="537.15" stroke="#d84050" stroke-width="1.1"/>
<line x1="290.0" y1="545.99" x2="290.0" y2="551.30" stroke="#333" stroke-width="1.0"/>
<line x1="287.0" y1="545.99" x2="293.0" y2="545.99" stroke="#333" stroke-width="1.1"/>
<line x1="287.0" y1="551.30" x2="293.0" y2="551.30" stroke="#333" stroke-width="1.1"/>
<line x1="357.3" y1="438.14" x2="357.3" y2="480.58" stroke="#333" stroke-width="1.0"/>
<line x1="354.3" y1="438.14" x2="360.3" y2="438.14" stroke="#333" stroke-width="1.1"/>
<line x1="354.3" y1="480.58" x2="360.3" y2="480.58" stroke="#333" stroke-width="1.1"/>
<line x1="424.3" y1="467.32" x2="424.3" y2="500.91" stroke="#333" stroke-width="1.0"/>
<line x1="421.3" y1="467.32" x2="427.3" y2="467.32" stroke="#333" stroke-width="1.1"/>
<line x1="421.3" y1="500.91" x2="427.3" y2="500.91" stroke="#333" stroke-width="1.1"/>
<line x1="491.1" y1="500.47" x2="491.1" y2="528.75" stroke="#333" stroke-width="1.0"/>
<line x1="488.1" y1="500.47" x2="494.1" y2="500.47" stroke="#333" stroke-width="1.1"/>
<line x1="488.1" y1="528.75" x2="494.1" y2="528.75" stroke="#333" stroke-width="1.1"/>
<polyline points="290.0,532.29 357.3,472.62 424.3,466.87 491.1,530.96" fill="none" stroke="#dc1820" stroke-width="2.2" stroke-linejoin="round"/>
<polyline points="290.0,538.48 357.3,467.76 424.3,474.39 491.1,459.80" fill="none" stroke="#1414dc" stroke-width="2.2" stroke-linejoin="round"/>
<polyline points="290.0,548.64 357.3,459.36 424.3,484.11 491.1,514.61" fill="none" stroke="#000" stroke-width="2.2" stroke-linejoin="round"/>
<rect x="286.80" y="529.09" width="6.4" height="6.4" fill="#ee1c24"/>
<rect x="354.10" y="469.42" width="6.4" height="6.4" fill="#ee1c24"/>
<rect x="421.10" y="463.67" width="6.4" height="6.4" fill="#ee1c24"/>
<rect x="487.90" y="527.76" width="6.4" height="6.4" fill="#ee1c24"/>
<circle cx="290.0" cy="538.48" r="3.1" fill="#1c1cdc"/>
<circle cx="357.3" cy="467.76" r="3.1" fill="#1c1cdc"/>
<circle cx="424.3" cy="474.39" r="3.1" fill="#1c1cdc"/>
<circle cx="491.1" cy="459.80" r="3.1" fill="#1c1cdc"/>
<polygon points="286.80,551.24 293.20,551.24 290.00,545.84" fill="#000"/>
<polygon points="354.10,461.96 360.50,461.96 357.30,456.56" fill="#000"/>
<polygon points="421.10,486.71 427.50,486.71 424.30,481.31" fill="#000"/>
<polygon points="487.90,517.21 494.30,517.21 491.10,511.81" fill="#000"/>
<line x1="295.8" y1="571" x2="295.8" y2="575" stroke="#111" stroke-width="1.3"/>
<line x1="358.0" y1="571" x2="358.0" y2="575" stroke="#111" stroke-width="1.3"/>
<line x1="425.8" y1="571" x2="425.8" y2="575" stroke="#111" stroke-width="1.3"/>
<line x1="493.0" y1="571" x2="493.0" y2="575" stroke="#111" stroke-width="1.3"/>
<text x="340.2" y="591.2" font-size="13.05" text-anchor="end" fill="#222">unstimulated</text>
<text x="358.2" y="591.2" font-size="13.1" text-anchor="middle" fill="#222">8</text>
<text x="427.5" y="591.2" font-size="13.1" text-anchor="middle" fill="#222">15</text>
<text x="494.0" y="591.2" font-size="13.1" text-anchor="middle" fill="#222">45</text>
<line x1="344.2" y1="603" x2="509.4" y2="603" stroke="#000" stroke-width="1.8"/>
<text x="347.0" y="617.2" font-size="13.05" fill="#222">minutes from IgM activation</text>
</svg>
</body></html>
